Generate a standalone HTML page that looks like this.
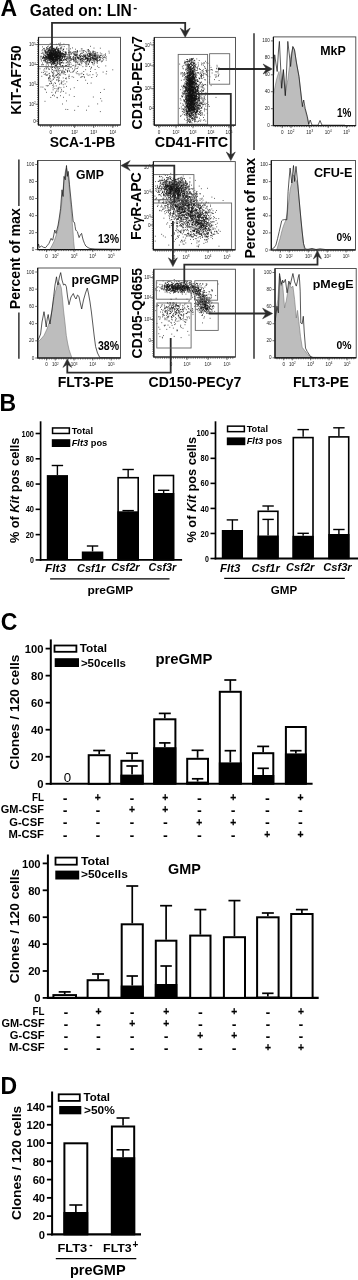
<!DOCTYPE html>
<html><head><meta charset="utf-8"><title>Figure</title>
<style>
html,body{margin:0;padding:0;background:#fff;}
svg{display:block;font-family:"Liberation Sans", sans-serif;}
</style></head><body>
<svg width="358" height="1280" viewBox="0 0 358 1280">
<rect x="0" y="0" width="358" height="1280" fill="#fff"/>
<g style="filter:blur(0.4px)">
<text x="0.5" y="16.1" font-size="23" font-weight="bold" >A</text>
<text x="29.8" y="16.2" font-size="15.6" font-weight="bold" textLength="102" lengthAdjust="spacingAndGlyphs" >Gated on: LIN</text>
<text x="133.2" y="11.3" font-size="11" font-weight="bold" textLength="4" lengthAdjust="spacingAndGlyphs" >-</text>
<path d="M62.3 54.0h0.8M53.4 57.7h0.8M48.9 56.0h0.8M53.2 48.6h0.8M58.7 58.5h0.8M49.8 55.3h0.8M55.9 54.9h0.8M51.9 49.9h0.8M56.2 56.5h0.8M54.7 49.6h0.8M62.1 56.6h0.8M51.1 64.5h0.8M53.0 49.9h0.8M51.0 46.4h0.8M58.9 54.3h0.8M49.2 60.5h0.8M44.3 58.2h0.8M42.1 53.2h0.8M46.7 62.1h0.8M62.7 54.6h0.8M57.7 55.2h0.8M56.3 52.8h0.8M44.0 48.4h0.8M55.3 65.4h0.8M54.7 53.8h0.8M63.5 57.0h0.8M53.7 57.1h0.8M52.5 54.7h0.8M45.5 58.1h0.8M52.7 61.0h0.8M51.2 48.0h0.8M52.7 63.1h0.8M51.1 52.3h0.8M46.8 51.6h0.8M51.6 51.0h0.8M61.3 54.8h0.8M53.8 62.0h0.8M61.3 55.1h0.8M55.0 59.1h0.8M52.2 48.5h0.8M56.7 59.8h0.8M55.4 52.1h0.8M52.1 53.5h0.8M51.6 61.4h0.8M61.5 58.8h0.8M56.2 58.8h0.8M53.1 55.7h0.8M49.6 55.8h0.8M65.4 59.6h0.8M51.4 54.0h0.8M48.5 57.6h0.8M55.3 49.9h0.8M55.8 53.6h0.8M60.9 56.7h0.8M62.5 54.1h0.8M51.6 57.3h0.8M58.9 58.4h0.8M46.5 56.8h0.8M53.3 54.2h0.8M49.7 63.3h0.8M51.1 52.4h0.8M56.6 56.5h0.8M52.8 59.3h0.8M55.8 57.5h0.8M58.4 57.2h0.8M49.9 54.5h0.8M50.4 56.9h0.8M47.4 48.3h0.8M53.7 50.4h0.8M42.7 57.6h0.8M49.4 58.1h0.8M50.3 51.3h0.8M46.5 53.8h0.8M51.7 52.5h0.8M51.7 49.5h0.8M53.3 48.5h0.8M52.2 58.9h0.8M59.1 63.2h0.8M44.8 59.2h0.8M59.7 60.1h0.8M48.2 57.7h0.8M63.2 49.7h0.8M55.8 60.7h0.8M49.4 58.4h0.8M47.4 52.6h0.8M48.8 56.8h0.8M52.7 60.0h0.8M48.1 55.4h0.8M58.4 58.4h0.8M46.0 58.8h0.8M50.6 57.6h0.8M54.8 61.1h0.8M53.8 48.2h0.8M45.8 59.1h0.8M51.8 60.8h0.8M54.7 52.9h0.8M59.0 52.6h0.8M42.1 64.7h0.8M42.9 58.7h0.8M58.3 56.6h0.8M44.1 60.3h0.8M45.4 50.4h0.8M51.2 59.3h0.8M54.8 59.4h0.8M50.8 55.3h0.8M47.1 54.7h0.8M56.4 54.7h0.8M55.8 53.6h0.8M50.0 56.2h0.8M52.1 58.5h0.8M54.2 63.3h0.8M52.0 55.0h0.8M47.6 56.1h0.8M56.9 52.9h0.8M52.9 59.0h0.8M52.5 53.8h0.8M58.5 56.4h0.8M55.3 60.9h0.8M59.4 54.5h0.8M50.4 57.2h0.8M52.5 48.0h0.8M60.1 56.1h0.8M57.2 51.1h0.8M60.2 53.5h0.8M52.6 50.1h0.8M52.3 55.0h0.8M52.2 57.8h0.8M53.5 60.1h0.8M50.7 51.8h0.8M53.1 58.6h0.8M59.9 59.4h0.8M43.7 57.6h0.8M61.1 56.3h0.8M50.4 57.3h0.8M50.5 58.7h0.8M53.1 61.9h0.8M55.9 53.0h0.8M56.5 59.9h0.8M50.1 54.2h0.8M40.8 59.8h0.8M50.0 47.1h0.8M43.6 55.1h0.8M57.3 55.6h0.8M55.7 51.4h0.8M46.0 59.7h0.8M55.9 55.9h0.8M60.1 52.0h0.8M50.9 60.3h0.8M63.1 56.0h0.8M62.3 53.5h0.8M55.0 55.3h0.8M44.6 57.1h0.8M58.2 55.4h0.8M52.8 61.9h0.8M46.5 49.7h0.8M49.7 51.0h0.8M60.5 57.3h0.8M48.5 53.4h0.8M68.6 53.4h0.8M49.1 57.3h0.8M56.6 56.9h0.8M48.3 51.1h0.8M56.4 55.8h0.8M44.3 60.9h0.8M57.4 55.0h0.8M51.8 57.0h0.8M49.5 50.3h0.8M54.9 50.0h0.8M55.3 49.9h0.8M52.7 55.4h0.8M62.8 51.5h0.8M45.6 53.3h0.8M47.1 53.5h0.8M55.5 59.2h0.8M62.2 52.9h0.8M67.4 64.3h0.8M52.1 46.4h0.8M52.8 56.3h0.8M40.8 56.3h0.8M52.1 52.7h0.8M56.6 60.2h0.8M50.6 57.0h0.8M49.7 52.7h0.8M53.6 58.2h0.8M50.2 46.7h0.8M56.4 49.3h0.8M53.9 63.5h0.8M53.1 51.0h0.8M45.3 60.9h0.8M53.1 58.3h0.8M58.2 55.8h0.8M51.5 52.0h0.8M52.8 55.3h0.8M55.4 55.5h0.8M54.1 59.3h0.8M48.4 54.8h0.8M44.5 60.1h0.8M53.4 58.1h0.8M61.5 60.5h0.8M52.9 59.3h0.8M45.5 57.8h0.8M54.0 49.2h0.8M60.4 53.0h0.8M56.9 54.2h0.8M58.6 61.5h0.8M48.7 49.6h0.8M52.5 59.6h0.8M51.2 53.4h0.8M55.8 44.4h0.8M49.6 50.2h0.8M54.8 52.9h0.8M47.2 54.5h0.8M45.3 55.9h0.8M49.5 54.4h0.8M49.3 59.8h0.8M52.6 58.2h0.8M55.8 52.6h0.8M56.3 57.5h0.8M54.9 54.3h0.8M50.9 59.3h0.8M65.0 52.5h0.8M56.1 54.5h0.8M57.4 57.8h0.8M58.9 44.3h0.8M50.0 51.8h0.8M52.6 53.0h0.8M49.7 58.9h0.8M63.5 44.1h0.8M51.5 57.3h0.8M53.2 54.6h0.8M45.9 52.0h0.8M57.1 60.5h0.8M53.7 52.5h0.8M53.7 55.0h0.8M56.1 56.5h0.8M49.8 56.8h0.8M46.8 59.4h0.8M59.6 51.1h0.8M55.5 51.8h0.8M59.0 59.8h0.8M52.0 60.2h0.8M50.9 53.3h0.8M50.1 55.4h0.8M51.5 56.6h0.8M49.9 59.2h0.8M58.7 53.9h0.8M45.5 59.0h0.8M59.3 55.3h0.8M46.3 57.1h0.8M61.4 48.1h0.8M55.8 54.7h0.8M48.6 58.1h0.8M46.2 57.2h0.8M60.3 56.7h0.8M48.5 48.5h0.8M46.3 48.3h0.8M61.8 55.0h0.8M47.6 50.5h0.8M47.4 54.6h0.8M46.3 63.0h0.8M49.2 52.7h0.8M54.9 62.1h0.8M60.3 54.0h0.8M54.6 56.6h0.8M56.1 57.1h0.8M48.1 50.7h0.8M54.1 51.0h0.8M60.6 56.2h0.8M47.7 54.6h0.8M50.5 55.4h0.8M58.3 49.9h0.8M43.1 57.4h0.8M52.2 56.7h0.8M55.6 55.2h0.8M57.5 52.2h0.8M53.5 52.5h0.8M47.1 58.6h0.8M56.3 47.8h0.8M47.1 57.2h0.8M59.0 53.2h0.8M52.2 50.1h0.8M66.8 58.0h0.8M58.0 58.8h0.8M58.2 58.6h0.8M51.4 59.1h0.8M53.6 61.4h0.8M49.2 53.7h0.8M56.8 61.4h0.8M54.0 53.0h0.8M52.6 53.9h0.8M63.4 59.8h0.8M60.0 57.3h0.8M50.2 60.9h0.8M62.1 58.4h0.8M53.1 60.5h0.8M51.2 59.2h0.8M49.4 51.9h0.8M56.3 57.4h0.8M63.5 54.8h0.8M53.3 51.2h0.8M43.1 48.5h0.8M55.7 51.1h0.8M59.3 62.0h0.8M51.7 63.0h0.8M54.4 60.7h0.8M52.0 60.0h0.8M48.1 58.6h0.8M50.7 55.5h0.8M56.6 56.7h0.8M52.8 59.1h0.8M57.5 50.2h0.8M56.2 58.8h0.8M49.1 57.6h0.8M46.0 62.0h0.8M51.9 55.7h0.8M59.7 55.4h0.8M56.4 51.6h0.8M50.1 50.2h0.8M52.1 60.3h0.8M54.4 59.7h0.8M47.7 52.3h0.8M50.7 58.4h0.8M55.1 55.9h0.8M56.6 55.4h0.8M53.1 61.5h0.8M50.0 56.8h0.8M61.9 56.4h0.8M57.0 53.5h0.8M63.8 46.6h0.8M47.1 51.6h0.8M61.9 57.5h0.8M51.8 50.6h0.8M55.2 56.5h0.8M49.5 49.7h0.8M47.2 56.9h0.8M54.9 56.3h0.8M52.4 48.6h0.8M53.5 51.7h0.8M53.4 58.0h0.8M49.6 51.7h0.8M58.6 57.5h0.8M49.8 43.4h0.8M52.9 58.6h0.8M59.3 53.2h0.8M49.7 54.1h0.8M57.7 51.1h0.8M52.6 52.1h0.8M54.7 49.5h0.8M55.2 53.9h0.8M52.0 58.2h0.8M59.4 48.9h0.8M58.6 58.3h0.8M51.6 61.9h0.8M54.2 61.4h0.8M50.0 52.4h0.8M59.8 65.1h0.8M56.6 59.7h0.8M50.6 50.4h0.8M52.0 62.3h0.8M43.2 53.9h0.8M42.9 56.5h0.8M57.9 50.8h0.8M51.0 61.6h0.8M52.7 50.8h0.8M46.1 47.5h0.8M57.4 52.9h0.8M58.9 59.6h0.8M49.6 53.8h0.8M57.4 56.6h0.8M54.6 49.1h0.8M58.0 52.3h0.8M40.9 53.4h0.8M55.5 64.8h0.8M51.2 50.4h0.8M64.7 56.7h0.8M51.8 51.5h0.8M47.8 62.2h0.8M51.7 53.7h0.8M50.4 62.6h0.8M50.0 58.6h0.8M54.6 57.0h0.8M48.5 58.8h0.8M61.9 55.8h0.8M48.2 50.6h0.8M54.2 54.9h0.8M52.6 56.0h0.8M45.2 59.3h0.8M54.5 55.7h0.8M54.5 59.9h0.8M53.5 52.4h0.8M59.5 54.2h0.8M49.3 49.4h0.8M53.2 51.6h0.8M50.4 57.9h0.8M53.4 60.3h0.8M54.8 54.3h0.8M51.4 53.9h0.8M56.7 56.1h0.8M51.0 59.5h0.8M53.7 54.0h0.8M45.0 57.8h0.8M54.5 56.2h0.8M50.9 52.5h0.8M52.0 57.0h0.8M52.5 55.4h0.8M50.7 57.4h0.8M54.5 52.8h0.8M57.3 59.3h0.8M57.6 55.5h0.8M52.2 51.1h0.8M57.3 47.0h0.8M51.1 54.6h0.8M57.8 56.0h0.8M48.0 50.0h0.8M49.3 56.4h0.8M53.5 55.2h0.8M49.5 55.1h0.8M58.6 51.4h0.8M53.4 62.8h0.8M56.2 54.1h0.8M56.8 52.8h0.8M53.2 62.5h0.8M63.4 48.8h0.8M57.0 64.2h0.8M50.3 57.1h0.8M61.3 53.9h0.8M55.6 55.8h0.8M42.8 57.5h0.8M52.2 59.9h0.8M64.5 58.9h0.8M51.2 57.9h0.8M54.3 60.3h0.8M45.4 51.1h0.8M42.2 58.5h0.8M53.1 53.3h0.8M49.3 53.6h0.8M48.2 54.7h0.8M50.5 61.8h0.8M54.9 52.6h0.8M50.0 61.0h0.8M55.6 57.2h0.8M57.1 62.7h0.8M46.6 52.9h0.8M43.8 58.1h0.8M51.2 53.2h0.8M49.1 58.9h0.8M52.4 53.8h0.8M60.0 51.6h0.8M46.4 66.9h0.8M51.2 53.7h0.8M49.3 55.4h0.8M57.4 59.2h0.8M56.1 54.8h0.8M45.2 57.2h0.8M61.4 60.5h0.8M52.3 59.4h0.8M51.1 55.8h0.8M46.5 54.7h0.8M54.0 55.3h0.8M57.4 63.9h0.8M60.3 54.7h0.8M49.3 53.3h0.8M47.9 56.1h0.8M55.5 56.8h0.8M54.2 56.7h0.8M52.5 52.9h0.8M62.5 60.4h0.8M48.3 52.2h0.8M50.0 56.1h0.8M60.0 60.3h0.8M59.0 60.6h0.8M59.2 59.1h0.8M55.7 55.5h0.8M43.8 55.5h0.8M62.9 53.7h0.8M49.8 60.3h0.8M53.6 54.0h0.8M61.6 58.6h0.8M57.3 53.6h0.8M55.9 57.6h0.8M57.4 60.8h0.8M59.3 56.7h0.8M56.9 51.2h0.8M56.7 58.9h0.8M51.1 52.8h0.8M52.9 50.9h0.8M55.0 57.2h0.8M48.1 56.2h0.8M59.0 60.5h0.8M58.7 55.4h0.8M51.4 54.4h0.8M56.4 65.9h0.8M60.8 62.7h0.8M60.5 49.2h0.8M52.1 54.2h0.8M59.9 63.1h0.8M49.6 56.2h0.8M56.2 53.9h0.8M49.8 53.2h0.8M58.0 52.2h0.8M59.3 56.4h0.8M57.3 62.5h0.8M49.6 52.6h0.8M55.5 51.7h0.8M49.3 55.5h0.8M54.0 50.8h0.8M51.1 58.4h0.8M60.5 47.8h0.8M60.2 59.7h0.8M47.4 49.8h0.8M55.4 54.2h0.8M53.9 59.6h0.8M51.2 56.7h0.8M55.8 59.7h0.8M62.7 63.1h0.8M54.5 55.0h0.8M66.0 58.7h0.8M55.5 51.4h0.8M57.4 52.8h0.8M50.7 50.4h0.8M50.4 56.3h0.8M45.1 52.3h0.8M52.8 50.7h0.8M46.5 52.5h0.8M45.6 58.6h0.8M47.9 59.2h0.8M58.2 51.0h0.8M53.4 54.0h0.8M47.1 54.6h0.8M51.9 59.0h0.8M58.7 51.4h0.8M51.0 58.2h0.8M59.5 45.8h0.8M60.1 55.3h0.8M61.5 54.2h0.8M48.7 56.2h0.8M59.5 56.1h0.8M40.5 58.9h0.8M44.5 51.9h0.8M46.9 48.3h0.8M46.4 51.9h0.8M49.9 55.8h0.8M51.4 49.8h0.8M52.2 60.1h0.8M58.3 56.6h0.8M56.5 59.7h0.8M60.6 63.1h0.8M51.5 54.9h0.8M61.2 62.6h0.8M61.5 46.2h0.8M52.0 42.3h0.8M57.1 56.2h0.8M53.5 55.4h0.8M60.2 54.8h0.8M58.8 58.3h0.8M55.1 57.9h0.8M53.8 51.4h0.8M57.1 59.0h0.8M52.4 59.1h0.8M58.1 50.6h0.8M52.4 54.1h0.8M48.3 57.4h0.8M48.6 54.2h0.8M54.5 57.5h0.8M54.9 65.4h0.8M50.5 57.1h0.8M46.7 58.0h0.8M59.4 61.1h0.8M49.8 54.8h0.8M60.0 55.6h0.8M58.4 51.9h0.8M60.7 60.3h0.8M55.7 52.6h0.8M52.3 56.6h0.8M54.6 55.6h0.8M52.0 56.8h0.8M60.7 47.6h0.8M45.8 49.5h0.8M49.5 48.7h0.8M56.2 56.4h0.8M51.8 53.1h0.8M54.0 56.7h0.8M55.0 52.9h0.8M56.7 49.8h0.8M59.9 43.1h0.8M50.0 51.0h0.8M57.5 49.8h0.8M63.0 49.5h0.8M64.2 57.9h0.8M53.4 57.8h0.8M65.0 59.8h0.8M41.1 61.0h0.8M54.5 49.2h0.8M57.3 50.9h0.8M54.2 57.0h0.8M49.7 58.7h0.8M47.7 56.8h0.8M50.2 55.2h0.8M63.6 56.5h0.8M47.3 55.5h0.8M49.0 56.1h0.8M54.1 56.4h0.8M53.7 53.7h0.8M55.6 60.4h0.8M49.8 55.8h0.8M53.5 61.3h0.8M59.0 52.9h0.8M53.6 49.7h0.8M48.0 56.1h0.8M56.6 60.0h0.8M51.5 50.3h0.8M55.3 55.3h0.8M55.5 56.7h0.8M57.1 58.7h0.8M57.8 54.1h0.8M58.6 53.9h0.8M53.7 63.8h0.8M55.1 51.1h0.8M61.2 60.2h0.8M59.4 56.8h0.8M55.1 55.0h0.8M49.4 62.4h0.8M51.2 54.0h0.8M50.8 63.8h0.8M57.9 54.5h0.8M53.0 58.1h0.8M57.9 49.2h0.8M58.1 55.1h0.8M49.5 54.4h0.8M57.5 63.4h0.8M54.0 58.3h0.8M48.8 58.1h0.8M57.6 49.8h0.8M50.4 59.3h0.8M43.7 54.4h0.8M56.4 48.9h0.8M51.1 56.2h0.8M58.0 50.6h0.8M59.2 57.3h0.8M59.7 60.9h0.8M55.0 58.0h0.8M43.8 50.3h0.8M47.8 54.5h0.8M58.2 48.5h0.8M51.5 50.5h0.8M44.8 62.2h0.8M53.7 62.9h0.8M59.6 52.1h0.8M43.2 64.7h0.8M51.0 51.2h0.8M56.9 56.6h0.8M49.6 54.5h0.8M54.1 56.3h0.8M57.3 54.5h0.8M51.3 58.5h0.8M54.9 60.6h0.8M51.9 55.6h0.8M47.0 62.3h0.8M45.7 56.8h0.8M48.4 57.4h0.8M57.2 49.1h0.8M52.1 48.6h0.8M60.8 54.1h0.8M44.7 53.1h0.8M60.3 62.2h0.8M60.1 52.7h0.8M52.4 62.9h0.8M49.2 54.6h0.8M48.0 51.1h0.8M59.7 58.6h0.8M55.6 58.4h0.8M58.7 62.3h0.8M53.2 54.6h0.8M47.7 60.5h0.8M50.4 49.7h0.8M51.7 56.1h0.8M57.7 60.2h0.8M49.3 52.6h0.8M51.4 50.9h0.8M52.6 57.9h0.8M53.4 49.2h0.8M46.8 61.4h0.8M47.7 59.1h0.8M56.6 54.6h0.8M47.8 56.9h0.8M48.4 55.3h0.8M53.8 53.0h0.8M52.0 54.7h0.8M46.5 55.2h0.8M49.8 48.3h0.8M51.4 54.8h0.8M49.9 47.3h0.8M57.4 58.9h0.8M56.7 57.4h0.8M46.4 56.5h0.8M48.2 65.2h0.8M50.4 58.8h0.8M44.8 51.0h0.8M50.3 59.0h0.8M56.2 57.2h0.8M43.2 60.8h0.8M48.2 62.8h0.8M63.3 59.5h0.8M58.5 50.7h0.8M67.1 56.9h0.8M58.6 52.4h0.8M52.8 51.0h0.8M51.9 56.1h0.8M54.6 61.9h0.8M55.8 57.0h0.8M53.4 64.4h0.8M50.1 61.0h0.8M42.6 52.3h0.8M55.4 55.3h0.8M69.4 66.8h0.8M45.0 51.5h0.8M52.4 63.3h0.8M59.3 57.4h0.8M45.6 52.5h0.8M55.5 59.3h0.8M46.2 56.5h0.8M62.0 56.7h0.8M51.6 58.6h0.8M56.1 56.4h0.8M50.3 54.2h0.8M53.7 53.7h0.8M60.4 59.8h0.8M59.1 64.5h0.8M61.8 62.0h0.8M55.2 55.2h0.8M65.7 53.2h0.8M49.9 52.4h0.8M54.4 57.8h0.8M58.8 55.1h0.8M43.9 57.4h0.8M58.5 56.2h0.8M52.5 58.4h0.8M61.0 55.7h0.8M45.6 53.6h0.8M52.3 48.5h0.8M57.4 52.8h0.8M56.0 56.8h0.8M51.5 62.8h0.8M50.2 53.2h0.8M54.8 59.5h0.8M53.2 51.9h0.8M56.9 58.5h0.8M64.4 55.1h0.8M54.4 53.6h0.8M45.2 56.3h0.8M57.8 51.7h0.8M49.6 51.1h0.8M60.4 53.3h0.8M56.3 52.4h0.8M53.6 53.4h0.8M40.5 56.3h0.8M56.1 47.2h0.8M52.3 54.2h0.8M47.4 54.9h0.8M42.7 57.1h0.8M59.6 50.7h0.8M52.8 62.0h0.8M53.9 53.8h0.8M48.3 56.7h0.8M52.5 58.7h0.8M45.0 60.5h0.8M51.0 58.7h0.8M49.3 50.5h0.8M50.1 52.0h0.8M51.2 58.7h0.8M59.0 56.9h0.8M50.3 54.1h0.8M56.4 60.8h0.8M51.5 55.5h0.8M49.1 56.9h0.8M58.4 43.8h0.8M54.6 53.7h0.8M40.6 57.3h0.8M52.7 57.6h0.8M45.8 65.0h0.8M53.8 54.6h0.8M61.4 58.7h0.8M57.7 60.9h0.8M42.0 63.0h0.8M51.3 57.2h0.8M58.2 53.0h0.8M54.9 59.2h0.8M53.0 58.1h0.8M44.5 51.0h0.8M47.0 57.6h0.8M73.4 57.1h0.8M52.4 55.7h0.8M58.5 59.0h0.8M47.0 60.3h0.8M53.1 59.4h0.8M42.4 49.5h0.8M56.4 48.4h0.8M55.3 57.4h0.8M54.0 57.5h0.8M54.6 57.9h0.8M51.0 55.9h0.8M69.0 60.8h0.8M56.5 57.6h0.8M49.3 57.0h0.8M51.9 60.0h0.8M48.3 46.1h0.8M50.2 58.9h0.8M66.5 60.3h0.8M47.9 55.1h0.8M48.1 55.2h0.8M48.4 49.1h0.8M55.6 56.8h0.8M52.3 57.5h0.8M64.2 56.5h0.8M51.2 59.6h0.8M44.3 59.2h0.8M49.0 52.6h0.8M53.8 63.0h0.8M49.2 60.0h0.8M55.2 50.2h0.8M58.1 52.5h0.8M45.3 52.7h0.8M49.3 58.5h0.8M49.2 62.3h0.8M54.4 53.0h0.8M48.7 57.0h0.8M42.2 46.9h0.8M48.4 58.6h0.8M54.2 56.1h0.8M52.0 46.9h0.8M51.4 48.5h0.8M57.7 56.0h0.8M52.7 57.7h0.8M54.9 57.0h0.8M55.1 53.5h0.8M46.0 57.4h0.8M61.0 60.2h0.8M52.0 58.6h0.8M50.8 57.6h0.8M49.9 56.6h0.8M64.0 59.2h0.8M61.3 52.8h0.8M49.5 55.8h0.8M56.2 55.1h0.8M58.7 53.7h0.8M60.5 60.1h0.8M47.2 58.4h0.8M52.0 60.3h0.8M50.3 57.3h0.8M56.1 44.4h0.8M43.0 56.5h0.8M52.5 60.3h0.8M54.4 50.7h0.8M55.0 52.8h0.8M52.0 53.9h0.8M55.1 50.0h0.8M47.2 46.7h0.8M64.8 51.8h0.8M48.5 51.1h0.8M49.7 54.2h0.8M56.5 56.7h0.8M55.0 53.5h0.8M52.8 61.1h0.8M53.1 57.3h0.8M42.2 58.2h0.8M54.6 61.4h0.8M52.5 56.3h0.8M49.7 56.8h0.8M56.9 56.1h0.8M51.5 55.0h0.8M51.0 56.1h0.8M49.2 47.6h0.8M60.4 48.5h0.8M52.4 50.4h0.8M51.5 51.8h0.8M52.8 52.4h0.8M46.0 57.2h0.8M60.2 57.3h0.8M53.6 51.4h0.8M52.6 57.7h0.8M49.5 59.6h0.8M52.8 57.3h0.8M50.3 53.8h0.8M54.2 57.4h0.8M54.8 51.5h0.8M49.0 55.7h0.8M42.9 60.2h0.8M54.7 56.0h0.8M49.1 59.2h0.8M51.5 63.8h0.8M55.1 49.5h0.8M56.9 53.6h0.8M50.1 54.8h0.8M52.2 56.8h0.8M57.0 57.7h0.8M49.0 50.1h0.8M48.5 57.3h0.8M57.6 63.3h0.8M45.6 56.1h0.8M51.7 54.1h0.8M53.6 54.7h0.8M51.4 53.0h0.8M55.0 60.2h0.8M61.7 53.5h0.8M47.2 54.6h0.8M48.4 60.1h0.8M48.5 56.1h0.8M45.6 54.3h0.8M53.9 62.2h0.8M49.1 57.3h0.8M41.7 50.7h0.8M48.5 53.7h0.8M55.2 58.4h0.8M44.2 58.0h0.8M46.8 63.4h0.8M54.6 56.4h0.8M51.9 55.6h0.8M52.9 52.8h0.8M56.9 56.9h0.8M56.9 55.5h0.8M56.5 52.6h0.8M72.1 52.7h0.8M50.4 59.8h0.8M59.5 52.4h0.8M43.9 49.9h0.8M47.5 52.4h0.8M52.0 60.1h0.8M58.7 53.2h0.8M55.8 59.4h0.8M60.4 55.1h0.8M48.8 58.9h0.8M61.0 53.5h0.8M63.4 62.9h0.8M51.4 49.1h0.8M49.6 54.2h0.8M55.7 48.7h0.8M66.0 65.5h0.8M48.9 47.9h0.8M51.9 57.5h0.8M60.1 58.7h0.8M51.7 47.4h0.8M55.6 59.2h0.8M51.1 56.9h0.8M53.9 54.7h0.8M46.6 57.1h0.8M45.2 61.6h0.8M48.0 57.8h0.8M69.2 57.6h0.8M74.9 58.2h0.8M68.5 50.4h0.8M74.1 55.0h0.8M60.6 53.7h0.8M58.8 56.6h0.8M73.1 56.3h0.8M105.8 56.8h0.8M81.3 58.5h0.8M75.6 54.1h0.8M86.8 59.9h0.8M45.1 55.6h0.8M73.4 54.2h0.8M90.8 54.3h0.8M86.7 54.3h0.8M72.7 58.8h0.8M69.0 55.6h0.8M65.0 53.0h0.8M85.1 58.3h0.8M64.6 52.0h0.8M105.1 53.9h0.8M67.6 58.1h0.8M68.6 54.9h0.8M86.9 59.8h0.8M75.0 61.0h0.8M75.5 55.3h0.8M77.1 55.1h0.8M82.9 57.2h0.8M68.6 56.9h0.8M71.2 54.1h0.8M75.6 59.9h0.8M80.2 60.8h0.8M94.3 56.1h0.8M70.5 53.4h0.8M80.2 59.3h0.8M94.5 51.5h0.8M87.3 60.1h0.8M103.9 56.9h0.8M76.8 50.8h0.8M68.6 52.3h0.8M66.1 53.0h0.8M60.3 55.9h0.8M81.4 59.0h0.8M76.2 60.0h0.8M89.0 50.8h0.8M74.2 51.8h0.8M66.5 56.9h0.8M75.9 61.5h0.8M99.8 57.8h0.8M75.2 55.7h0.8M77.2 58.3h0.8M69.2 58.4h0.8M74.6 60.1h0.8M92.3 62.5h0.8M75.6 51.4h0.8M58.8 55.2h0.8M61.8 50.4h0.8M73.5 52.8h0.8M85.0 63.3h0.8M74.9 57.4h0.8M60.1 57.0h0.8M69.7 52.4h0.8M57.0 62.1h0.8M59.7 52.0h0.8M77.6 57.4h0.8M80.7 56.7h0.8M67.7 59.1h0.8M79.6 51.1h0.8M95.2 55.1h0.8M88.0 51.1h0.8M64.5 54.3h0.8M70.0 60.0h0.8M59.7 57.0h0.8M66.4 58.2h0.8M79.9 54.4h0.8M102.1 56.2h0.8M89.7 51.6h0.8M76.3 56.7h0.8M79.2 55.1h0.8M68.5 45.2h0.8M71.4 53.1h0.8M74.8 59.5h0.8M102.1 58.3h0.8M88.9 58.7h0.8M85.7 58.5h0.8M74.8 55.2h0.8M81.4 62.9h0.8M86.4 62.2h0.8M63.6 57.4h0.8M82.2 58.3h0.8M62.7 49.8h0.8M54.5 55.0h0.8M103.7 57.2h0.8M64.6 57.7h0.8M74.6 57.1h0.8M72.9 51.8h0.8M72.1 59.1h0.8M81.3 60.9h0.8M66.2 60.3h0.8M78.7 57.2h0.8M91.8 56.1h0.8M80.9 58.8h0.8M85.3 59.5h0.8M92.4 58.5h0.8M73.4 65.4h0.8M77.9 58.0h0.8M70.1 48.8h0.8M69.8 56.9h0.8M84.2 56.7h0.8M87.1 60.2h0.8M89.3 56.6h0.8M79.3 55.9h0.8M68.8 61.8h0.8M64.8 56.4h0.8M80.9 48.9h0.8M86.6 55.4h0.8M80.9 55.5h0.8M61.6 57.4h0.8M79.6 60.2h0.8M83.7 50.6h0.8M90.6 59.5h0.8M86.9 58.4h0.8M70.7 58.6h0.8M74.5 67.0h0.8M75.9 52.7h0.8M74.7 61.8h0.8M72.2 47.9h0.8M94.6 57.8h0.8M73.0 59.2h0.8M68.3 52.4h0.8M89.0 54.8h0.8M84.3 56.7h0.8M87.6 57.0h0.8M55.9 59.1h0.8M73.3 59.8h0.8M79.7 61.8h0.8M75.0 49.2h0.8M74.9 58.5h0.8M74.7 55.0h0.8M94.7 56.1h0.8M90.0 57.2h0.8M62.5 53.3h0.8M75.0 57.8h0.8M69.5 51.6h0.8M67.3 54.8h0.8M68.7 54.5h0.8M98.9 57.6h0.8M69.4 56.6h0.8M95.8 59.0h0.8M77.3 51.8h0.8M59.7 55.4h0.8M77.2 50.8h0.8M63.7 56.5h0.8M54.0 50.4h0.8M77.8 58.6h0.8M81.9 60.2h0.8M95.7 59.9h0.8M75.5 64.3h0.8M96.9 60.0h0.8M69.5 58.1h0.8M55.4 55.5h0.8M51.1 55.1h0.8M89.8 56.7h0.8M96.3 56.7h0.8M79.6 55.6h0.8M84.4 56.6h0.8M91.8 62.5h0.8M82.7 52.6h0.8M84.7 61.6h0.8M85.8 57.8h0.8M89.0 61.5h0.8M49.9 62.2h0.8M87.2 58.4h0.8M72.5 57.5h0.8M85.3 51.4h0.8M86.9 57.0h0.8M94.8 59.2h0.8M76.7 56.9h0.8M85.7 57.2h0.8M84.7 54.1h0.8M64.9 54.7h0.8M62.9 53.9h0.8M82.6 50.8h0.8M65.1 59.4h0.8M72.8 56.7h0.8M65.1 53.0h0.8M75.3 62.6h0.8M83.5 50.7h0.8M83.6 60.0h0.8M86.3 52.3h0.8M77.9 64.4h0.8M68.4 57.9h0.8M70.4 52.1h0.8M73.9 60.4h0.8M91.4 53.5h0.8M73.5 53.5h0.8M55.8 58.9h0.8M95.8 62.1h0.8M73.6 61.5h0.8M90.7 55.5h0.8M78.7 55.4h0.8M81.4 63.3h0.8M68.6 52.4h0.8M88.4 57.0h0.8M58.0 53.1h0.8M69.7 54.6h0.8M82.3 60.3h0.8M77.0 57.3h0.8M70.6 60.4h0.8M93.6 55.8h0.8M70.7 64.2h0.8M89.0 53.6h0.8M60.2 55.7h0.8M92.0 54.8h0.8M76.2 55.0h0.8M86.0 61.8h0.8M65.0 55.8h0.8M76.7 54.6h0.8M65.7 59.8h0.8M80.6 59.4h0.8M95.6 55.5h0.8M84.9 55.4h0.8M78.0 58.0h0.8M77.1 51.4h0.8M95.5 57.4h0.8M66.4 48.9h0.8M78.7 59.2h0.8M90.1 60.8h0.8M74.8 59.1h0.8M62.0 57.4h0.8M89.1 54.6h0.8M77.2 57.2h0.8M80.5 62.2h0.8M67.1 61.6h0.8M65.2 54.4h0.8M70.4 56.5h0.8M73.5 58.6h0.8M79.1 64.8h0.8M83.2 55.9h0.8M83.1 59.0h0.8M76.9 52.8h0.8M70.1 57.5h0.8M88.2 58.6h0.8M78.0 58.9h0.8M73.6 57.8h0.8M94.6 60.8h0.8M93.9 55.5h0.8M81.2 53.2h0.8M89.1 55.3h0.8M64.4 55.0h0.8M81.7 48.9h0.8M63.4 60.4h0.8M80.0 56.6h0.8M61.2 62.5h0.8M90.2 59.3h0.8M66.7 58.9h0.8M91.5 55.6h0.8M76.2 55.1h0.8M85.5 56.0h0.8M75.4 51.6h0.8M60.6 60.2h0.8M96.2 59.9h0.8M94.5 54.9h0.8M78.4 58.1h0.8M77.1 62.8h0.8M64.3 54.7h0.8M75.0 54.2h0.8M88.2 49.6h0.8M91.4 60.0h0.8M82.4 61.8h0.8M104.7 57.5h0.8M86.9 58.2h0.8M84.7 55.0h0.8M71.0 59.0h0.8M73.2 60.2h0.8M87.8 55.2h0.8M83.0 57.1h0.8M77.5 60.9h0.8M79.5 57.7h0.8M57.8 59.0h0.8M63.3 55.5h0.8M96.8 63.3h0.8M74.8 52.3h0.8M83.5 55.4h0.8M82.9 52.0h0.8M91.4 62.4h0.8M63.2 54.1h0.8M71.5 59.5h0.8M57.5 57.6h0.8M76.6 54.0h0.8M86.9 49.9h0.8M64.1 54.1h0.8M87.0 55.6h0.8M70.1 58.6h0.8M73.9 54.6h0.8M75.9 58.1h0.8M108.8 53.0h0.8M82.3 56.4h0.8M76.4 62.4h0.8M87.8 59.3h0.8M74.3 53.9h0.8M82.6 55.9h0.8M73.1 59.4h0.8M66.1 54.3h0.8M88.1 56.7h0.8M86.8 53.9h0.8M87.2 54.4h0.8M94.4 59.8h0.8M84.6 62.5h0.8M83.4 54.7h0.8M96.6 58.3h0.8M92.9 57.6h0.8M92.4 53.9h0.8M65.7 52.0h0.8M88.0 50.0h0.8M60.1 51.9h0.8M82.2 58.6h0.8M70.7 59.9h0.8M83.2 61.4h0.8M90.1 54.6h0.8M81.9 56.5h0.8M84.8 57.8h0.8M80.0 59.6h0.8M80.4 59.7h0.8M80.2 56.5h0.8M89.9 60.5h0.8M93.4 59.4h0.8M77.5 57.8h0.8M81.5 50.8h0.8M67.5 62.6h0.8M93.6 48.1h0.8M93.3 58.6h0.8M86.6 66.0h0.8M100.7 60.9h0.8M92.8 59.7h0.8M99.0 59.7h0.8M90.0 58.7h0.8M94.8 59.1h0.8M87.7 59.0h0.8M93.9 58.9h0.8M95.1 53.0h0.8M99.0 60.6h0.8M85.9 57.7h0.8M88.8 56.4h0.8M99.9 59.8h0.8M105.7 58.3h0.8M87.1 58.4h0.8M79.2 64.2h0.8M95.3 59.5h0.8M94.6 54.9h0.8M93.0 55.1h0.8M90.6 59.0h0.8M86.4 63.6h0.8M87.2 60.7h0.8M89.7 53.4h0.8M95.8 58.3h0.8M92.1 57.5h0.8M89.6 59.2h0.8M90.4 57.7h0.8M99.9 53.0h0.8M89.8 55.3h0.8M88.4 52.9h0.8M91.5 58.1h0.8M92.5 52.0h0.8M97.2 60.0h0.8M93.5 54.1h0.8M88.0 64.3h0.8M103.3 59.2h0.8M87.6 61.9h0.8M94.1 63.3h0.8M89.6 59.1h0.8M91.8 60.1h0.8M89.2 60.7h0.8M90.7 54.4h0.8M96.4 58.3h0.8M80.4 57.4h0.8M93.6 58.2h0.8M105.2 55.3h0.8M92.9 51.6h0.8M84.3 55.5h0.8M92.2 56.8h0.8M96.8 60.0h0.8M99.0 56.9h0.8M95.9 55.0h0.8M95.2 59.2h0.8M90.0 46.3h0.8M89.1 66.5h0.8M92.4 55.3h0.8M93.6 61.4h0.8M95.0 56.8h0.8M85.3 56.5h0.8M85.8 58.7h0.8M102.0 61.2h0.8M89.4 54.1h0.8M84.6 59.0h0.8M96.4 60.2h0.8M95.0 53.3h0.8M81.5 61.4h0.8M87.9 64.1h0.8M80.3 53.6h0.8M87.3 58.4h0.8M96.9 55.5h0.8M96.5 52.9h0.8M89.9 53.2h0.8M89.6 55.2h0.8M94.7 69.5h0.8M84.7 56.7h0.8M97.0 57.7h0.8M101.4 53.8h0.8M97.5 54.7h0.8M97.8 58.0h0.8M94.4 55.4h0.8M81.8 53.6h0.8M97.1 56.5h0.8M97.3 52.8h0.8M96.7 60.9h0.8M79.6 58.5h0.8M104.5 54.8h0.8M98.9 57.6h0.8M98.0 56.1h0.8M88.3 55.9h0.8M90.7 55.4h0.8M87.6 61.3h0.8M89.4 53.2h0.8M87.3 59.2h0.8M79.6 59.2h0.8M97.2 61.9h0.8M90.3 54.6h0.8M94.0 58.0h0.8M100.8 57.7h0.8M90.4 52.8h0.8M91.7 57.7h0.8M100.0 57.8h0.8M101.0 61.8h0.8M88.4 53.5h0.8M89.2 56.7h0.8M88.1 59.9h0.8M97.0 61.7h0.8M94.7 56.0h0.8M95.4 54.3h0.8M93.9 54.8h0.8M99.9 48.2h0.8M98.1 60.6h0.8M92.7 58.7h0.8M94.2 62.0h0.8M102.9 57.5h0.8M102.8 55.2h0.8M95.5 59.0h0.8M85.4 58.6h0.8M89.0 60.3h0.8M87.7 51.3h0.8M85.2 57.6h0.8M94.9 58.7h0.8M88.4 60.3h0.8M89.7 56.7h0.8M98.9 56.9h0.8M81.7 60.0h0.8M93.0 56.1h0.8M100.7 55.3h0.8M96.9 58.0h0.8M108.6 51.2h0.8M94.2 58.7h0.8M99.6 56.0h0.8M89.2 62.4h0.8M90.4 58.5h0.8M92.7 58.8h0.8M84.9 55.6h0.8M92.7 57.9h0.8M99.6 59.3h0.8M96.4 57.3h0.8M100.5 55.4h0.8M92.4 52.3h0.8M86.7 60.5h0.8M92.7 51.0h0.8M92.7 56.7h0.8M86.2 58.6h0.8M91.3 57.5h0.8M98.6 55.3h0.8M99.4 56.5h0.8M91.4 62.0h0.8M95.2 56.1h0.8M92.2 58.2h0.8M84.2 59.8h0.8M92.9 52.9h0.8M87.3 60.5h0.8M85.4 65.0h0.8M86.5 58.2h0.8M77.6 57.2h0.8M89.8 59.1h0.8M94.1 56.3h0.8M105.8 60.1h0.8M88.5 58.6h0.8M75.6 55.4h0.8M100.3 55.4h0.8M93.7 53.3h0.8M97.5 57.8h0.8M92.8 60.6h0.8M102.6 60.2h0.8M82.4 58.7h0.8M94.3 53.3h0.8M43.5 70.0h0.8M53.4 73.7h0.8M50.1 76.1h0.8M57.8 71.2h0.8M58.5 67.9h0.8M43.8 74.3h0.8M62.2 104.0h0.8M39.6 68.8h0.8M49.0 77.3h0.8M49.0 75.7h0.8M63.0 66.1h0.8M55.0 92.1h0.8M62.2 56.6h0.8M71.1 66.9h0.8M57.9 69.9h0.8M52.2 66.8h0.8M60.3 65.9h0.8M46.2 68.2h0.8M55.6 52.4h0.8M61.6 66.6h0.8M61.1 89.7h0.8M58.0 80.4h0.8M52.3 67.1h0.8M41.4 72.4h0.8M51.6 48.5h0.8M57.7 91.2h0.8M58.7 87.3h0.8M53.6 63.3h0.8M56.2 70.7h0.8M47.2 85.9h0.8M56.9 67.3h0.8M57.1 72.9h0.8M60.3 92.1h0.8M51.1 61.4h0.8M66.0 100.9h0.8M51.1 64.6h0.8M46.7 74.5h0.8M56.5 71.7h0.8M62.0 65.6h0.8M51.3 60.8h0.8M66.1 86.4h0.8M65.5 65.4h0.8M65.8 77.9h0.8M61.2 81.1h0.8M53.4 72.8h0.8M44.3 68.7h0.8M54.1 62.0h0.8M56.6 88.8h0.8M52.1 64.1h0.8M49.4 76.8h0.8M68.9 76.6h0.8M56.3 61.1h0.8M58.3 81.6h0.8M52.8 74.5h0.8M50.9 82.8h0.8M65.8 78.9h0.8M59.6 75.4h0.8M51.0 66.3h0.8M52.8 76.1h0.8M55.8 85.9h0.8M61.4 91.1h0.8M61.7 72.1h0.8M56.6 57.0h0.8M68.3 68.4h0.8M52.8 94.8h0.8M47.9 68.1h0.8M55.4 68.5h0.8M56.6 77.5h0.8M60.6 73.7h0.8M61.1 71.2h0.8M60.5 87.8h0.8M43.0 72.4h0.8M57.3 54.2h0.8M51.1 83.5h0.8M55.8 74.7h0.8M53.3 76.0h0.8M49.2 69.3h0.8M61.8 72.1h0.8M59.7 74.8h0.8M53.4 64.3h0.8M62.2 65.8h0.8M58.7 57.9h0.8M57.9 79.1h0.8M51.2 57.2h0.8M54.7 76.0h0.8M52.0 67.5h0.8M62.7 73.7h0.8M52.8 84.1h0.8M55.8 67.2h0.8M62.4 70.9h0.8M62.8 67.5h0.8M58.3 88.4h0.8M59.3 80.4h0.8M59.3 84.2h0.8M56.5 79.8h0.8M54.2 95.9h0.8M49.4 83.9h0.8M48.6 80.8h0.8M65.7 63.0h0.8M69.0 64.4h0.8M49.8 78.4h0.8M47.8 85.6h0.8M59.6 45.3h0.8M45.4 67.0h0.8M59.0 63.2h0.8M50.6 81.6h0.8M48.5 78.1h0.8M45.8 85.7h0.8M66.4 62.4h0.8M63.0 68.6h0.8M63.6 60.2h0.8M48.9 73.4h0.8M63.7 72.4h0.8M48.2 78.0h0.8M56.4 80.1h0.8M54.5 67.9h0.8M55.9 47.8h0.8M57.8 88.0h0.8M59.9 64.4h0.8M44.4 89.0h0.8M52.0 72.4h0.8M57.4 68.3h0.8M56.1 91.0h0.8M52.1 95.5h0.8M58.6 78.2h0.8M62.8 84.7h0.8M63.6 80.8h0.8M51.5 92.4h0.8M54.7 65.7h0.8M62.5 81.8h0.8M55.6 75.5h0.8M60.1 95.7h0.8M55.3 61.1h0.8M51.6 80.3h0.8M54.3 67.5h0.8M61.2 82.7h0.8M54.3 77.8h0.8M51.1 68.1h0.8M53.3 59.9h0.8M58.3 73.8h0.8M52.0 75.8h0.8M56.7 66.5h0.8M51.3 65.9h0.8M65.7 56.3h0.8M55.0 83.5h0.8M47.6 64.0h0.8M48.3 54.7h0.8M64.2 71.4h0.8M47.1 66.9h0.8M56.4 70.0h0.8M48.4 79.0h0.8M48.4 69.2h0.8M56.2 65.5h0.8M55.5 66.4h0.8M74.6 68.9h0.8M59.9 64.0h0.8M46.5 71.9h0.8M52.2 69.5h0.8M54.5 82.7h0.8M68.9 95.0h0.8M55.1 93.0h0.8M67.3 66.2h0.8M51.0 71.8h0.8M69.1 71.3h0.8M52.7 87.8h0.8M53.1 71.0h0.8M58.9 74.6h0.8M59.6 57.0h0.8M63.4 71.8h0.8M56.2 75.6h0.8M41.0 64.8h0.8M46.5 75.1h0.8M65.6 70.1h0.8M54.8 51.3h0.8M51.5 69.9h0.8M52.9 79.1h0.8M64.7 72.4h0.8M57.3 55.6h0.8M58.8 72.9h0.8M41.4 76.3h0.8M49.5 83.6h0.8M57.8 73.5h0.8M67.1 70.9h0.8M52.1 73.0h0.8M55.3 63.4h0.8M58.7 77.3h0.8M50.6 55.8h0.8M63.5 87.2h0.8M61.3 83.8h0.8M68.1 76.9h0.8M67.0 71.9h0.8M48.6 73.9h0.8M52.8 79.2h0.8M68.7 78.5h0.8M63.1 97.3h0.8M68.7 75.1h0.8M50.4 97.4h0.8M47.4 54.3h0.8M40.6 87.0h0.8M44.5 71.4h0.8M54.5 88.5h0.8M45.2 74.8h0.8M57.7 89.7h0.8M53.7 77.3h0.8M53.4 86.3h0.8M62.6 70.1h0.8M59.6 58.1h0.8M56.1 64.7h0.8M52.5 85.5h0.8M71.7 76.7h0.8M54.6 70.8h0.8M61.3 72.5h0.8M63.0 91.4h0.8M60.4 70.3h0.8M61.4 67.0h0.8M42.5 87.1h0.8M70.1 89.1h0.8M50.2 81.4h0.8M52.7 89.8h0.8M49.6 79.9h0.8M57.3 77.3h0.8M45.1 73.3h0.8M57.6 70.0h0.8M45.8 69.0h0.8M48.4 78.2h0.8M62.8 77.9h0.8M54.7 70.2h0.8M97.3 103.9h0.8M62.2 62.1h0.8M74.2 70.0h0.8M100.1 92.5h0.8M73.8 96.5h0.8M92.5 74.6h0.8M55.5 63.7h0.8M45.0 89.7h0.8M101.4 101.0h0.8M99.9 111.6h0.8M91.4 77.5h0.8M73.3 77.3h0.8M56.6 97.4h0.8M44.6 101.3h0.8M96.0 76.4h0.8M98.5 67.5h0.8M57.2 74.5h0.8M83.3 74.5h0.8M73.8 87.7h0.8M73.0 71.7h0.8M72.4 65.7h0.8M74.3 110.3h0.8M46.1 92.3h0.8M56.2 62.9h0.8M56.9 97.8h0.8M67.3 71.1h0.8M66.4 81.8h0.8M103.8 89.4h0.8M100.3 98.6h0.8M86.0 110.2h0.8M65.3 74.6h0.8M77.5 64.0h0.8M72.2 72.0h0.8M65.3 78.5h0.8M95.8 72.9h0.8M90.7 83.1h0.8M87.0 83.4h0.8M65.4 109.4h0.8M67.4 109.5h0.8M64.7 83.9h0.8M85.3 80.2h0.8M88.4 106.2h0.8M92.9 97.0h0.8M77.7 106.4h0.8M60.7 83.2h0.8M92.5 63.1h0.8M81.2 76.9h0.8M102.7 72.1h0.8M65.5 93.1h0.8M65.1 69.3h0.8M86.6 74.1h0.8M57.6 55.8h0.8M105.4 65.9h0.8M91.1 67.8h0.8M57.7 76.1h0.8M83.7 76.6h0.8M85.7 61.7h0.8M76.7 73.7h0.8M67.6 68.8h0.8M93.7 60.3h0.8M72.1 68.8h0.8M90.9 67.2h0.8M67.3 71.1h0.8M68.8 70.3h0.8M82.5 66.6h0.8M89.5 74.9h0.8M59.1 70.9h0.8M75.2 66.0h0.8M78.7 74.9h0.8M75.5 65.9h0.8M60.0 66.8h0.8M77.6 62.1h0.8M73.4 70.8h0.8M97.2 66.2h0.8M105.8 73.9h0.8M90.1 71.5h0.8M79.4 64.2h0.8M77.1 68.4h0.8M80.4 77.3h0.8M106.3 71.4h0.8M92.4 64.0h0.8M50.6 67.6h0.8M81.9 76.6h0.8M112.4 69.8h0.8M96.8 74.9h0.8M81.6 73.2h0.8M84.0 77.6h0.8M63.9 54.4h0.8M80.6 73.9h0.8M93.5 64.9h0.8M86.4 64.4h0.8M88.4 63.9h0.8M63.8 74.0h0.8M61.3 59.5h0.8M90.0 69.0h0.8M46.5 75.5h0.8M61.7 65.7h0.8M77.3 80.5h0.8M78.5 73.8h0.8M76.9 71.5h0.8M59.2 68.4h0.8M70.3 62.3h0.8M83.1 74.6h0.8M85.6 66.5h0.8M89.2 61.7h0.8M83.4 71.5h0.8M77.7 66.9h0.8M80.6 65.0h0.8M75.8 72.8h0.8M52.0 75.9h0.8M85.3 69.7h0.8M64.8 65.9h0.8M70.5 72.4h0.8M87.7 75.3h0.8M79.6 56.2h0.8M65.3 66.1h0.8M83.3 59.3h0.8M75.8 68.6h0.8M70.2 67.1h0.8" stroke="#111" stroke-width="0.8" fill="none" opacity="1"/>
<rect x="38.50" y="44.60" width="30.50" height="22.00" fill="none" stroke="#666" stroke-width="0.9" />
<rect x="38.50" y="37.30" width="82.00" height="87.70" fill="none" stroke="#444" stroke-width="0.9" />
<path d="M38.5 37.3V125H120.5" fill="none" stroke="#111" stroke-width="1.2" />
<path d="M37.0 40.3h1.5M37.0 42.5h1.5M37.0 44.7h1.5M37.0 46.9h1.5M37.0 49.1h1.5M37.0 51.3h1.5M37.0 53.5h1.5M37.0 55.7h1.5M37.0 57.9h1.5M37.0 60.1h1.5M37.0 62.3h1.5M37.0 64.5h1.5M37.0 66.7h1.5M37.0 68.9h1.5M37.0 71.1h1.5M37.0 73.3h1.5M37.0 75.5h1.5M37.0 77.7h1.5M37.0 79.9h1.5M37.0 82.1h1.5M37.0 84.3h1.5M37.0 86.5h1.5M37.0 88.7h1.5M37.0 90.9h1.5M37.0 93.1h1.5M37.0 95.3h1.5M37.0 97.5h1.5M37.0 99.7h1.5M37.0 101.9h1.5M37.0 104.1h1.5M37.0 106.3h1.5M37.0 108.5h1.5M37.0 110.7h1.5M37.0 112.9h1.5M37.0 115.1h1.5M37.0 117.3h1.5M37.0 119.5h1.5M37.0 121.7h1.5M37.0 123.9h1.5M40.5 125.0v1.8M42.7 125.0v1.8M44.9 125.0v1.8M47.1 125.0v1.8M49.3 125.0v1.8M51.5 125.0v1.8M53.7 125.0v1.8M55.9 125.0v1.8M58.1 125.0v1.8M60.3 125.0v1.8M62.5 125.0v1.8M64.7 125.0v1.8M66.9 125.0v1.8M69.1 125.0v1.8M71.3 125.0v1.8M73.5 125.0v1.8M75.7 125.0v1.8M77.9 125.0v1.8M80.1 125.0v1.8M82.3 125.0v1.8M84.5 125.0v1.8M86.7 125.0v1.8M88.9 125.0v1.8M91.1 125.0v1.8M93.3 125.0v1.8M95.5 125.0v1.8M97.7 125.0v1.8M99.9 125.0v1.8M102.1 125.0v1.8M104.3 125.0v1.8M106.5 125.0v1.8M108.7 125.0v1.8M110.9 125.0v1.8M113.1 125.0v1.8M115.3 125.0v1.8M117.5 125.0v1.8M35.5 44.6h3M35.5 64.5h3M35.5 84.4h3M35.5 104.3h3M35.5 121.0h3M50.7 125.0v3M74.6 125.0v3M93.7 125.0v3M112.8 125.0v3" fill="none" stroke="#333" stroke-width="0.7" />
<text x="35.7" y="46.1" font-size="4.6" text-anchor="end" fill="#222" >10<tspan font-size="3" dy="-1.5">5</tspan></text>
<text x="35.7" y="66.0" font-size="4.6" text-anchor="end" fill="#222" >10<tspan font-size="3" dy="-1.5">4</tspan></text>
<text x="35.7" y="85.9" font-size="4.6" text-anchor="end" fill="#222" >10<tspan font-size="3" dy="-1.5">3</tspan></text>
<text x="35.7" y="105.8" font-size="4.6" text-anchor="end" fill="#222" >10<tspan font-size="3" dy="-1.5">2</tspan></text>
<text x="35.7" y="122.5" font-size="4.6" text-anchor="end" fill="#222" >0</text>
<text x="50.7" y="134" font-size="4.6" text-anchor="middle" fill="#222" >0</text>
<text x="74.6" y="134" font-size="4.6" text-anchor="middle" fill="#222" >10<tspan font-size="3" dy="-1.5">2</tspan></text>
<text x="93.7" y="134" font-size="4.6" text-anchor="middle" fill="#222" >10<tspan font-size="3" dy="-1.5">3</tspan></text>
<text x="112.8" y="134" font-size="4.6" text-anchor="middle" fill="#222" >10<tspan font-size="3" dy="-1.5">4</tspan></text>
<text x="20.7" y="114.8" font-size="14.4" font-weight="bold" textLength="69.5" lengthAdjust="spacingAndGlyphs" transform="rotate(-90 20.7 114.8)" >KIT-AF750</text>
<text x="49.8" y="146.8" font-size="14" font-weight="bold" textLength="65.6" lengthAdjust="spacingAndGlyphs" >SCA-1-PB</text>
<path d="M52 50.5V22.8H185.2V35" fill="none" stroke="#2b2b2b" stroke-width="1.8" />
<path d="M185.2 37.3L180.2 28.1L185.2 31.4L190.2 28.1Z" fill="#2b2b2b" stroke="#2b2b2b" stroke-width="0.5" stroke-linejoin="miter"/>
<path d="M197.4 86.3h0.8M196.5 90.1h0.8M188.2 94.7h0.8M189.1 85.4h0.8M183.5 91.6h0.8M188.6 103.2h0.8M190.7 80.6h0.8M187.1 86.6h0.8M189.2 74.6h0.8M196.1 84.0h0.8M193.1 108.0h0.8M191.6 95.5h0.8M191.9 100.4h0.8M192.1 93.5h0.8M190.7 78.9h0.8M189.0 76.6h0.8M190.9 105.5h0.8M187.4 77.0h0.8M187.3 85.2h0.8M193.4 81.1h0.8M189.8 93.2h0.8M188.4 61.8h0.8M191.7 84.4h0.8M195.9 77.4h0.8M189.8 80.3h0.8M190.6 59.0h0.8M194.5 95.4h0.8M189.6 80.6h0.8M191.9 91.3h0.8M189.0 83.5h0.8M191.4 79.7h0.8M189.3 79.7h0.8M189.2 66.8h0.8M187.4 91.5h0.8M192.7 85.2h0.8M179.3 64.1h0.8M191.6 111.0h0.8M194.0 83.0h0.8M189.2 79.7h0.8M195.6 89.5h0.8M187.5 100.1h0.8M188.4 101.0h0.8M193.1 67.7h0.8M190.3 99.1h0.8M191.4 70.6h0.8M189.8 96.0h0.8M191.8 72.0h0.8M197.5 89.5h0.8M185.8 81.4h0.8M182.0 76.1h0.8M190.2 121.9h0.8M191.0 91.8h0.8M192.7 89.5h0.8M188.6 106.5h0.8M192.0 109.2h0.8M193.5 72.6h0.8M189.0 80.5h0.8M189.2 93.1h0.8M189.9 74.8h0.8M194.9 106.6h0.8M190.5 71.0h0.8M188.5 75.5h0.8M187.7 72.3h0.8M191.2 91.0h0.8M191.7 72.9h0.8M191.3 115.9h0.8M191.2 80.9h0.8M198.7 91.3h0.8M188.5 99.7h0.8M188.3 81.4h0.8M193.5 77.8h0.8M185.9 97.1h0.8M193.0 66.5h0.8M189.4 102.7h0.8M191.2 99.1h0.8M190.1 77.6h0.8M188.8 82.3h0.8M184.7 87.1h0.8M192.5 77.3h0.8M190.5 71.2h0.8M186.3 89.4h0.8M190.3 79.6h0.8M186.6 88.1h0.8M190.3 83.3h0.8M190.1 81.6h0.8M192.1 92.8h0.8M195.9 107.5h0.8M190.3 68.9h0.8M192.4 78.0h0.8M195.1 65.0h0.8M189.1 109.1h0.8M190.5 97.2h0.8M192.4 79.5h0.8M193.0 73.9h0.8M189.4 117.5h0.8M189.9 91.9h0.8M187.2 106.1h0.8M187.6 75.7h0.8M188.6 72.7h0.8M186.1 82.2h0.8M188.9 84.9h0.8M187.4 73.2h0.8M189.4 86.3h0.8M187.6 85.8h0.8M189.6 101.6h0.8M192.3 93.5h0.8M193.4 77.0h0.8M194.4 88.9h0.8M188.9 92.1h0.8M187.1 112.1h0.8M191.1 64.5h0.8M187.0 78.8h0.8M188.7 92.8h0.8M193.0 101.0h0.8M192.0 72.6h0.8M193.7 104.0h0.8M184.5 77.9h0.8M189.3 74.8h0.8M193.5 92.8h0.8M190.5 68.4h0.8M184.1 72.5h0.8M187.8 72.9h0.8M183.9 63.7h0.8M189.0 90.8h0.8M188.7 82.5h0.8M190.1 84.9h0.8M193.9 74.2h0.8M190.9 66.6h0.8M193.8 96.5h0.8M193.3 87.5h0.8M189.9 67.2h0.8M191.2 105.7h0.8M181.9 111.4h0.8M187.8 92.9h0.8M187.8 83.7h0.8M192.7 83.2h0.8M195.7 86.5h0.8M192.2 77.0h0.8M188.8 80.1h0.8M191.8 110.3h0.8M190.4 67.2h0.8M188.4 65.9h0.8M191.8 86.4h0.8M187.1 80.7h0.8M193.1 92.7h0.8M188.6 97.0h0.8M191.5 78.0h0.8M190.9 113.4h0.8M187.0 100.9h0.8M189.9 95.2h0.8M191.5 90.1h0.8M189.8 86.0h0.8M192.3 92.7h0.8M185.9 92.7h0.8M194.3 99.1h0.8M190.9 59.3h0.8M192.1 95.7h0.8M194.7 72.0h0.8M189.6 78.2h0.8M189.5 60.7h0.8M188.9 79.7h0.8M189.2 109.3h0.8M188.4 79.4h0.8M193.7 77.6h0.8M193.9 92.4h0.8M188.4 75.5h0.8M190.7 82.9h0.8M190.6 77.4h0.8M192.0 76.0h0.8M188.8 83.1h0.8M186.4 81.1h0.8M189.6 64.6h0.8M184.8 103.9h0.8M189.4 83.6h0.8M188.3 108.9h0.8M189.6 59.5h0.8M191.7 71.4h0.8M191.6 83.8h0.8M194.1 92.7h0.8M189.1 106.7h0.8M198.5 78.0h0.8M193.6 91.4h0.8M191.6 67.7h0.8M187.3 106.8h0.8M190.7 78.1h0.8M195.8 104.0h0.8M192.5 71.6h0.8M190.3 107.7h0.8M184.1 62.6h0.8M187.9 100.4h0.8M191.0 93.0h0.8M190.9 87.6h0.8M191.8 105.5h0.8M189.0 109.8h0.8M190.6 88.8h0.8M188.9 74.9h0.8M188.7 71.7h0.8M186.4 113.5h0.8M191.7 100.9h0.8M191.9 65.1h0.8M190.4 73.0h0.8M187.9 84.5h0.8M190.9 87.6h0.8M190.7 81.9h0.8M190.4 104.8h0.8M197.1 102.9h0.8M189.7 92.0h0.8M193.3 101.2h0.8M194.1 104.7h0.8M191.6 82.0h0.8M185.6 102.2h0.8M192.2 73.4h0.8M190.4 80.2h0.8M189.0 112.2h0.8M189.2 122.4h0.8M189.9 75.4h0.8M190.7 122.1h0.8M189.8 93.7h0.8M183.3 94.8h0.8M186.1 84.3h0.8M194.5 82.3h0.8M192.5 82.6h0.8M189.3 90.1h0.8M193.7 87.5h0.8M190.2 71.7h0.8M185.1 87.9h0.8M189.7 90.0h0.8M193.5 98.2h0.8M187.6 89.8h0.8M191.2 82.3h0.8M183.3 73.9h0.8M190.0 97.2h0.8M189.3 65.0h0.8M194.5 85.3h0.8M188.8 93.7h0.8M192.4 84.6h0.8M188.4 77.2h0.8M192.7 83.6h0.8M188.7 79.9h0.8M188.8 109.2h0.8M191.2 77.7h0.8M188.0 65.3h0.8M190.9 73.8h0.8M189.0 98.9h0.8M193.1 94.8h0.8M185.1 77.0h0.8M193.8 67.7h0.8M194.1 85.1h0.8M193.1 79.2h0.8M186.6 70.2h0.8M194.7 80.6h0.8M186.4 97.6h0.8M185.4 83.0h0.8M191.2 89.8h0.8M191.5 84.0h0.8M182.5 89.0h0.8M190.0 82.4h0.8M191.7 96.9h0.8M190.8 107.8h0.8M197.0 89.6h0.8M189.1 65.9h0.8M192.0 58.7h0.8M195.4 100.0h0.8M188.5 95.6h0.8M187.5 68.8h0.8M192.5 70.1h0.8M190.9 83.4h0.8M195.0 90.0h0.8M195.1 98.3h0.8M187.8 67.8h0.8M183.6 85.8h0.8M181.5 73.0h0.8M182.7 75.9h0.8M192.3 72.1h0.8M188.4 78.4h0.8M191.0 63.0h0.8M190.5 83.6h0.8M186.9 70.4h0.8M193.9 96.0h0.8M191.4 72.6h0.8M189.0 65.6h0.8M184.6 78.0h0.8M188.2 66.3h0.8M186.3 90.5h0.8M188.7 61.3h0.8M196.4 58.9h0.8M190.7 69.9h0.8M192.2 86.0h0.8M193.2 83.9h0.8M187.7 106.6h0.8M189.9 81.8h0.8M189.6 74.0h0.8M191.2 110.1h0.8M194.7 89.4h0.8M192.1 96.1h0.8M188.1 107.3h0.8M192.0 71.2h0.8M191.0 95.0h0.8M189.1 89.0h0.8M194.3 64.2h0.8M184.2 83.0h0.8M189.3 116.0h0.8M193.1 92.7h0.8M185.9 79.9h0.8M190.6 78.3h0.8M190.4 95.2h0.8M187.8 78.3h0.8M187.0 102.8h0.8M183.7 93.6h0.8M188.5 100.8h0.8M187.2 75.8h0.8M189.9 104.2h0.8M191.9 74.2h0.8M185.7 61.8h0.8M188.2 93.2h0.8M186.2 79.5h0.8M189.6 95.6h0.8M185.8 85.3h0.8M189.8 85.8h0.8M185.1 91.9h0.8M187.3 82.6h0.8M187.3 113.4h0.8M190.1 116.4h0.8M188.0 80.2h0.8M194.5 78.8h0.8M191.3 101.7h0.8M188.8 74.2h0.8M189.2 99.6h0.8M191.3 103.7h0.8M189.2 77.3h0.8M186.5 79.9h0.8M188.1 82.6h0.8M187.1 73.7h0.8M189.0 98.9h0.8M188.9 75.8h0.8M193.2 104.6h0.8M189.0 80.6h0.8M184.4 61.1h0.8M189.8 105.2h0.8M195.7 96.8h0.8M188.5 92.2h0.8M185.4 83.3h0.8M186.3 84.5h0.8M194.4 117.1h0.8M190.7 90.4h0.8M184.9 74.7h0.8M194.7 101.9h0.8M192.6 91.2h0.8M195.1 80.7h0.8M187.3 91.3h0.8M188.8 107.0h0.8M189.2 79.4h0.8M189.0 96.7h0.8M186.9 62.3h0.8M189.6 79.2h0.8M191.7 79.4h0.8M188.1 88.9h0.8M191.3 99.9h0.8M189.9 84.7h0.8M189.7 92.6h0.8M189.1 101.3h0.8M189.1 105.6h0.8M189.2 82.9h0.8M190.9 78.2h0.8M190.8 86.5h0.8M196.4 102.8h0.8M190.9 95.3h0.8M191.9 68.6h0.8M193.5 75.4h0.8M192.5 87.0h0.8M192.9 106.3h0.8M191.9 77.7h0.8M189.1 93.5h0.8M188.8 79.2h0.8M189.7 79.6h0.8M191.7 78.2h0.8M190.4 74.0h0.8M184.7 97.0h0.8M193.1 77.5h0.8M192.6 89.7h0.8M186.5 102.8h0.8M183.9 84.3h0.8M192.3 68.5h0.8M195.1 76.3h0.8M194.0 82.3h0.8M192.3 84.4h0.8M197.5 91.4h0.8M193.3 96.2h0.8M190.8 81.6h0.8M191.5 100.4h0.8M193.0 93.8h0.8M189.8 96.3h0.8M187.2 85.4h0.8M183.9 75.5h0.8M189.8 64.7h0.8M186.7 100.0h0.8M191.9 102.4h0.8M193.9 95.7h0.8M192.8 90.6h0.8M194.3 63.3h0.8M189.8 101.8h0.8M193.0 87.3h0.8M189.3 98.9h0.8M189.8 69.5h0.8M194.0 80.6h0.8M190.9 62.0h0.8M182.4 93.1h0.8M188.8 94.7h0.8M190.9 87.2h0.8M190.3 71.8h0.8M193.8 100.7h0.8M195.6 85.5h0.8M192.0 115.2h0.8M194.4 84.9h0.8M193.7 95.3h0.8M188.6 88.3h0.8M184.9 62.7h0.8M191.0 107.6h0.8M187.3 104.4h0.8M190.8 113.4h0.8M191.8 82.9h0.8M191.2 58.9h0.8M191.5 81.6h0.8M191.9 81.5h0.8M188.3 67.2h0.8M193.1 70.0h0.8M191.7 83.7h0.8M195.2 87.6h0.8M191.0 70.9h0.8M191.5 96.2h0.8M190.0 96.8h0.8M187.1 82.8h0.8M191.6 81.4h0.8M194.1 95.8h0.8M188.4 72.1h0.8M190.3 75.2h0.8M189.1 69.2h0.8M192.7 88.7h0.8M191.3 98.4h0.8M183.2 86.7h0.8M189.6 96.4h0.8M191.9 94.0h0.8M187.0 104.4h0.8M194.8 73.9h0.8M193.8 99.2h0.8M186.1 77.0h0.8M191.4 85.1h0.8M195.9 95.2h0.8M193.1 76.2h0.8M186.5 76.9h0.8M194.7 113.9h0.8M187.8 84.0h0.8M182.6 105.5h0.8M186.4 99.5h0.8M194.3 66.1h0.8M187.6 96.9h0.8M194.6 78.2h0.8M187.1 91.2h0.8M194.2 69.4h0.8M187.9 103.5h0.8M190.9 73.6h0.8M190.3 93.2h0.8M193.5 90.4h0.8M190.3 60.7h0.8M192.0 93.7h0.8M190.9 86.3h0.8M190.7 100.3h0.8M189.1 67.8h0.8M193.1 80.3h0.8M189.4 92.4h0.8M189.5 84.9h0.8M186.8 105.6h0.8M186.1 105.7h0.8M186.4 75.2h0.8M189.0 99.1h0.8M190.9 79.0h0.8M186.4 100.9h0.8M190.4 92.2h0.8M189.7 78.3h0.8M192.3 90.3h0.8M193.8 88.8h0.8M185.9 97.4h0.8M190.4 82.4h0.8M180.6 72.9h0.8M190.8 76.5h0.8M191.1 94.9h0.8M190.2 71.8h0.8M191.6 91.4h0.8M186.4 97.9h0.8M189.5 58.9h0.8M189.7 86.5h0.8M192.2 92.3h0.8M191.4 74.2h0.8M185.0 76.5h0.8M194.5 63.0h0.8M193.0 63.1h0.8M186.2 87.2h0.8M187.7 81.9h0.8M186.6 87.6h0.8M192.9 63.6h0.8M191.9 91.2h0.8M193.0 68.1h0.8M189.4 78.8h0.8M187.0 72.5h0.8M187.9 88.0h0.8M192.4 80.9h0.8M192.6 87.6h0.8M193.7 65.5h0.8M190.6 84.7h0.8M190.6 90.6h0.8M192.7 87.5h0.8M191.8 81.0h0.8M189.7 75.9h0.8M193.5 97.1h0.8M194.1 78.3h0.8M189.6 122.3h0.8M193.5 63.6h0.8M192.4 90.5h0.8M189.1 81.1h0.8M187.5 77.4h0.8M187.8 67.8h0.8M189.0 72.1h0.8M192.4 100.8h0.8M189.7 80.2h0.8M192.1 83.5h0.8M182.9 68.8h0.8M191.6 97.0h0.8M188.7 85.6h0.8M189.3 92.7h0.8M197.1 101.2h0.8M189.2 92.9h0.8M190.1 92.6h0.8M191.7 97.2h0.8M187.1 94.7h0.8M188.2 81.1h0.8M192.7 78.9h0.8M191.1 90.4h0.8M190.5 67.3h0.8M191.7 88.4h0.8M197.1 70.1h0.8M193.5 79.4h0.8M189.3 111.4h0.8M189.8 97.8h0.8M190.7 72.2h0.8M189.6 79.3h0.8M189.6 113.8h0.8M191.7 59.8h0.8M196.1 91.5h0.8M193.1 109.4h0.8M187.7 90.9h0.8M189.8 80.7h0.8M189.3 87.5h0.8M193.9 97.7h0.8M191.2 104.1h0.8M183.1 86.6h0.8M191.4 90.8h0.8M194.7 88.7h0.8M194.6 83.5h0.8M192.5 87.8h0.8M189.6 93.9h0.8M192.1 72.7h0.8M193.3 82.3h0.8M193.0 74.5h0.8M189.0 83.5h0.8M186.2 86.6h0.8M186.5 83.0h0.8M193.0 105.4h0.8M194.8 82.8h0.8M187.4 93.5h0.8M195.2 73.0h0.8M194.5 84.1h0.8M182.1 87.2h0.8M196.2 97.0h0.8M193.6 92.2h0.8M187.0 80.4h0.8M187.2 74.0h0.8M192.7 108.1h0.8M185.1 70.1h0.8M190.0 83.1h0.8M192.5 91.5h0.8M184.3 90.5h0.8M186.7 93.8h0.8M191.2 86.7h0.8M191.7 77.3h0.8M192.6 83.3h0.8M198.2 87.7h0.8M183.0 109.2h0.8M188.0 69.1h0.8M190.2 105.4h0.8M196.4 80.2h0.8M191.0 89.5h0.8M188.3 78.4h0.8M189.9 85.1h0.8M191.8 91.7h0.8M194.6 80.2h0.8M189.1 87.6h0.8M188.5 77.0h0.8M188.2 75.9h0.8M187.1 76.8h0.8M187.8 74.8h0.8M186.1 100.2h0.8M191.2 85.1h0.8M186.9 95.5h0.8M189.5 84.2h0.8M190.5 84.1h0.8M193.3 73.9h0.8M188.2 88.0h0.8M189.6 94.1h0.8M193.1 106.6h0.8M193.2 81.6h0.8M189.8 80.3h0.8M193.9 82.4h0.8M187.6 70.3h0.8M192.6 72.8h0.8M182.1 96.6h0.8M191.3 97.4h0.8M193.4 93.7h0.8M191.5 86.8h0.8M184.2 91.6h0.8M192.8 86.5h0.8M187.9 95.6h0.8M190.2 86.2h0.8M189.2 68.5h0.8M187.2 91.9h0.8M195.4 112.5h0.8M189.8 92.9h0.8M190.1 88.4h0.8M191.6 99.7h0.8M186.8 112.7h0.8M189.9 71.5h0.8M197.5 72.8h0.8M190.2 75.2h0.8M191.4 62.4h0.8M195.2 117.7h0.8M193.0 74.5h0.8M194.0 119.2h0.8M191.1 80.6h0.8M194.9 66.3h0.8M189.4 85.4h0.8M190.7 102.8h0.8M189.9 69.6h0.8M186.0 84.0h0.8M191.8 100.7h0.8M192.3 65.5h0.8M192.1 76.2h0.8M194.4 81.6h0.8M189.5 77.8h0.8M193.4 84.5h0.8M198.9 103.7h0.8M186.7 85.7h0.8M193.6 98.2h0.8M192.3 90.0h0.8M185.6 63.8h0.8M192.9 76.8h0.8M190.4 95.9h0.8M192.0 77.5h0.8M189.3 103.3h0.8M189.5 85.4h0.8M191.2 60.3h0.8M195.7 92.3h0.8M188.6 103.3h0.8M187.5 75.8h0.8M186.5 82.7h0.8M188.0 90.1h0.8M188.2 90.0h0.8M191.7 92.0h0.8M191.5 87.3h0.8M191.4 65.0h0.8M191.4 85.3h0.8M190.2 86.1h0.8M192.1 71.4h0.8M191.3 102.2h0.8M192.7 102.6h0.8M189.4 84.8h0.8M196.1 93.6h0.8M191.1 101.0h0.8M187.6 84.0h0.8M191.7 85.1h0.8M195.0 92.6h0.8M193.0 73.7h0.8M190.3 85.6h0.8M191.9 93.3h0.8M190.3 94.7h0.8M196.8 86.5h0.8M188.3 104.1h0.8M194.9 88.9h0.8M191.8 83.4h0.8M197.1 89.6h0.8M196.0 83.4h0.8M189.5 78.2h0.8M186.7 77.7h0.8M193.8 63.4h0.8M190.6 102.9h0.8M191.1 94.0h0.8M191.4 94.0h0.8M184.4 108.7h0.8M191.5 78.1h0.8M189.5 84.3h0.8M192.5 68.8h0.8M186.5 66.8h0.8M193.2 72.8h0.8M190.8 69.4h0.8M190.2 79.0h0.8M188.1 103.2h0.8M190.7 72.2h0.8M197.8 72.5h0.8M186.8 61.5h0.8M195.4 89.6h0.8M191.4 103.0h0.8M190.8 97.4h0.8M195.6 90.4h0.8M192.9 89.8h0.8M190.9 108.0h0.8M192.3 90.9h0.8M184.6 73.4h0.8M188.3 86.5h0.8M191.6 89.1h0.8M190.0 91.9h0.8M191.6 100.1h0.8M185.0 102.0h0.8M196.5 103.8h0.8M189.1 73.3h0.8M190.3 106.8h0.8M180.3 89.7h0.8M197.8 62.9h0.8M188.5 86.8h0.8M191.3 99.4h0.8M185.5 87.9h0.8M188.3 98.6h0.8M191.5 102.8h0.8M186.5 69.4h0.8M188.1 79.0h0.8M188.1 67.2h0.8M188.5 61.6h0.8M193.3 78.5h0.8M186.3 88.4h0.8M185.3 91.2h0.8M189.2 111.6h0.8M191.9 74.0h0.8M193.0 87.5h0.8M188.8 78.9h0.8M194.2 69.5h0.8M191.3 83.0h0.8M185.9 77.1h0.8M191.9 82.6h0.8M189.7 84.4h0.8M190.5 90.2h0.8M190.0 63.5h0.8M189.5 86.8h0.8M195.3 70.4h0.8M195.0 77.3h0.8M185.7 78.7h0.8M191.6 73.6h0.8M190.9 72.9h0.8M195.1 76.5h0.8M196.2 112.2h0.8M187.3 93.1h0.8M188.7 107.1h0.8M191.1 112.5h0.8M189.6 80.8h0.8M187.7 87.2h0.8M191.4 86.2h0.8M191.1 96.5h0.8M189.9 75.6h0.8M187.0 76.8h0.8M189.1 100.5h0.8M193.0 74.4h0.8M192.0 71.8h0.8M192.7 61.2h0.8M193.2 82.7h0.8M190.9 83.8h0.8M186.9 87.3h0.8M190.2 96.8h0.8M192.1 103.9h0.8M191.9 68.5h0.8M192.6 67.6h0.8M188.0 86.6h0.8M187.6 79.7h0.8M193.3 76.5h0.8M187.4 66.3h0.8M199.0 78.9h0.8M190.3 86.4h0.8M193.7 77.1h0.8M187.5 80.0h0.8M187.8 64.3h0.8M184.4 86.3h0.8M188.9 106.6h0.8M188.6 80.3h0.8M194.0 60.5h0.8M192.7 73.3h0.8M186.7 91.3h0.8M190.6 68.7h0.8M191.0 108.9h0.8M192.8 87.5h0.8M188.5 84.4h0.8M191.7 82.4h0.8M191.7 100.3h0.8M185.7 88.3h0.8M191.8 81.7h0.8M188.3 108.3h0.8M190.0 84.4h0.8M188.6 81.3h0.8M189.3 84.2h0.8M185.6 61.7h0.8M188.3 80.6h0.8M188.5 96.3h0.8M190.1 96.4h0.8M191.7 107.3h0.8M190.7 84.7h0.8M186.7 89.3h0.8M187.0 59.5h0.8M190.9 98.1h0.8M189.3 83.1h0.8M188.2 109.5h0.8M191.4 80.5h0.8M189.3 87.6h0.8M193.6 77.5h0.8M187.5 90.2h0.8M189.8 63.7h0.8M189.8 80.9h0.8M188.9 87.7h0.8M190.9 110.5h0.8M192.1 98.0h0.8M188.8 85.6h0.8M188.1 75.2h0.8M192.8 117.9h0.8M192.3 91.6h0.8M191.8 97.4h0.8M190.0 84.6h0.8M192.1 109.4h0.8M190.4 60.9h0.8M192.6 88.6h0.8M187.8 73.1h0.8M180.5 74.0h0.8M189.5 93.1h0.8M190.0 70.8h0.8M188.9 86.2h0.8M192.0 89.8h0.8M190.8 89.9h0.8M187.3 88.6h0.8M188.6 67.6h0.8M186.2 93.7h0.8M192.0 101.9h0.8M192.5 92.9h0.8M187.0 82.8h0.8M189.4 115.7h0.8M187.6 66.6h0.8M187.2 100.8h0.8M188.3 96.7h0.8M188.7 101.2h0.8M185.5 79.2h0.8M192.1 82.4h0.8M187.5 107.2h0.8M186.0 73.2h0.8M193.8 111.2h0.8M190.3 67.2h0.8M186.3 73.1h0.8M190.0 105.7h0.8M193.1 100.2h0.8M188.8 96.9h0.8M192.7 98.5h0.8M190.2 79.9h0.8M193.7 109.3h0.8M189.6 91.3h0.8M193.7 108.7h0.8M195.7 86.6h0.8M194.2 68.3h0.8M183.6 79.7h0.8M191.4 63.8h0.8M189.9 88.7h0.8M190.2 90.1h0.8M193.7 82.2h0.8M188.9 94.2h0.8M193.6 79.6h0.8M194.5 97.0h0.8M189.1 85.6h0.8M187.9 96.2h0.8M190.6 115.4h0.8M182.4 68.0h0.8M188.7 93.8h0.8M189.2 75.4h0.8M191.6 79.7h0.8M191.0 99.3h0.8M193.3 63.0h0.8M188.0 92.6h0.8M189.8 74.7h0.8M192.2 87.4h0.8M191.7 99.3h0.8M189.2 101.2h0.8M190.9 90.1h0.8M193.5 62.4h0.8M185.3 69.2h0.8M192.9 87.9h0.8M188.6 70.8h0.8M185.2 90.5h0.8M190.3 91.7h0.8M193.1 90.3h0.8M194.4 80.1h0.8M194.9 92.4h0.8M188.7 88.7h0.8M196.9 67.7h0.8M188.5 79.9h0.8M190.8 87.0h0.8M196.0 83.1h0.8M192.3 78.6h0.8M186.9 83.8h0.8M189.6 95.9h0.8M194.3 79.4h0.8M193.6 71.1h0.8M195.6 64.4h0.8M188.7 89.5h0.8M189.1 69.4h0.8M192.4 71.2h0.8M193.2 64.5h0.8M193.4 97.9h0.8M191.8 101.1h0.8M189.6 85.0h0.8M193.7 70.6h0.8M189.4 82.5h0.8M189.5 81.6h0.8M182.9 85.4h0.8M191.0 103.6h0.8M192.6 76.8h0.8M189.4 71.8h0.8M189.1 76.6h0.8M193.5 91.0h0.8M192.0 80.0h0.8M189.7 92.9h0.8M187.8 93.0h0.8M192.8 77.0h0.8M190.2 73.0h0.8M195.2 92.1h0.8M193.5 82.4h0.8M187.6 84.3h0.8M194.4 109.5h0.8M192.6 85.6h0.8M191.5 101.7h0.8M187.2 98.9h0.8M187.8 89.9h0.8M192.5 90.2h0.8M190.6 105.0h0.8M189.1 81.1h0.8M187.5 88.9h0.8M192.6 84.6h0.8M184.6 92.6h0.8M192.2 73.8h0.8M189.6 86.6h0.8M188.0 90.1h0.8M190.6 69.4h0.8M182.1 72.7h0.8M194.6 103.6h0.8M189.4 70.5h0.8M194.7 96.3h0.8M194.1 113.1h0.8M191.6 87.3h0.8M188.0 88.2h0.8M187.3 101.6h0.8M189.7 109.1h0.8M189.3 92.5h0.8M188.0 98.9h0.8M187.8 105.0h0.8M192.0 59.2h0.8M186.1 89.6h0.8M190.1 115.2h0.8M187.6 83.0h0.8M190.3 89.5h0.8M195.5 84.8h0.8M185.5 109.1h0.8M191.6 64.3h0.8M188.3 81.6h0.8M190.7 97.9h0.8M189.6 78.5h0.8M187.4 83.7h0.8M190.5 92.9h0.8M183.8 73.1h0.8M191.8 110.8h0.8M184.5 94.4h0.8M190.4 87.0h0.8M196.3 70.5h0.8M194.0 87.7h0.8M186.8 108.4h0.8M190.6 97.9h0.8M192.1 83.8h0.8M192.9 90.7h0.8M189.8 81.4h0.8M188.1 90.3h0.8M189.7 102.4h0.8M189.4 72.7h0.8M184.7 97.2h0.8M197.9 85.6h0.8M183.6 99.7h0.8M188.3 96.3h0.8M191.4 96.6h0.8M190.7 82.1h0.8M193.6 81.8h0.8M193.9 77.3h0.8M190.8 75.1h0.8M193.1 76.1h0.8M187.8 100.0h0.8M191.3 84.8h0.8M187.3 85.3h0.8M191.5 95.7h0.8M188.1 93.3h0.8M184.5 86.9h0.8M187.5 96.4h0.8M189.0 119.6h0.8M190.8 90.6h0.8M183.4 65.6h0.8M193.3 75.9h0.8M193.6 75.4h0.8M192.1 74.0h0.8M191.6 95.6h0.8M193.0 74.9h0.8M186.3 93.9h0.8M190.9 95.6h0.8M186.6 96.7h0.8M189.7 70.0h0.8M188.9 99.3h0.8M190.8 88.0h0.8M190.5 80.1h0.8M194.0 86.2h0.8M185.9 64.7h0.8M188.6 80.3h0.8M192.6 103.2h0.8M188.8 104.4h0.8M188.2 83.5h0.8M188.8 109.6h0.8M193.8 102.2h0.8M186.8 87.4h0.8M186.8 88.3h0.8M192.0 106.3h0.8M189.9 89.5h0.8M189.9 70.2h0.8M195.4 91.8h0.8M194.7 98.6h0.8M186.4 76.8h0.8M192.4 98.8h0.8M192.4 86.1h0.8M193.0 71.4h0.8M189.6 68.9h0.8M193.4 91.7h0.8M192.5 82.1h0.8M182.5 74.2h0.8M190.8 86.8h0.8M193.1 102.8h0.8M188.6 97.8h0.8M185.0 96.0h0.8M183.8 93.5h0.8M183.3 93.4h0.8M195.2 83.5h0.8M192.5 102.7h0.8M190.4 69.6h0.8M196.1 95.8h0.8M188.2 94.4h0.8M191.4 83.8h0.8M195.3 79.9h0.8M194.5 84.3h0.8M188.6 76.2h0.8M191.2 91.7h0.8M199.9 110.6h0.8M190.3 67.9h0.8M190.7 95.2h0.8M185.1 86.6h0.8M194.5 79.4h0.8M185.4 98.1h0.8M195.5 83.4h0.8M190.9 104.4h0.8M192.1 76.1h0.8M189.4 85.4h0.8M190.4 104.6h0.8M187.2 92.8h0.8M192.8 88.9h0.8M186.4 59.5h0.8M193.4 112.5h0.8M190.7 83.3h0.8M192.7 76.6h0.8M188.8 101.3h0.8M186.8 104.3h0.8M191.4 106.8h0.8M184.6 106.6h0.8M190.1 96.4h0.8M187.9 71.0h0.8M194.1 94.1h0.8M192.2 97.2h0.8M192.4 62.5h0.8M189.5 81.5h0.8M196.9 107.4h0.8M187.7 63.9h0.8M192.7 95.7h0.8M194.9 69.1h0.8M195.8 89.9h0.8M194.6 91.3h0.8M189.2 74.7h0.8M194.0 97.6h0.8M188.3 98.8h0.8M190.1 66.9h0.8M189.6 95.9h0.8M190.6 75.0h0.8M192.6 98.1h0.8M194.3 90.1h0.8M195.2 75.6h0.8M189.0 64.5h0.8M190.2 87.3h0.8M190.3 66.6h0.8M193.6 60.1h0.8M193.7 98.4h0.8M189.7 91.2h0.8M186.4 69.3h0.8M187.2 91.0h0.8M189.1 88.7h0.8M186.9 65.1h0.8M191.7 90.5h0.8M191.7 76.2h0.8M191.2 61.9h0.8M186.8 91.1h0.8M187.3 67.1h0.8M187.3 111.8h0.8M188.9 90.8h0.8M190.0 102.6h0.8M193.4 93.0h0.8M190.4 62.9h0.8M192.2 120.4h0.8M192.2 118.3h0.8M192.8 101.0h0.8M189.0 84.8h0.8M192.0 104.3h0.8M187.2 64.6h0.8M190.1 85.1h0.8M192.0 113.3h0.8M188.7 115.8h0.8M192.3 87.2h0.8M185.1 109.9h0.8M196.1 94.3h0.8M192.1 80.2h0.8M184.3 74.4h0.8M185.8 65.3h0.8M187.7 77.5h0.8M192.0 106.6h0.8M189.7 98.7h0.8M189.3 81.5h0.8M191.4 76.5h0.8M191.1 78.7h0.8M187.6 75.8h0.8M195.2 89.9h0.8M188.9 88.7h0.8M187.9 78.7h0.8M189.1 60.1h0.8M189.7 92.6h0.8M191.1 83.6h0.8M193.6 73.2h0.8M193.8 100.8h0.8M190.9 109.1h0.8M187.8 89.7h0.8M189.8 74.1h0.8M189.3 92.0h0.8M191.5 95.5h0.8M188.2 84.3h0.8M189.9 75.9h0.8M186.6 78.2h0.8M189.1 95.6h0.8M188.5 111.3h0.8M185.7 113.6h0.8M187.3 68.4h0.8M187.9 76.3h0.8M189.3 78.7h0.8M191.7 97.4h0.8M186.9 104.3h0.8M191.0 85.7h0.8M192.9 84.3h0.8M194.7 67.4h0.8M194.0 78.5h0.8M192.5 78.9h0.8M195.4 91.5h0.8M192.6 69.7h0.8M185.6 89.4h0.8M195.0 88.2h0.8M185.7 111.4h0.8M188.7 97.2h0.8M187.7 75.1h0.8M187.1 79.3h0.8M189.0 61.1h0.8M193.6 82.1h0.8M189.9 94.8h0.8M192.8 94.0h0.8M189.9 81.4h0.8M190.6 94.8h0.8M189.4 81.5h0.8M191.2 81.0h0.8M190.8 86.7h0.8M187.2 107.2h0.8M192.1 71.2h0.8M187.1 77.4h0.8M188.2 69.9h0.8M190.7 79.7h0.8M187.1 107.3h0.8M188.9 89.2h0.8M185.9 68.0h0.8M186.9 98.2h0.8M192.2 80.8h0.8M189.0 89.1h0.8M187.3 80.6h0.8M192.8 70.9h0.8M191.9 82.7h0.8M190.5 82.0h0.8M192.5 97.1h0.8M191.6 60.0h0.8M190.3 101.7h0.8M186.8 61.4h0.8M189.2 96.1h0.8M186.0 89.1h0.8M189.0 83.6h0.8M191.2 81.5h0.8M188.2 86.6h0.8M194.6 93.1h0.8M192.1 70.5h0.8M188.4 64.6h0.8M192.8 99.1h0.8M191.3 95.9h0.8M188.7 78.9h0.8M193.7 78.5h0.8M193.1 109.0h0.8M186.5 71.5h0.8M195.2 99.2h0.8M194.8 109.6h0.8M189.1 114.6h0.8M194.3 100.0h0.8M191.1 79.7h0.8M187.7 63.6h0.8M187.5 73.5h0.8M190.7 74.5h0.8M184.7 87.5h0.8M183.8 79.8h0.8M192.2 62.1h0.8M186.3 84.0h0.8M194.2 82.9h0.8M188.7 88.7h0.8M184.7 62.3h0.8M192.2 96.7h0.8M191.9 86.8h0.8M191.4 58.6h0.8M186.7 78.9h0.8M193.0 87.7h0.8M190.2 68.0h0.8M190.5 90.6h0.8M191.9 83.0h0.8M196.4 67.7h0.8M192.9 66.0h0.8M186.2 95.9h0.8M188.9 74.0h0.8M188.3 80.4h0.8M194.0 77.1h0.8M197.6 66.4h0.8M189.5 100.2h0.8M189.5 78.2h0.8M185.9 83.6h0.8M192.9 81.6h0.8M187.1 105.5h0.8M192.8 94.2h0.8M189.5 72.7h0.8M193.7 86.4h0.8M189.0 82.7h0.8M191.4 98.1h0.8M190.1 79.7h0.8M186.7 81.2h0.8M189.5 90.1h0.8M190.1 77.3h0.8M189.8 94.6h0.8M189.9 82.7h0.8M189.4 80.3h0.8M191.2 94.5h0.8M189.3 82.5h0.8M191.4 96.6h0.8M194.4 65.5h0.8M192.8 78.2h0.8M192.1 99.0h0.8M195.8 77.9h0.8M188.0 68.7h0.8M185.7 85.0h0.8M186.8 68.2h0.8M187.7 77.5h0.8M191.7 78.6h0.8M187.3 59.9h0.8M191.9 89.4h0.8M192.0 75.2h0.8M193.8 93.4h0.8M197.1 79.8h0.8M192.7 109.3h0.8M189.4 84.9h0.8M188.6 81.2h0.8M192.6 88.3h0.8M186.9 121.9h0.8M188.0 102.6h0.8M190.3 95.6h0.8M192.0 97.5h0.8M192.7 111.1h0.8M188.1 66.2h0.8M191.7 59.6h0.8M185.3 89.1h0.8M189.3 86.8h0.8M181.9 66.3h0.8M185.4 84.9h0.8M190.0 91.1h0.8M188.5 95.6h0.8M192.9 83.6h0.8M187.1 98.1h0.8M192.9 93.5h0.8M187.0 103.2h0.8M193.8 70.2h0.8M190.9 104.7h0.8M194.3 71.6h0.8M189.6 84.4h0.8M186.8 111.3h0.8M184.7 91.5h0.8M193.3 92.2h0.8M190.4 90.0h0.8M191.1 65.9h0.8M189.5 73.4h0.8M194.5 75.9h0.8M189.8 83.0h0.8M189.6 111.0h0.8M194.7 91.4h0.8M189.2 79.2h0.8M184.5 86.9h0.8M191.2 83.2h0.8M187.4 103.6h0.8M192.6 88.3h0.8M195.1 89.7h0.8M195.9 83.2h0.8M190.8 77.1h0.8M193.1 78.8h0.8M191.6 88.0h0.8M188.0 119.0h0.8M193.7 82.6h0.8M192.9 91.3h0.8M189.0 113.5h0.8M192.9 95.3h0.8M192.0 96.3h0.8M192.7 90.0h0.8M191.0 88.3h0.8M185.7 83.8h0.8M194.2 109.4h0.8M191.0 74.6h0.8M193.5 74.5h0.8M187.2 65.6h0.8M184.1 114.5h0.8M187.8 60.8h0.8M193.0 76.4h0.8M188.0 95.5h0.8M195.3 74.4h0.8M190.1 71.3h0.8M193.1 89.4h0.8M190.6 73.6h0.8M194.8 81.3h0.8M193.9 104.0h0.8M186.7 82.8h0.8M191.0 69.6h0.8M189.9 90.5h0.8M185.2 81.2h0.8M191.2 78.8h0.8M188.4 64.8h0.8M190.3 88.7h0.8M189.9 106.0h0.8M190.3 79.4h0.8M195.6 96.1h0.8M193.6 105.0h0.8M188.7 71.4h0.8M188.6 109.7h0.8M188.2 97.1h0.8M187.8 121.4h0.8M190.1 98.1h0.8M186.2 97.0h0.8M192.4 79.2h0.8M192.4 82.9h0.8M191.5 78.5h0.8M188.9 67.7h0.8M191.7 83.0h0.8M188.2 110.6h0.8M190.4 84.0h0.8M188.1 100.0h0.8M190.8 73.8h0.8M189.6 94.8h0.8M190.7 103.5h0.8M193.5 118.9h0.8M188.3 85.5h0.8M189.6 82.6h0.8M190.6 81.0h0.8M193.1 67.8h0.8M190.5 95.6h0.8M193.4 86.0h0.8M191.3 87.1h0.8M191.9 83.7h0.8M192.6 106.4h0.8M196.8 81.4h0.8M193.0 90.5h0.8M191.7 79.8h0.8M190.8 94.8h0.8M190.5 80.5h0.8M194.2 88.4h0.8M189.7 86.8h0.8M189.7 75.3h0.8M192.0 83.0h0.8M186.6 101.4h0.8M189.3 64.9h0.8M190.1 75.7h0.8M190.9 68.6h0.8M189.0 61.8h0.8M186.1 87.3h0.8M188.5 108.4h0.8M188.0 88.3h0.8M186.4 107.9h0.8M190.4 63.2h0.8M191.0 78.6h0.8M196.9 102.1h0.8M187.9 96.5h0.8M191.8 80.7h0.8M189.3 82.1h0.8M187.3 90.2h0.8M188.8 84.6h0.8M189.2 75.3h0.8M196.2 90.3h0.8M190.2 75.6h0.8M185.1 64.9h0.8M192.2 65.5h0.8M184.0 86.6h0.8M190.1 111.0h0.8M185.9 101.2h0.8M183.2 105.0h0.8M191.2 72.0h0.8M194.1 88.5h0.8M192.1 86.6h0.8M193.8 95.8h0.8M187.4 73.1h0.8M187.7 97.7h0.8M192.2 90.3h0.8M189.6 77.5h0.8M191.4 98.4h0.8M192.7 110.3h0.8M199.4 100.8h0.8M203.1 117.5h0.8M192.9 107.4h0.8M194.1 99.5h0.8M188.5 104.6h0.8M189.9 78.8h0.8M194.4 87.2h0.8M193.1 101.0h0.8M188.7 110.9h0.8M187.8 95.5h0.8M192.9 106.1h0.8M188.4 97.3h0.8M188.2 107.0h0.8M193.5 111.3h0.8M191.0 96.0h0.8M198.9 95.0h0.8M195.0 103.0h0.8M191.1 101.7h0.8M187.8 90.6h0.8M193.6 95.0h0.8M189.1 100.7h0.8M192.0 100.2h0.8M190.9 100.3h0.8M192.7 107.3h0.8M198.2 109.1h0.8M189.0 109.2h0.8M195.8 99.1h0.8M189.1 84.1h0.8M198.4 105.5h0.8M197.7 90.6h0.8M180.9 107.0h0.8M187.8 105.7h0.8M188.1 111.5h0.8M190.1 102.8h0.8M193.8 100.3h0.8M189.9 115.4h0.8M191.2 106.3h0.8M193.9 105.3h0.8M194.0 121.3h0.8M196.6 91.8h0.8M181.6 96.6h0.8M180.9 80.3h0.8M186.9 95.7h0.8M192.4 108.3h0.8M201.5 97.9h0.8M188.9 106.2h0.8M196.6 101.9h0.8M187.5 80.3h0.8M195.4 102.1h0.8M198.7 120.4h0.8M200.3 108.3h0.8M195.6 92.3h0.8M193.5 101.0h0.8M196.3 99.4h0.8M190.5 96.8h0.8M199.9 105.2h0.8M187.0 100.7h0.8M185.7 114.9h0.8M197.2 105.5h0.8M192.9 91.2h0.8M198.7 103.7h0.8M200.9 99.0h0.8M193.7 111.9h0.8M195.2 103.1h0.8M196.5 107.6h0.8M191.7 94.9h0.8M197.4 104.4h0.8M193.7 103.5h0.8M193.1 100.8h0.8M203.3 120.3h0.8M194.6 106.6h0.8M194.6 96.5h0.8M194.3 103.3h0.8M189.6 98.0h0.8M188.5 108.4h0.8M191.6 97.0h0.8M193.4 105.3h0.8M191.1 117.0h0.8M190.4 92.2h0.8M192.2 95.3h0.8M195.3 109.1h0.8M190.1 108.5h0.8M189.7 100.0h0.8M183.5 85.6h0.8M189.7 119.6h0.8M186.1 103.3h0.8M188.5 108.6h0.8M187.8 103.0h0.8M193.3 99.5h0.8M190.8 102.1h0.8M193.8 109.5h0.8M194.9 107.8h0.8M187.0 100.4h0.8M193.8 104.4h0.8M195.4 92.9h0.8M187.5 96.6h0.8M192.8 98.4h0.8M187.5 106.9h0.8M189.6 94.5h0.8M193.3 103.0h0.8M193.6 108.9h0.8M188.8 101.4h0.8M190.9 109.8h0.8M191.3 112.9h0.8M189.0 103.9h0.8M197.2 91.8h0.8M185.8 109.9h0.8M194.8 112.4h0.8M195.2 112.8h0.8M189.2 104.1h0.8M193.9 93.4h0.8M185.8 98.8h0.8M195.8 110.4h0.8M185.7 99.0h0.8M189.0 104.5h0.8M192.3 103.9h0.8M187.4 113.3h0.8M196.0 94.8h0.8M190.7 113.0h0.8M193.0 107.9h0.8M189.5 116.1h0.8M186.7 111.7h0.8M199.2 97.4h0.8M197.3 111.0h0.8M188.6 105.3h0.8M197.7 100.1h0.8M189.5 79.4h0.8M184.2 100.6h0.8M190.9 109.0h0.8M195.3 120.8h0.8M194.8 115.6h0.8M188.0 107.9h0.8M195.8 112.3h0.8M189.6 103.7h0.8M186.0 107.0h0.8M186.9 112.4h0.8M192.7 110.2h0.8M194.2 108.0h0.8M195.1 104.7h0.8M184.4 115.0h0.8M188.3 112.0h0.8M193.9 107.4h0.8M192.3 106.5h0.8M192.4 104.3h0.8M191.0 106.6h0.8M194.2 100.4h0.8M192.6 92.6h0.8M187.9 89.2h0.8M190.4 107.3h0.8M194.6 92.5h0.8M195.1 95.2h0.8M189.7 99.7h0.8M198.4 105.5h0.8M200.7 112.5h0.8M190.4 107.5h0.8M197.5 96.7h0.8M189.4 103.8h0.8M190.1 101.9h0.8M199.0 105.4h0.8M190.2 100.8h0.8M185.7 111.0h0.8M193.6 99.1h0.8M186.2 100.1h0.8M193.3 99.1h0.8M194.3 110.0h0.8M194.0 108.5h0.8M191.6 98.5h0.8M186.1 90.3h0.8M189.6 109.8h0.8M191.5 95.2h0.8M195.5 95.7h0.8M186.4 95.6h0.8M188.6 103.3h0.8M186.1 90.2h0.8M193.4 106.2h0.8M193.5 110.4h0.8M191.7 119.1h0.8M190.6 103.5h0.8M197.1 107.3h0.8M190.8 103.8h0.8M186.4 109.6h0.8M190.5 107.7h0.8M197.2 110.5h0.8M192.6 107.3h0.8M192.1 118.3h0.8M183.2 100.1h0.8M187.9 107.6h0.8M190.7 104.8h0.8M199.9 106.4h0.8M195.2 100.6h0.8M188.6 95.4h0.8M197.7 94.7h0.8M193.2 104.4h0.8M190.6 94.3h0.8M193.2 112.8h0.8M187.7 100.0h0.8M198.7 101.0h0.8M187.8 103.4h0.8M187.6 85.1h0.8M197.2 109.2h0.8M190.3 107.9h0.8M189.0 91.8h0.8M188.8 97.7h0.8M187.2 113.1h0.8M187.8 94.7h0.8M192.3 107.9h0.8M198.7 106.3h0.8M185.5 96.3h0.8M195.6 98.4h0.8M193.6 119.9h0.8M185.1 91.1h0.8M190.6 103.7h0.8M195.3 90.2h0.8M194.1 101.8h0.8M184.1 101.8h0.8M193.6 119.3h0.8M188.7 110.0h0.8M185.6 113.0h0.8M191.9 117.4h0.8M185.6 94.1h0.8M184.0 119.2h0.8M189.4 88.3h0.8M188.2 111.1h0.8M194.3 107.6h0.8M185.6 102.4h0.8M182.7 90.9h0.8M194.1 111.5h0.8M190.4 88.2h0.8M187.2 100.6h0.8M198.4 98.3h0.8M185.0 93.6h0.8M187.6 99.2h0.8M190.3 121.1h0.8M188.8 85.3h0.8M195.9 97.1h0.8M188.0 98.9h0.8M192.8 104.9h0.8M193.5 100.9h0.8M191.7 94.4h0.8M186.7 98.5h0.8M189.4 88.9h0.8M186.0 114.5h0.8M196.5 117.8h0.8M196.5 111.5h0.8M199.0 109.4h0.8M189.9 101.3h0.8M192.8 107.5h0.8M190.8 100.9h0.8M191.2 96.9h0.8M201.4 108.4h0.8M182.6 111.5h0.8M187.8 102.0h0.8M191.5 111.7h0.8M191.3 106.5h0.8M191.3 96.3h0.8M185.7 104.1h0.8M189.5 105.6h0.8M193.5 93.9h0.8M191.8 97.7h0.8M188.4 95.8h0.8M190.4 97.8h0.8M188.4 100.9h0.8M185.7 115.5h0.8M194.3 100.7h0.8M192.8 95.8h0.8M191.9 90.7h0.8M191.2 105.0h0.8M189.9 110.3h0.8M187.9 105.1h0.8M194.0 108.5h0.8M191.4 118.4h0.8M195.0 109.6h0.8M188.3 104.7h0.8M189.1 121.8h0.8M193.2 97.4h0.8M195.3 113.6h0.8M189.0 105.5h0.8M202.6 104.4h0.8M191.5 93.7h0.8M187.3 105.2h0.8M195.0 96.4h0.8M182.4 108.9h0.8M190.5 99.6h0.8M187.5 113.7h0.8M190.7 92.5h0.8M187.0 100.0h0.8M185.0 99.4h0.8M196.6 111.3h0.8M195.9 112.5h0.8M192.2 107.2h0.8M183.7 110.5h0.8M194.3 106.0h0.8M192.5 94.6h0.8M189.4 90.2h0.8M189.3 101.7h0.8M188.6 114.1h0.8M187.8 106.8h0.8M192.4 102.4h0.8M194.0 107.4h0.8M189.8 115.4h0.8M190.9 109.4h0.8M186.9 96.0h0.8M185.9 93.6h0.8M188.1 100.2h0.8M191.8 113.0h0.8M190.8 109.2h0.8M191.6 99.1h0.8M189.4 108.3h0.8M192.3 115.6h0.8M192.4 103.1h0.8M186.5 97.5h0.8M193.2 106.9h0.8M198.9 98.7h0.8M194.5 103.5h0.8M182.4 94.2h0.8M192.7 101.1h0.8M188.6 113.8h0.8M190.6 106.7h0.8M195.0 100.3h0.8M194.5 95.6h0.8M185.9 113.9h0.8M197.4 110.6h0.8M188.3 101.3h0.8M187.5 96.1h0.8M192.2 100.1h0.8M196.7 90.6h0.8M189.3 93.6h0.8M185.8 120.4h0.8M198.5 107.8h0.8M193.9 109.4h0.8M191.7 76.9h0.8M181.5 109.0h0.8M180.1 116.3h0.8M195.1 106.7h0.8M193.1 110.1h0.8M188.8 120.0h0.8M190.3 95.9h0.8M199.7 105.1h0.8M192.9 114.4h0.8M201.3 103.6h0.8M191.9 91.7h0.8M191.6 118.6h0.8M188.0 95.9h0.8M183.8 92.6h0.8M185.5 104.0h0.8M192.7 86.1h0.8M193.4 115.3h0.8M195.3 97.2h0.8M195.2 99.4h0.8M186.4 91.5h0.8M184.7 100.9h0.8M194.1 88.0h0.8M182.4 114.2h0.8M193.2 91.3h0.8M195.6 112.9h0.8M183.7 101.6h0.8M197.6 90.4h0.8M193.4 106.9h0.8M200.2 115.5h0.8M189.6 91.2h0.8M189.9 104.7h0.8M191.3 100.0h0.8M187.1 115.1h0.8M189.7 97.3h0.8M192.4 105.1h0.8M191.4 114.5h0.8M186.8 106.2h0.8M196.0 99.8h0.8M192.1 109.7h0.8M193.8 104.1h0.8M185.9 96.0h0.8M191.6 101.3h0.8M190.1 99.3h0.8M183.6 109.4h0.8M186.7 117.9h0.8M204.1 111.0h0.8M193.6 98.4h0.8M187.1 100.4h0.8M196.1 104.3h0.8M184.2 111.1h0.8M189.2 111.3h0.8M191.5 97.1h0.8M189.4 110.5h0.8M188.9 115.9h0.8M187.9 116.7h0.8M185.5 94.4h0.8M194.2 117.3h0.8M190.2 111.0h0.8M187.3 95.1h0.8M191.6 122.9h0.8M190.3 89.8h0.8M180.3 103.2h0.8M194.2 100.7h0.8M192.2 97.0h0.8M197.1 108.2h0.8M185.1 98.3h0.8M196.9 103.4h0.8M180.6 100.1h0.8M189.0 79.5h0.8M193.4 115.8h0.8M188.8 95.5h0.8M190.2 99.2h0.8M190.8 107.9h0.8M184.0 100.3h0.8M199.7 102.0h0.8M191.6 106.2h0.8M187.4 90.8h0.8M201.4 103.4h0.8M186.5 111.0h0.8M189.2 94.9h0.8M188.7 91.1h0.8M186.4 111.1h0.8M191.6 100.7h0.8M197.0 109.4h0.8M189.2 90.0h0.8M188.6 114.5h0.8M186.8 122.3h0.8M190.1 91.0h0.8M189.0 116.0h0.8M188.2 107.1h0.8M194.4 98.2h0.8M195.9 115.8h0.8M194.7 87.4h0.8M192.5 109.7h0.8M195.2 119.5h0.8M192.5 103.7h0.8M181.8 92.8h0.8M196.3 93.0h0.8M190.0 88.2h0.8M189.8 92.3h0.8M193.2 102.5h0.8M192.7 89.5h0.8M190.2 110.8h0.8M190.6 110.5h0.8M193.8 108.7h0.8M192.6 110.1h0.8M190.3 102.1h0.8M185.7 101.3h0.8M189.9 117.0h0.8M186.0 105.6h0.8M189.8 103.7h0.8M196.1 102.7h0.8M186.9 104.3h0.8M195.6 106.2h0.8M194.4 91.2h0.8M195.5 99.1h0.8M185.7 106.3h0.8M184.7 106.0h0.8M198.5 98.6h0.8M187.2 113.5h0.8M194.2 111.3h0.8M182.5 96.0h0.8M199.8 96.2h0.8M189.2 104.6h0.8M192.3 101.9h0.8M179.3 108.4h0.8M185.9 112.1h0.8M197.0 93.7h0.8M191.9 118.2h0.8M199.1 112.3h0.8M189.0 107.4h0.8M187.0 117.2h0.8M193.0 116.3h0.8M179.8 98.7h0.8M188.9 100.1h0.8M185.6 107.8h0.8M187.3 120.4h0.8M189.6 99.4h0.8M188.1 108.9h0.8M192.9 95.0h0.8M187.5 103.7h0.8M187.3 106.4h0.8M186.0 106.0h0.8M190.2 112.3h0.8M190.7 109.3h0.8M190.0 101.8h0.8M188.2 92.0h0.8M192.2 103.5h0.8M198.6 107.9h0.8M199.9 121.2h0.8M192.6 94.7h0.8M190.4 113.0h0.8M191.2 113.7h0.8M189.8 104.8h0.8M195.7 109.9h0.8M193.0 106.2h0.8M194.1 103.3h0.8M196.1 98.8h0.8M205.4 106.1h0.8M187.7 89.5h0.8M187.4 107.6h0.8M189.3 114.4h0.8M189.9 94.6h0.8M190.0 99.1h0.8M190.6 93.6h0.8M190.8 87.0h0.8M192.1 102.7h0.8M190.7 96.6h0.8M191.2 105.7h0.8M183.5 112.7h0.8M190.8 108.3h0.8M198.5 92.8h0.8M186.9 95.3h0.8M191.7 94.9h0.8M187.5 119.7h0.8M190.3 107.7h0.8M196.1 117.2h0.8M184.9 107.5h0.8M195.1 114.1h0.8M188.5 100.2h0.8M192.4 104.5h0.8M190.1 98.6h0.8M191.0 101.5h0.8M192.7 98.4h0.8M186.8 100.0h0.8M190.6 113.7h0.8M189.7 85.1h0.8M201.7 115.0h0.8M194.3 108.4h0.8M191.8 120.0h0.8M186.0 110.9h0.8M191.2 118.1h0.8M193.6 95.2h0.8M186.5 115.1h0.8M186.1 101.6h0.8M199.4 95.6h0.8M194.3 121.9h0.8M198.8 111.5h0.8M188.3 120.8h0.8M194.0 104.8h0.8M186.6 84.7h0.8M193.5 100.2h0.8M183.7 112.5h0.8M192.8 98.8h0.8M189.8 109.4h0.8M194.1 96.1h0.8M195.9 102.6h0.8M187.0 103.2h0.8M191.8 114.9h0.8M194.8 84.0h0.8M186.0 111.5h0.8M193.0 95.6h0.8M189.3 118.9h0.8M180.7 115.6h0.8M196.6 98.9h0.8M190.4 107.6h0.8M192.0 108.2h0.8M197.2 98.6h0.8M191.7 108.5h0.8M189.7 104.0h0.8M198.4 85.8h0.8M193.0 99.5h0.8M186.4 102.3h0.8M193.4 111.8h0.8M188.2 110.2h0.8M198.4 106.0h0.8M195.0 108.6h0.8M194.7 95.8h0.8M197.3 108.6h0.8M200.2 111.8h0.8M187.7 115.0h0.8M198.1 114.0h0.8M190.4 100.8h0.8M198.0 97.5h0.8M195.8 105.7h0.8M188.7 101.2h0.8M189.3 109.1h0.8M188.7 103.8h0.8M190.7 108.0h0.8M196.4 91.2h0.8M193.7 98.2h0.8M190.8 103.3h0.8M199.0 118.2h0.8M190.7 102.3h0.8M198.4 109.1h0.8M200.4 98.2h0.8M197.0 100.1h0.8M187.4 110.9h0.8M190.4 115.8h0.8M185.5 90.4h0.8M198.6 114.3h0.8M192.2 89.9h0.8M190.1 100.9h0.8M187.8 108.5h0.8M191.3 90.5h0.8M188.3 112.9h0.8M186.4 106.5h0.8M196.3 111.0h0.8M183.4 109.4h0.8M186.5 86.0h0.8M192.9 89.4h0.8M190.4 115.2h0.8M194.1 102.8h0.8M195.8 104.5h0.8M195.2 114.1h0.8M186.9 118.9h0.8M190.8 104.5h0.8M192.3 101.4h0.8M189.4 108.7h0.8M188.6 108.2h0.8M194.8 98.7h0.8M189.9 108.6h0.8M191.3 109.5h0.8M191.2 100.9h0.8M190.4 106.7h0.8M196.8 88.7h0.8M189.2 100.3h0.8M187.8 99.6h0.8M196.8 113.0h0.8M188.7 90.9h0.8M193.3 108.2h0.8M186.0 105.7h0.8M193.4 109.8h0.8M189.1 108.4h0.8M190.7 111.5h0.8M192.6 109.5h0.8M191.5 101.6h0.8M192.5 111.6h0.8M189.7 107.1h0.8M202.6 98.1h0.8M185.4 95.4h0.8M190.1 103.9h0.8M181.3 86.2h0.8M195.0 91.3h0.8M194.6 114.8h0.8M191.6 100.9h0.8M193.2 103.4h0.8M193.9 120.3h0.8M192.8 93.0h0.8M197.8 113.9h0.8M198.1 107.4h0.8M195.5 121.5h0.8M191.2 98.5h0.8M198.1 101.0h0.8M196.7 99.3h0.8M189.4 106.7h0.8M193.0 97.3h0.8M199.0 100.3h0.8M194.8 96.0h0.8M188.8 99.1h0.8M192.3 105.6h0.8M192.6 104.3h0.8M195.8 112.3h0.8M189.6 105.4h0.8M193.7 110.6h0.8M193.9 101.2h0.8M190.1 104.9h0.8M193.8 94.8h0.8M187.1 100.7h0.8M192.0 98.4h0.8M189.6 97.0h0.8M193.9 86.5h0.8M191.5 98.3h0.8M191.7 105.8h0.8M194.8 118.1h0.8M195.1 112.2h0.8M194.1 118.2h0.8M185.5 103.3h0.8M187.4 111.9h0.8M192.8 118.6h0.8M192.2 102.6h0.8M190.8 97.6h0.8M182.4 103.9h0.8M189.6 100.2h0.8M186.4 105.0h0.8M186.9 106.5h0.8M190.5 101.3h0.8M184.4 107.1h0.8M195.5 102.9h0.8M188.9 109.6h0.8M195.1 100.3h0.8M203.9 115.1h0.8M198.4 107.8h0.8M193.4 95.4h0.8M190.4 104.6h0.8M194.7 99.6h0.8M187.7 114.5h0.8M192.1 112.5h0.8M192.0 98.7h0.8M191.5 82.3h0.8M196.0 109.1h0.8M196.9 102.2h0.8M200.5 115.0h0.8M183.6 88.3h0.8M192.7 91.8h0.8M190.9 102.5h0.8M190.1 117.4h0.8M194.1 109.8h0.8M197.6 97.9h0.8M194.1 97.5h0.8M190.7 103.3h0.8M185.2 87.5h0.8M186.0 108.9h0.8M181.8 97.0h0.8M189.1 110.6h0.8M191.5 94.2h0.8M188.8 106.2h0.8M196.4 106.4h0.8M191.0 101.7h0.8M198.7 96.7h0.8M189.4 107.1h0.8M197.3 88.6h0.8M195.9 114.3h0.8M192.7 87.0h0.8M188.2 102.7h0.8M192.8 92.8h0.8M190.4 110.3h0.8M189.0 101.2h0.8M189.3 91.2h0.8M189.8 102.0h0.8M194.9 96.8h0.8M185.5 99.5h0.8M187.4 109.0h0.8M188.9 89.9h0.8M194.2 103.3h0.8M192.3 107.5h0.8M196.3 95.7h0.8M194.3 104.6h0.8M191.7 103.0h0.8M189.3 105.8h0.8M191.6 110.0h0.8M198.3 95.1h0.8M200.4 113.7h0.8M186.2 102.8h0.8M191.5 114.4h0.8M187.0 119.3h0.8M186.5 100.7h0.8M188.7 92.8h0.8M186.3 98.7h0.8M190.3 98.4h0.8M187.2 80.8h0.8M190.2 120.8h0.8M199.1 114.3h0.8M189.7 108.5h0.8M189.0 99.7h0.8M192.2 113.1h0.8M189.2 98.1h0.8M191.3 90.7h0.8M195.4 113.1h0.8M196.9 110.9h0.8M188.8 101.9h0.8M187.2 106.8h0.8M201.5 95.2h0.8M194.5 116.3h0.8M186.7 123.1h0.8M188.5 103.1h0.8M193.4 112.3h0.8M195.2 101.8h0.8M188.5 83.1h0.8M189.2 115.3h0.8M187.9 109.5h0.8M194.8 105.5h0.8M189.0 99.1h0.8M191.3 88.3h0.8M197.9 94.6h0.8M188.6 98.5h0.8M190.2 107.4h0.8M197.1 106.1h0.8M198.7 100.7h0.8M194.7 111.2h0.8M192.2 110.1h0.8M186.9 116.0h0.8M195.3 105.6h0.8M189.9 111.7h0.8M186.6 110.7h0.8M191.2 116.3h0.8M194.4 89.7h0.8M185.7 99.4h0.8M196.9 117.2h0.8M190.4 108.1h0.8M192.6 81.8h0.8M196.6 116.9h0.8M181.3 95.7h0.8M191.2 103.4h0.8M196.4 114.7h0.8M189.0 110.2h0.8M188.6 101.3h0.8M192.7 109.1h0.8M188.7 121.3h0.8M192.5 104.2h0.8M195.1 98.5h0.8M190.5 86.7h0.8M196.7 86.9h0.8M195.8 101.0h0.8M205.1 84.6h0.8M204.3 98.0h0.8M193.1 72.0h0.8M199.3 108.4h0.8M194.5 60.9h0.8M203.9 109.6h0.8M197.9 108.6h0.8M209.2 79.6h0.8M197.2 86.6h0.8M204.5 79.5h0.8M197.5 111.4h0.8M204.2 108.3h0.8M194.5 99.0h0.8M196.2 106.2h0.8M201.7 103.1h0.8M198.3 94.7h0.8M201.1 89.4h0.8M200.8 78.1h0.8M193.3 67.0h0.8M198.5 105.1h0.8M201.3 63.1h0.8M201.2 93.2h0.8M198.4 96.0h0.8M202.1 112.9h0.8M205.4 121.1h0.8M202.1 84.0h0.8M205.8 74.7h0.8M203.4 77.6h0.8M196.4 110.9h0.8M196.2 108.6h0.8M202.4 90.8h0.8M202.9 101.8h0.8M200.0 83.4h0.8M203.4 88.0h0.8M199.0 99.4h0.8M198.8 96.7h0.8M200.8 97.0h0.8M200.0 113.3h0.8M196.9 86.6h0.8M193.1 58.4h0.8M202.6 99.9h0.8M206.3 71.5h0.8M195.5 84.4h0.8M208.9 106.4h0.8M198.4 92.4h0.8M200.8 76.2h0.8M200.9 76.9h0.8M199.7 102.8h0.8M200.6 82.3h0.8M197.8 104.3h0.8M196.7 72.6h0.8M197.8 84.9h0.8M198.1 92.4h0.8M197.4 87.2h0.8M203.6 100.8h0.8M203.8 93.4h0.8M197.2 96.7h0.8M191.9 75.6h0.8M203.2 85.0h0.8M195.8 76.1h0.8M201.2 74.5h0.8M205.0 95.0h0.8M190.4 84.5h0.8M194.0 99.9h0.8M201.5 84.8h0.8M195.8 98.3h0.8M195.9 111.3h0.8M195.7 96.9h0.8M189.3 97.3h0.8M195.9 95.7h0.8M204.3 89.1h0.8M186.6 61.6h0.8M199.3 78.4h0.8M193.2 106.5h0.8M197.7 105.1h0.8M203.3 85.6h0.8M199.4 74.0h0.8M200.7 90.8h0.8M206.5 103.5h0.8M197.9 81.1h0.8M197.6 91.1h0.8M202.4 106.0h0.8M192.8 75.8h0.8M200.3 73.3h0.8M198.2 65.0h0.8M197.0 84.3h0.8M197.1 81.4h0.8M201.0 103.9h0.8M202.2 86.9h0.8M197.1 81.2h0.8M195.1 88.4h0.8M197.8 87.8h0.8M199.8 103.3h0.8M195.5 87.5h0.8M201.3 93.9h0.8M194.8 73.8h0.8M201.8 75.5h0.8M200.7 76.5h0.8M207.2 75.8h0.8M207.5 102.1h0.8M205.5 109.3h0.8M201.4 87.1h0.8M210.7 85.6h0.8M199.8 72.1h0.8M198.8 100.2h0.8M195.5 93.7h0.8M197.5 86.8h0.8M201.9 104.4h0.8M195.3 66.7h0.8M201.2 75.9h0.8M196.7 79.8h0.8M199.7 86.9h0.8M204.3 119.7h0.8M197.8 87.0h0.8M207.9 104.6h0.8M185.3 89.3h0.8M195.0 83.1h0.8M199.5 84.7h0.8M196.9 121.9h0.8M191.0 94.0h0.8M201.8 70.5h0.8M193.3 75.0h0.8M203.0 75.8h0.8M201.3 74.1h0.8M192.7 98.1h0.8M202.9 71.8h0.8M193.9 95.1h0.8M194.1 74.4h0.8M193.5 95.7h0.8M186.0 117.0h0.8M206.6 109.7h0.8M197.7 81.4h0.8M201.3 75.0h0.8M209.3 82.3h0.8M204.6 103.1h0.8M196.6 87.8h0.8M194.7 92.7h0.8M201.7 91.4h0.8M197.1 91.6h0.8M204.8 104.5h0.8M201.2 82.1h0.8M196.4 98.5h0.8M196.8 81.1h0.8M205.5 92.8h0.8M199.9 82.6h0.8M200.1 103.2h0.8M200.1 69.5h0.8M196.3 99.1h0.8M199.9 105.9h0.8M197.2 90.3h0.8M203.1 90.3h0.8M202.9 65.2h0.8M194.0 104.6h0.8M202.6 102.2h0.8M203.1 104.6h0.8M193.2 114.4h0.8M202.9 73.5h0.8M192.2 96.8h0.8M195.3 98.3h0.8M197.2 68.7h0.8M194.4 85.1h0.8M198.5 102.3h0.8M195.3 97.6h0.8M197.5 88.8h0.8M187.2 83.3h0.8M191.5 100.6h0.8M203.9 97.0h0.8M208.7 94.5h0.8M202.7 85.6h0.8M200.3 75.6h0.8M197.1 105.9h0.8M198.5 85.8h0.8M198.0 98.0h0.8M205.3 68.5h0.8M198.5 88.6h0.8M197.4 90.3h0.8M201.1 107.9h0.8M190.1 73.1h0.8M199.1 69.1h0.8M200.8 77.9h0.8M197.8 73.3h0.8M196.8 111.7h0.8M198.2 99.7h0.8M194.5 97.7h0.8M185.4 88.4h0.8M201.7 78.6h0.8M193.1 81.7h0.8M206.5 62.8h0.8M201.6 107.1h0.8M191.6 76.2h0.8M196.4 80.0h0.8M203.1 91.2h0.8M195.7 95.4h0.8M204.4 84.5h0.8M194.3 103.9h0.8M206.9 113.3h0.8M202.4 87.9h0.8M202.6 99.1h0.8M201.7 90.4h0.8M203.8 104.1h0.8M192.5 101.7h0.8M193.8 93.0h0.8M198.1 98.5h0.8M196.3 86.0h0.8M196.3 84.1h0.8M191.8 99.2h0.8M196.0 96.7h0.8M198.8 97.8h0.8M201.7 72.3h0.8M198.3 94.4h0.8M195.4 81.9h0.8M200.7 110.6h0.8M201.6 102.1h0.8M200.5 120.0h0.8M199.1 105.3h0.8M215.6 97.4h0.8M198.9 68.7h0.8M199.2 78.4h0.8M196.5 75.3h0.8M198.9 82.2h0.8M201.8 114.0h0.8M201.4 92.6h0.8M199.1 112.3h0.8M192.4 77.7h0.8M196.2 74.1h0.8M201.5 86.2h0.8M194.2 100.1h0.8M198.5 98.0h0.8M198.9 84.1h0.8M193.7 98.8h0.8M194.4 107.2h0.8M200.2 91.4h0.8M195.0 116.4h0.8M197.7 100.1h0.8M195.8 109.2h0.8M201.1 107.5h0.8M203.1 90.3h0.8M194.7 93.1h0.8M195.9 86.8h0.8M207.5 106.2h0.8M200.8 102.4h0.8M203.7 96.1h0.8M199.0 94.8h0.8M193.7 94.0h0.8M196.8 111.9h0.8M202.5 100.6h0.8M204.7 99.6h0.8M198.0 121.4h0.8M193.8 66.1h0.8M211.7 73.0h0.8M212.1 70.0h0.8M217.6 72.9h0.8M215.8 75.0h0.8M214.6 74.9h0.8M215.1 77.1h0.8M218.2 70.1h0.8M218.5 74.3h0.8M217.5 71.5h0.8M210.6 67.4h0.8M217.8 76.2h0.8M209.3 65.4h0.8M207.6 63.3h0.8M216.7 66.8h0.8M216.3 76.8h0.8M208.6 70.4h0.8M215.7 72.1h0.8M218.2 75.6h0.8M216.6 65.3h0.8M218.7 80.5h0.8M210.9 69.5h0.8M216.0 68.3h0.8M215.6 71.5h0.8M218.6 68.4h0.8M214.2 79.6h0.8M218.5 67.8h0.8M210.6 69.8h0.8M216.6 68.9h0.8M202.5 63.7h0.8M204.5 73.4h0.8M207.3 82.1h0.8M204.3 66.5h0.8M201.2 64.8h0.8M205.6 70.5h0.8M205.7 74.3h0.8M205.1 61.3h0.8M206.8 75.5h0.8M203.9 98.7h0.8M198.8 60.5h0.8M204.5 67.9h0.8M203.4 74.4h0.8M209.5 76.8h0.8M206.8 85.1h0.8M201.7 71.0h0.8M206.4 69.9h0.8M205.8 70.7h0.8M204.2 63.0h0.8M202.9 69.8h0.8M207.4 76.4h0.8M203.4 62.9h0.8M206.0 72.2h0.8M204.8 80.0h0.8" stroke="#111" stroke-width="0.8" fill="none" opacity="1"/>
<rect x="178.20" y="54.40" width="29.40" height="69.90" fill="none" stroke="#666" stroke-width="0.9" />
<rect x="209.60" y="53.70" width="20.10" height="30.50" fill="none" stroke="#666" stroke-width="0.9" />
<rect x="154.30" y="37.40" width="81.20" height="87.80" fill="none" stroke="#444" stroke-width="0.9" />
<path d="M154.3 37.4V125.2H235.5" fill="none" stroke="#111" stroke-width="1.2" />
<path d="M152.8 40.4h1.5M152.8 42.6h1.5M152.8 44.8h1.5M152.8 47.0h1.5M152.8 49.2h1.5M152.8 51.4h1.5M152.8 53.6h1.5M152.8 55.8h1.5M152.8 58.0h1.5M152.8 60.2h1.5M152.8 62.4h1.5M152.8 64.6h1.5M152.8 66.8h1.5M152.8 69.0h1.5M152.8 71.2h1.5M152.8 73.4h1.5M152.8 75.6h1.5M152.8 77.8h1.5M152.8 80.0h1.5M152.8 82.2h1.5M152.8 84.4h1.5M152.8 86.6h1.5M152.8 88.8h1.5M152.8 91.0h1.5M152.8 93.2h1.5M152.8 95.4h1.5M152.8 97.6h1.5M152.8 99.8h1.5M152.8 102.0h1.5M152.8 104.2h1.5M152.8 106.4h1.5M152.8 108.6h1.5M152.8 110.8h1.5M152.8 113.0h1.5M152.8 115.2h1.5M152.8 117.4h1.5M152.8 119.6h1.5M152.8 121.8h1.5M152.8 124.0h1.5M156.3 125.2v1.8M158.5 125.2v1.8M160.7 125.2v1.8M162.9 125.2v1.8M165.1 125.2v1.8M167.3 125.2v1.8M169.5 125.2v1.8M171.7 125.2v1.8M173.9 125.2v1.8M176.1 125.2v1.8M178.3 125.2v1.8M180.5 125.2v1.8M182.7 125.2v1.8M184.9 125.2v1.8M187.1 125.2v1.8M189.3 125.2v1.8M191.5 125.2v1.8M193.7 125.2v1.8M195.9 125.2v1.8M198.1 125.2v1.8M200.3 125.2v1.8M202.5 125.2v1.8M204.7 125.2v1.8M206.9 125.2v1.8M209.1 125.2v1.8M211.3 125.2v1.8M213.5 125.2v1.8M215.7 125.2v1.8M217.9 125.2v1.8M220.1 125.2v1.8M222.3 125.2v1.8M224.5 125.2v1.8M226.7 125.2v1.8M228.9 125.2v1.8M231.1 125.2v1.8M233.3 125.2v1.8M151.3 45.0h3M151.3 65.8h3M151.3 88.7h3M151.3 108.2h3M159.0 125.2v3M176.0 125.2v3M193.0 125.2v3M211.0 125.2v3M229.0 125.2v3" fill="none" stroke="#333" stroke-width="0.7" />
<text x="151.5" y="46.5" font-size="4.6" text-anchor="end" fill="#222" >10<tspan font-size="3" dy="-1.5">5</tspan></text>
<text x="151.5" y="67.3" font-size="4.6" text-anchor="end" fill="#222" >10<tspan font-size="3" dy="-1.5">4</tspan></text>
<text x="151.5" y="90.2" font-size="4.6" text-anchor="end" fill="#222" >10<tspan font-size="3" dy="-1.5">3</tspan></text>
<text x="151.5" y="109.7" font-size="4.6" text-anchor="end" fill="#222" >0</text>
<text x="159" y="134.2" font-size="4.6" text-anchor="middle" fill="#222" >0</text>
<text x="176" y="134.2" font-size="4.6" text-anchor="middle" fill="#222" >10<tspan font-size="3" dy="-1.5">2</tspan></text>
<text x="193" y="134.2" font-size="4.6" text-anchor="middle" fill="#222" >10<tspan font-size="3" dy="-1.5">3</tspan></text>
<text x="211" y="134.2" font-size="4.6" text-anchor="middle" fill="#222" >10<tspan font-size="3" dy="-1.5">4</tspan></text>
<text x="229" y="134.2" font-size="4.6" text-anchor="middle" fill="#222" >10<tspan font-size="3" dy="-1.5">5</tspan></text>
<text x="142.1" y="129.4" font-size="14" font-weight="bold" textLength="93.3" lengthAdjust="spacingAndGlyphs" transform="rotate(-90 142.1 129.4)" >CD150-PECy7</text>
<text x="154.8" y="147" font-size="14.2" font-weight="bold" textLength="73.4" lengthAdjust="spacingAndGlyphs" >CD41-FITC</text>
<path d="M218 69H267" fill="none" stroke="#2b2b2b" stroke-width="1.8" />
<path d="M272.3 69.0L263.1 64.0L266.4 69.0L263.1 74.0Z" fill="#2b2b2b" stroke="#2b2b2b" stroke-width="0.5" stroke-linejoin="miter"/>
<path d="M193.5 93.8H230.8V157" fill="none" stroke="#2b2b2b" stroke-width="1.8" />
<path d="M230.8 160.6L226.3 152.0L230.8 155.1L235.3 152.0Z" fill="#2b2b2b" stroke="#2b2b2b" stroke-width="0.5" stroke-linejoin="miter"/>
<line x1="254" y1="33.3" x2="254" y2="150" stroke="#111" stroke-width="1.3" />
<line x1="254" y1="268.4" x2="254" y2="358.7" stroke="#111" stroke-width="1.3" />
<line x1="18.9" y1="159.5" x2="18.9" y2="205.9" stroke="#111" stroke-width="1.3" />
<line x1="18.9" y1="312.4" x2="18.9" y2="358.8" stroke="#111" stroke-width="1.3" />
<path d="M273.4 95.0 L275.0 87.0 L276.4 80.0 L277.5 76.0 L279.0 71.5 L280.2 80.0 L281.4 88.0 L282.4 78.0 L283.4 69.0 L284.4 82.0 L285.3 95.0 L286.5 86.0 L287.8 80.0 L289.5 66.0 L291.0 55.0 L293.0 47.2 L294.5 50.0 L296.5 63.0 L299.0 76.6 L300.3 88.0 L301.5 100.0 L302.6 104.0 L304.0 106.7 L305.2 110.0 L306.5 115.0 L307.8 120.0 L309.0 124.3 L309.0 125.6 L273.4 125.6 Z" fill="#bdbdbd" stroke="#777" stroke-width="0.6" />
<path d="M273.6 75.0 L274.7 54.8 L276.0 64.0 L277.2 71.5 L278.4 52.0 L279.4 41.4 L280.4 62.0 L281.7 88.3 L282.6 77.0 L283.4 69.9 L284.4 84.0 L285.3 95.8 L286.5 72.0 L287.8 41.4 L289.0 52.0 L290.6 66.5 L291.8 54.0 L292.8 46.4 L294.5 49.8 L296.5 63.0 L299.0 76.6 L300.3 88.0 L301.5 98.0 L302.4 106.7 L303.7 100.0 L305.2 108.4 L307.4 116.8 L308.7 124.3 L310.2 120.0 L312.0 125.2 L318.0 125.2 L320.0 120.5 L322.0 125.2 L345.0 125.2" fill="none" stroke="#111" stroke-width="0.7" stroke-linejoin="round"/>
<rect x="273.40" y="36.90" width="82.40" height="88.70" fill="none" stroke="#444" stroke-width="0.9" />
<path d="M273.4 36.9V125.6H355.8" fill="none" stroke="#111" stroke-width="1.2" />
<text x="269.9" y="127.1" font-size="4.6" text-anchor="end" fill="#222" >0</text>
<text x="269.9" y="110.16" font-size="4.6" text-anchor="end" fill="#222" >20</text>
<text x="269.9" y="93.22" font-size="4.6" text-anchor="end" fill="#222" >40</text>
<text x="269.9" y="76.28" font-size="4.6" text-anchor="end" fill="#222" >60</text>
<text x="269.9" y="59.34" font-size="4.6" text-anchor="end" fill="#222" >80</text>
<text x="269.9" y="42.400000000000006" font-size="4.6" text-anchor="end" fill="#222" >100</text>
<path d="M270.9 125.6h2.5M270.9 108.7h2.5M270.9 91.7h2.5M270.9 74.8h2.5M270.9 57.8h2.5M270.9 40.9h2.5M282.2 125.6v2.5M291.0 125.6v2.5M309.7 125.6v2.5M328.2 125.6v2.5M346.6 125.6v2.5M275.4 125.6v1.5M277.8 125.6v1.5M280.2 125.6v1.5M282.6 125.6v1.5M285.0 125.6v1.5M287.4 125.6v1.5M289.8 125.6v1.5M292.2 125.6v1.5M294.6 125.6v1.5M297.0 125.6v1.5M299.4 125.6v1.5M301.8 125.6v1.5M304.2 125.6v1.5M306.6 125.6v1.5M309.0 125.6v1.5M311.4 125.6v1.5M313.8 125.6v1.5M316.2 125.6v1.5M318.6 125.6v1.5M321.0 125.6v1.5M323.4 125.6v1.5M325.8 125.6v1.5M328.2 125.6v1.5M330.6 125.6v1.5M333.0 125.6v1.5M335.4 125.6v1.5M337.8 125.6v1.5M340.2 125.6v1.5M342.6 125.6v1.5M345.0 125.6v1.5M347.4 125.6v1.5M349.8 125.6v1.5M352.2 125.6v1.5M354.6 125.6v1.5" fill="none" stroke="#333" stroke-width="0.7" />
<text x="282.2168" y="133.6" font-size="4.6" text-anchor="middle" fill="#222" >0</text>
<text x="290.9512" y="133.6" font-size="4.6" text-anchor="middle" fill="#222" >10<tspan font-size="3" dy="-1.5">2</tspan></text>
<text x="309.656" y="133.6" font-size="4.6" text-anchor="middle" fill="#222" >10<tspan font-size="3" dy="-1.5">3</tspan></text>
<text x="328.196" y="133.6" font-size="4.6" text-anchor="middle" fill="#222" >10<tspan font-size="3" dy="-1.5">4</tspan></text>
<text x="346.5712" y="133.6" font-size="4.6" text-anchor="middle" fill="#222" >10<tspan font-size="3" dy="-1.5">5</tspan></text>
<text x="320.3" y="54.8" font-size="12.4" font-weight="bold" textLength="25.5" lengthAdjust="spacingAndGlyphs" >MkP</text>
<text x="336.9" y="117.2" font-size="12" font-weight="bold" textLength="14.4" lengthAdjust="spacingAndGlyphs" >1%</text>
<path d="M49.7 249.6 L51.8 246.0 L53.9 241.8 L55.6 237.0 L57.3 231.7 L58.6 225.0 L59.8 218.3 L60.7 211.5 L61.5 204.9 L62.3 196.5 L63.1 188.2 L64.0 181.0 L64.8 174.8 L65.6 170.5 L66.5 168.0 L67.3 171.0 L68.2 176.4 L69.0 185.0 L69.8 194.9 L70.6 204.0 L71.5 213.3 L72.2 222.0 L72.9 230.0 L73.3 236.0 L73.7 241.8 L74.5 249.6 L74.5 249.6 L49.7 249.6 Z" fill="#bdbdbd" stroke="#777" stroke-width="0.6" />
<path d="M37.7 247.5 L38.5 244.0 L39.5 247.5 L41.4 246.0 L43.5 247.3 L45.5 247.7 L47.3 245.5 L48.9 243.5 L50.0 241.0 L51.1 238.4 L52.0 240.0 L52.7 240.1 L53.8 235.0 L54.8 230.0 L55.5 232.5 L56.1 233.4 L57.1 229.0 L58.1 225.0 L59.4 217.0 L60.6 208.3 L61.3 199.0 L62.0 189.8 L62.6 194.0 L63.1 196.5 L63.6 186.0 L64.0 176.4 L64.7 178.5 L65.3 179.8 L65.9 171.0 L66.5 165.5 L66.9 172.0 L67.3 176.4 L67.8 173.0 L68.2 171.4 L68.9 178.0 L69.5 184.8 L70.5 195.0 L71.5 204.9 L72.4 214.0 L73.2 221.7 L74.5 222.5 L75.1 226.5 L75.7 230.0 L76.6 231.0 L77.4 231.7 L78.3 235.0 L79.1 237.6 L80.3 235.0 L81.6 233.4 L82.4 237.0 L83.2 240.1 L84.5 243.5 L85.8 246.0 L88.0 247.6 L90.0 248.5 L95.0 249.0 L120.0 249.3" fill="none" stroke="#111" stroke-width="0.7" stroke-linejoin="round"/>
<rect x="37.70" y="160.50" width="82.80" height="89.10" fill="none" stroke="#444" stroke-width="0.9" />
<path d="M37.7 160.5V249.6H120.5" fill="none" stroke="#111" stroke-width="1.2" />
<text x="34.2" y="251.1" font-size="4.6" text-anchor="end" fill="#222" >0</text>
<text x="34.2" y="234.07999999999998" font-size="4.6" text-anchor="end" fill="#222" >20</text>
<text x="34.2" y="217.06" font-size="4.6" text-anchor="end" fill="#222" >40</text>
<text x="34.2" y="200.04" font-size="4.6" text-anchor="end" fill="#222" >60</text>
<text x="34.2" y="183.01999999999998" font-size="4.6" text-anchor="end" fill="#222" >80</text>
<text x="34.2" y="166.0" font-size="4.6" text-anchor="end" fill="#222" >100</text>
<path d="M35.2 249.6h2.5M35.2 232.6h2.5M35.2 215.6h2.5M35.2 198.5h2.5M35.2 181.5h2.5M35.2 164.5h2.5M46.6 249.6v2.5M55.3 249.6v2.5M74.1 249.6v2.5M92.8 249.6v2.5M111.2 249.6v2.5M39.7 249.6v1.5M42.1 249.6v1.5M44.5 249.6v1.5M46.9 249.6v1.5M49.3 249.6v1.5M51.7 249.6v1.5M54.1 249.6v1.5M56.5 249.6v1.5M58.9 249.6v1.5M61.3 249.6v1.5M63.7 249.6v1.5M66.1 249.6v1.5M68.5 249.6v1.5M70.9 249.6v1.5M73.3 249.6v1.5M75.7 249.6v1.5M78.1 249.6v1.5M80.5 249.6v1.5M82.9 249.6v1.5M85.3 249.6v1.5M87.7 249.6v1.5M90.1 249.6v1.5M92.5 249.6v1.5M94.9 249.6v1.5M97.3 249.6v1.5M99.7 249.6v1.5M102.1 249.6v1.5M104.5 249.6v1.5M106.9 249.6v1.5M109.3 249.6v1.5M111.7 249.6v1.5M114.1 249.6v1.5M116.5 249.6v1.5M118.9 249.6v1.5" fill="none" stroke="#333" stroke-width="0.7" />
<text x="46.5596" y="257.6" font-size="4.6" text-anchor="middle" fill="#222" >0</text>
<text x="55.3364" y="257.6" font-size="4.6" text-anchor="middle" fill="#222" >10<tspan font-size="3" dy="-1.5">2</tspan></text>
<text x="74.132" y="257.6" font-size="4.6" text-anchor="middle" fill="#222" >10<tspan font-size="3" dy="-1.5">3</tspan></text>
<text x="92.762" y="257.6" font-size="4.6" text-anchor="middle" fill="#222" >10<tspan font-size="3" dy="-1.5">4</tspan></text>
<text x="111.2264" y="257.6" font-size="4.6" text-anchor="middle" fill="#222" >10<tspan font-size="3" dy="-1.5">5</tspan></text>
<text x="76.1" y="179.4" font-size="12.6" font-weight="bold" textLength="27.8" lengthAdjust="spacingAndGlyphs" >GMP</text>
<text x="98" y="242.7" font-size="12.2" font-weight="bold" textLength="21.1" lengthAdjust="spacingAndGlyphs" >13%</text>
<path d="M121.0 165.6L130.2 160.6L126.9 165.6L130.2 170.6Z" fill="#2b2b2b" stroke="#2b2b2b" stroke-width="0.5" stroke-linejoin="miter"/>
<path d="M169.3 188.5h0.8M177.4 190.8h0.8M170.5 195.0h0.8M178.8 193.4h0.8M175.0 189.2h0.8M166.9 177.7h0.8M164.0 179.4h0.8M172.7 180.5h0.8M168.9 182.9h0.8M173.0 187.0h0.8M184.0 193.4h0.8M185.4 189.4h0.8M158.8 192.2h0.8M188.6 187.0h0.8M184.4 187.9h0.8M174.0 187.5h0.8M168.3 185.4h0.8M159.2 188.0h0.8M174.2 191.8h0.8M172.7 190.2h0.8M191.0 194.4h0.8M172.0 189.3h0.8M173.3 194.7h0.8M169.1 193.3h0.8M176.4 174.7h0.8M176.8 185.4h0.8M165.8 187.5h0.8M175.5 200.9h0.8M173.6 183.6h0.8M172.1 190.4h0.8M165.6 186.4h0.8M160.2 180.8h0.8M169.6 191.6h0.8M165.8 183.2h0.8M172.3 182.8h0.8M168.6 183.0h0.8M186.8 186.5h0.8M184.1 189.4h0.8M187.1 183.9h0.8M174.4 175.7h0.8M183.4 191.9h0.8M170.2 198.3h0.8M195.9 197.4h0.8M185.8 189.2h0.8M166.6 179.9h0.8M181.5 178.9h0.8M171.5 196.8h0.8M176.0 181.7h0.8M166.2 194.2h0.8M164.7 185.2h0.8M161.9 187.0h0.8M168.1 193.0h0.8M165.2 185.3h0.8M182.7 187.2h0.8M174.3 190.4h0.8M181.6 180.0h0.8M165.8 199.3h0.8M182.4 191.7h0.8M173.3 192.4h0.8M180.2 193.1h0.8M164.6 187.6h0.8M176.3 189.9h0.8M164.8 186.4h0.8M165.3 185.4h0.8M174.9 191.2h0.8M177.9 193.7h0.8M174.4 181.7h0.8M173.7 185.8h0.8M159.6 184.0h0.8M176.5 193.7h0.8M172.2 180.8h0.8M172.7 184.3h0.8M183.2 182.2h0.8M179.9 187.3h0.8M176.3 184.6h0.8M177.3 188.3h0.8M171.7 182.4h0.8M168.6 178.0h0.8M177.3 186.8h0.8M185.1 181.0h0.8M185.8 191.3h0.8M169.4 190.4h0.8M162.9 180.3h0.8M182.9 178.3h0.8M173.2 195.2h0.8M174.1 195.1h0.8M171.4 184.5h0.8M182.5 193.3h0.8M172.5 195.3h0.8M164.0 192.9h0.8M170.0 189.1h0.8M174.1 189.2h0.8M177.5 195.8h0.8M184.6 189.4h0.8M173.8 183.1h0.8M186.6 193.9h0.8M168.3 188.9h0.8M185.5 185.4h0.8M175.6 188.4h0.8M171.0 188.5h0.8M157.3 192.4h0.8M169.7 188.7h0.8M162.0 199.6h0.8M178.0 178.4h0.8M168.4 186.1h0.8M165.4 180.6h0.8M162.6 183.0h0.8M174.4 189.4h0.8M183.4 187.9h0.8M155.0 186.1h0.8M181.9 182.5h0.8M174.5 189.8h0.8M164.9 186.4h0.8M164.9 195.0h0.8M178.3 188.7h0.8M178.6 191.9h0.8M166.2 180.8h0.8M161.5 180.7h0.8M179.6 194.2h0.8M185.3 181.9h0.8M173.0 194.4h0.8M187.4 187.3h0.8M170.1 185.9h0.8M176.6 192.5h0.8M181.0 186.2h0.8M184.8 183.6h0.8M178.2 195.5h0.8M182.1 191.0h0.8M170.1 187.5h0.8M167.4 184.2h0.8M165.2 193.4h0.8M163.8 183.9h0.8M184.0 190.9h0.8M187.2 197.2h0.8M176.8 194.2h0.8M164.4 188.9h0.8M187.5 191.7h0.8M175.8 202.6h0.8M180.1 181.3h0.8M182.8 176.0h0.8M177.6 190.7h0.8M169.9 184.1h0.8M170.2 202.4h0.8M164.8 183.7h0.8M172.1 186.3h0.8M187.5 191.1h0.8M172.4 192.3h0.8M176.2 187.7h0.8M171.3 187.6h0.8M172.6 186.3h0.8M173.2 195.1h0.8M163.7 189.9h0.8M179.7 188.4h0.8M173.5 194.4h0.8M170.4 191.4h0.8M178.1 189.8h0.8M175.5 192.9h0.8M185.5 183.8h0.8M182.1 185.6h0.8M166.7 189.0h0.8M175.3 179.6h0.8M186.8 187.0h0.8M179.2 190.9h0.8M178.6 189.3h0.8M176.2 189.1h0.8M171.0 194.1h0.8M175.0 190.4h0.8M169.2 185.0h0.8M175.1 181.3h0.8M185.2 187.3h0.8M171.2 185.8h0.8M174.8 191.2h0.8M179.4 185.4h0.8M164.8 187.2h0.8M172.7 184.6h0.8M183.4 183.8h0.8M166.6 192.8h0.8M170.5 187.2h0.8M166.8 181.6h0.8M167.7 179.3h0.8M179.2 190.2h0.8M188.5 188.9h0.8M169.2 193.2h0.8M169.3 193.2h0.8M169.5 178.8h0.8M170.7 186.5h0.8M177.6 186.3h0.8M175.4 189.7h0.8M166.5 182.1h0.8M167.5 179.6h0.8M174.0 191.5h0.8M170.8 184.8h0.8M164.0 190.9h0.8M181.6 177.7h0.8M189.3 197.1h0.8M169.1 187.9h0.8M174.5 190.2h0.8M170.4 190.1h0.8M178.3 200.9h0.8M172.7 184.9h0.8M181.1 188.5h0.8M174.4 188.7h0.8M170.4 185.7h0.8M169.5 184.1h0.8M169.8 197.2h0.8M172.7 184.2h0.8M165.5 193.7h0.8M168.5 188.7h0.8M159.7 176.8h0.8M175.2 179.8h0.8M174.9 192.6h0.8M166.7 185.1h0.8M169.7 184.3h0.8M170.0 185.7h0.8M171.3 188.2h0.8M177.0 190.6h0.8M173.5 184.2h0.8M176.9 192.3h0.8M174.2 186.3h0.8M189.6 178.0h0.8M177.9 189.5h0.8M184.7 198.0h0.8M178.1 186.2h0.8M177.5 182.7h0.8M173.8 184.4h0.8M177.0 179.7h0.8M170.6 188.9h0.8M171.5 186.3h0.8M167.4 186.5h0.8M184.4 186.0h0.8M163.3 182.4h0.8M169.8 191.4h0.8M171.1 191.8h0.8M183.8 184.5h0.8M174.9 186.8h0.8M180.3 192.6h0.8M176.1 182.8h0.8M170.5 187.5h0.8M172.5 185.0h0.8M175.0 190.4h0.8M175.5 184.4h0.8M170.1 182.1h0.8M167.5 190.7h0.8M171.5 187.1h0.8M181.3 185.8h0.8M173.1 180.8h0.8M180.0 187.6h0.8M179.1 192.2h0.8M172.7 190.8h0.8M162.0 184.7h0.8M158.5 191.9h0.8M177.7 195.4h0.8M183.4 196.5h0.8M171.7 180.6h0.8M170.1 198.3h0.8M177.4 194.2h0.8M179.1 191.4h0.8M170.7 182.4h0.8M180.0 184.0h0.8M185.9 191.7h0.8M178.4 188.6h0.8M160.1 182.9h0.8M180.5 182.3h0.8M163.9 195.0h0.8M157.0 186.7h0.8M176.0 198.1h0.8M181.4 190.9h0.8M159.6 185.9h0.8M159.9 188.6h0.8M162.4 192.4h0.8M178.1 185.7h0.8M176.4 189.4h0.8M174.0 188.3h0.8M178.9 188.9h0.8M170.3 189.8h0.8M167.8 193.9h0.8M179.6 178.3h0.8M171.0 187.4h0.8M172.7 190.6h0.8M183.5 196.2h0.8M158.2 191.6h0.8M158.6 192.4h0.8M176.6 184.3h0.8M169.4 185.5h0.8M182.6 185.9h0.8M170.0 190.0h0.8M185.9 186.0h0.8M175.3 184.6h0.8M181.1 182.8h0.8M176.2 190.3h0.8M170.2 193.7h0.8M187.7 189.1h0.8M175.8 189.3h0.8M182.3 192.8h0.8M173.8 187.8h0.8M167.3 186.4h0.8M173.3 196.6h0.8M179.9 177.8h0.8M169.1 194.0h0.8M182.0 179.8h0.8M172.3 196.0h0.8M167.6 185.7h0.8M173.9 183.0h0.8M181.4 189.6h0.8M174.6 184.8h0.8M181.3 186.9h0.8M166.9 186.8h0.8M162.8 184.5h0.8M191.0 185.2h0.8M166.1 187.6h0.8M175.6 190.3h0.8M175.0 179.8h0.8M169.4 176.6h0.8M178.5 190.5h0.8M179.5 180.7h0.8M157.2 187.3h0.8M165.2 181.5h0.8M166.5 179.8h0.8M158.6 188.8h0.8M175.3 191.9h0.8M175.3 188.5h0.8M176.3 186.6h0.8M173.8 187.1h0.8M155.1 188.6h0.8M186.3 196.5h0.8M171.1 189.6h0.8M174.6 196.8h0.8M186.0 184.9h0.8M166.9 185.2h0.8M168.3 195.4h0.8M157.9 181.3h0.8M161.9 183.8h0.8M177.8 182.8h0.8M179.2 196.7h0.8M174.3 194.2h0.8M171.2 189.7h0.8M170.8 193.5h0.8M175.6 191.5h0.8M180.0 193.7h0.8M165.5 188.9h0.8M167.4 185.7h0.8M173.0 191.0h0.8M172.8 186.8h0.8M183.2 191.0h0.8M156.4 189.0h0.8M169.5 191.1h0.8M179.0 196.9h0.8M170.3 192.3h0.8M171.7 184.5h0.8M160.9 188.7h0.8M184.4 187.7h0.8M181.4 189.0h0.8M179.5 187.7h0.8M177.4 183.3h0.8M178.8 197.9h0.8M181.6 185.9h0.8M158.5 188.1h0.8M164.3 186.9h0.8M180.9 177.2h0.8M171.1 187.1h0.8M178.9 190.5h0.8M186.4 191.2h0.8M178.6 178.3h0.8M173.1 186.5h0.8M172.8 193.4h0.8M163.6 174.4h0.8M187.5 188.2h0.8M170.1 195.2h0.8M179.5 189.6h0.8M175.7 192.1h0.8M166.1 188.3h0.8M189.5 192.2h0.8M175.8 198.6h0.8M175.3 196.8h0.8M176.1 187.5h0.8M176.7 190.1h0.8M162.7 198.2h0.8M177.7 199.8h0.8M167.8 186.1h0.8M163.7 186.9h0.8M178.6 199.3h0.8M170.0 186.5h0.8M181.3 191.5h0.8M168.4 185.7h0.8M168.3 194.2h0.8M169.0 186.4h0.8M182.7 186.0h0.8M181.7 181.6h0.8M168.4 195.1h0.8M178.2 184.0h0.8M164.2 179.3h0.8M176.1 187.2h0.8M175.8 188.0h0.8M195.3 196.1h0.8M161.3 188.8h0.8M163.6 188.8h0.8M171.1 189.3h0.8M170.6 177.4h0.8M178.1 179.1h0.8M166.0 183.9h0.8M174.6 182.0h0.8M172.0 188.5h0.8M188.6 185.8h0.8M175.3 191.7h0.8M171.9 189.1h0.8M181.0 185.4h0.8M175.7 191.0h0.8M177.3 194.5h0.8M173.9 185.2h0.8M164.4 180.9h0.8M180.9 185.6h0.8M166.8 195.4h0.8M162.8 191.9h0.8M165.2 184.9h0.8M169.0 189.8h0.8M170.3 192.7h0.8M168.2 197.4h0.8M170.0 178.5h0.8M165.4 182.6h0.8M175.3 181.1h0.8M182.4 183.9h0.8M169.0 193.3h0.8M156.0 197.9h0.8M166.0 177.5h0.8M185.1 187.7h0.8M158.6 190.3h0.8M186.1 197.3h0.8M177.9 183.2h0.8M168.7 192.1h0.8M176.7 186.7h0.8M184.9 182.1h0.8M186.3 183.1h0.8M169.0 187.3h0.8M179.5 194.8h0.8M160.4 182.3h0.8M167.4 186.9h0.8M166.5 181.8h0.8M185.4 192.6h0.8M173.3 193.0h0.8M171.3 179.8h0.8M157.8 190.3h0.8M172.6 187.6h0.8M164.9 188.3h0.8M175.1 195.5h0.8M183.7 185.5h0.8M188.3 194.0h0.8M185.8 188.1h0.8M181.7 180.4h0.8M183.1 184.9h0.8M176.8 184.9h0.8M173.4 188.6h0.8M162.6 188.3h0.8M181.3 189.3h0.8M182.8 201.1h0.8M174.4 195.7h0.8M174.9 182.3h0.8M179.9 182.3h0.8M173.8 200.5h0.8M167.6 181.9h0.8M170.3 190.4h0.8M180.4 185.6h0.8M168.2 191.1h0.8M172.8 193.7h0.8M166.7 195.3h0.8M175.6 188.1h0.8M160.1 185.7h0.8M172.5 194.3h0.8M174.8 183.0h0.8M162.0 192.2h0.8M163.7 196.9h0.8M175.5 185.6h0.8M166.5 195.2h0.8M172.1 189.1h0.8M156.7 187.9h0.8M164.9 175.5h0.8M171.3 187.3h0.8M163.0 202.5h0.8M163.6 182.7h0.8M175.5 190.0h0.8M175.5 186.8h0.8M185.9 184.6h0.8M157.9 181.5h0.8M171.9 188.4h0.8M189.6 188.7h0.8M169.3 184.9h0.8M166.3 191.5h0.8M163.2 194.8h0.8M165.3 184.0h0.8M173.5 179.3h0.8M174.2 188.1h0.8M184.2 192.7h0.8M164.8 182.3h0.8M166.1 198.4h0.8M169.5 187.9h0.8M180.6 198.3h0.8M169.9 188.6h0.8M175.2 188.7h0.8M171.3 181.9h0.8M168.8 183.5h0.8M164.8 184.6h0.8M172.5 184.4h0.8M169.7 192.6h0.8M179.1 183.2h0.8M158.1 200.6h0.8M171.4 197.3h0.8M172.6 197.4h0.8M176.6 187.9h0.8M168.4 186.8h0.8M165.5 189.1h0.8M172.7 190.8h0.8M177.5 182.5h0.8M175.6 188.4h0.8M181.8 197.3h0.8M169.7 176.6h0.8M172.6 187.7h0.8M164.8 189.6h0.8M171.0 191.3h0.8M162.6 188.7h0.8M171.3 186.7h0.8M180.9 185.2h0.8M169.6 191.8h0.8M160.4 190.8h0.8M167.0 175.3h0.8M184.5 197.4h0.8M173.6 182.5h0.8M158.2 188.5h0.8M185.2 180.6h0.8M172.3 196.1h0.8M179.2 187.2h0.8M189.5 182.0h0.8M176.9 193.6h0.8M161.4 184.4h0.8M169.2 202.3h0.8M172.1 187.1h0.8M168.0 201.2h0.8M189.3 184.2h0.8M166.5 190.6h0.8M174.4 189.9h0.8M166.8 177.8h0.8M174.1 182.9h0.8M194.4 190.3h0.8M175.2 190.4h0.8M167.8 188.7h0.8M163.9 187.4h0.8M176.9 188.4h0.8M166.6 192.7h0.8M173.7 188.0h0.8M177.0 184.8h0.8M173.4 186.1h0.8M177.6 193.2h0.8M166.3 185.3h0.8M166.4 197.3h0.8M166.7 187.2h0.8M171.2 183.0h0.8M177.6 186.9h0.8M181.7 183.7h0.8M175.9 200.0h0.8M180.5 188.5h0.8M180.6 182.2h0.8M177.2 190.3h0.8M177.4 191.3h0.8M179.1 185.3h0.8M168.9 182.4h0.8M177.2 178.8h0.8M172.2 183.6h0.8M174.7 200.0h0.8M168.7 193.5h0.8M184.4 182.8h0.8M171.7 189.3h0.8M166.2 185.3h0.8M171.2 188.8h0.8M168.7 193.8h0.8M177.6 187.9h0.8M175.5 179.2h0.8M160.9 180.2h0.8M174.7 195.9h0.8M169.1 181.8h0.8M165.4 188.6h0.8M162.5 182.7h0.8M178.4 194.8h0.8M173.9 187.9h0.8M170.4 190.8h0.8M174.6 186.3h0.8M170.1 189.9h0.8M169.1 191.0h0.8M166.6 189.6h0.8M180.2 183.1h0.8M181.0 190.5h0.8M175.2 194.9h0.8M176.5 183.6h0.8M178.1 194.3h0.8M170.2 186.5h0.8M170.9 185.4h0.8M166.6 191.5h0.8M181.7 181.8h0.8M171.9 186.3h0.8M178.9 193.9h0.8M176.3 194.3h0.8M180.5 192.0h0.8M177.2 193.9h0.8M168.9 182.1h0.8M180.0 193.4h0.8M186.3 188.6h0.8M164.0 189.6h0.8M184.7 185.9h0.8M172.1 185.2h0.8M161.1 193.6h0.8M169.8 196.2h0.8M169.9 178.9h0.8M165.7 182.6h0.8M167.5 186.5h0.8M170.1 196.3h0.8M155.1 181.6h0.8M173.9 191.9h0.8M173.9 187.9h0.8M177.3 187.3h0.8M170.7 189.8h0.8M161.4 187.3h0.8M166.7 188.9h0.8M171.4 194.3h0.8M177.3 189.8h0.8M166.7 190.4h0.8M155.9 191.4h0.8M179.7 189.4h0.8M178.3 181.1h0.8M169.0 183.1h0.8M177.6 191.3h0.8M185.5 183.5h0.8M165.9 189.7h0.8M168.1 184.2h0.8M177.9 188.3h0.8M168.4 193.3h0.8M172.1 180.7h0.8M171.3 187.8h0.8M167.5 192.9h0.8M175.2 191.7h0.8M180.0 187.1h0.8M171.3 188.5h0.8M170.2 195.3h0.8M166.4 180.9h0.8M177.7 187.5h0.8M162.2 191.2h0.8M179.4 184.3h0.8M164.1 191.8h0.8M179.0 192.7h0.8M171.0 192.6h0.8M186.7 193.0h0.8M179.0 194.7h0.8M177.6 188.9h0.8M176.6 193.7h0.8M176.3 192.2h0.8M170.8 187.9h0.8M162.2 192.4h0.8M176.6 183.5h0.8M177.4 184.8h0.8M177.8 198.6h0.8M174.9 184.9h0.8M170.2 189.5h0.8M170.3 191.6h0.8M158.8 194.5h0.8M172.4 188.1h0.8M183.6 193.9h0.8M159.4 180.4h0.8M180.3 186.7h0.8M166.2 191.7h0.8M172.2 190.1h0.8M166.7 185.4h0.8M171.7 189.4h0.8M181.1 180.4h0.8M166.7 183.8h0.8M173.9 184.3h0.8M173.5 193.6h0.8M174.0 194.2h0.8M172.8 178.8h0.8M172.7 189.4h0.8M167.9 186.9h0.8M182.9 191.0h0.8M164.5 181.0h0.8M178.1 191.3h0.8M163.6 186.3h0.8M173.5 193.0h0.8M179.4 200.3h0.8M167.7 178.6h0.8M172.2 193.1h0.8M164.2 182.0h0.8M174.8 188.3h0.8M183.2 186.2h0.8M193.7 193.9h0.8M180.1 181.8h0.8M176.8 197.6h0.8M171.0 197.1h0.8M179.4 194.7h0.8M176.5 193.6h0.8M159.2 186.4h0.8M169.5 188.3h0.8M169.7 181.5h0.8M176.3 189.8h0.8M172.9 192.8h0.8M170.1 192.6h0.8M179.1 183.9h0.8M179.5 187.0h0.8M175.8 186.1h0.8M183.5 191.1h0.8M163.0 185.9h0.8M178.4 188.7h0.8M159.2 176.2h0.8M173.0 186.5h0.8M179.5 191.3h0.8M174.9 195.3h0.8M175.8 191.8h0.8M169.3 189.8h0.8M186.5 183.1h0.8M163.0 184.9h0.8M181.8 188.9h0.8M167.1 190.7h0.8M172.5 187.9h0.8M162.4 177.7h0.8M176.5 185.4h0.8M178.6 198.7h0.8M179.6 182.2h0.8M175.1 185.1h0.8M175.5 192.8h0.8M170.5 190.8h0.8M174.2 190.6h0.8M179.8 188.2h0.8M182.1 195.3h0.8M166.1 186.8h0.8M172.9 178.1h0.8M165.9 194.1h0.8M177.8 188.7h0.8M174.8 193.1h0.8M163.7 195.1h0.8M168.6 185.8h0.8M164.8 189.1h0.8M166.3 187.1h0.8M165.9 193.5h0.8M183.3 184.7h0.8M162.2 180.6h0.8M179.1 181.6h0.8M165.8 187.0h0.8M184.6 189.0h0.8M170.7 191.3h0.8M159.4 181.4h0.8M180.5 194.1h0.8M177.3 190.3h0.8M170.6 186.6h0.8M186.9 183.8h0.8M183.0 188.4h0.8M160.6 190.0h0.8M166.6 189.6h0.8M175.8 200.1h0.8M168.3 177.5h0.8M176.3 191.5h0.8M171.0 184.1h0.8M176.9 191.8h0.8M169.7 192.1h0.8M173.5 187.7h0.8M163.5 184.0h0.8M178.3 194.8h0.8M182.1 188.2h0.8M171.8 183.6h0.8M166.8 185.8h0.8M180.7 194.6h0.8M175.8 191.1h0.8M165.5 186.6h0.8M178.5 188.7h0.8M177.6 181.6h0.8M185.0 187.2h0.8M168.0 188.2h0.8M188.8 186.0h0.8M180.5 179.8h0.8M161.8 179.1h0.8M183.9 179.0h0.8M175.3 183.9h0.8M178.1 182.8h0.8M167.5 189.6h0.8M159.1 176.6h0.8M188.9 189.4h0.8M176.9 188.3h0.8M175.9 188.2h0.8M176.2 181.8h0.8M185.4 185.5h0.8M158.4 194.9h0.8M181.3 185.5h0.8M179.1 191.2h0.8M163.1 193.6h0.8M178.2 190.7h0.8M182.0 178.7h0.8M172.2 196.1h0.8M183.3 181.2h0.8M178.2 185.1h0.8M176.2 184.4h0.8M201.0 235.5h0.8M197.6 224.1h0.8M188.0 207.9h0.8M203.0 224.0h0.8M189.3 203.9h0.8M173.1 213.4h0.8M195.9 212.9h0.8M187.1 195.0h0.8M177.8 196.4h0.8M192.3 209.5h0.8M185.9 201.7h0.8M186.8 192.7h0.8M206.0 216.8h0.8M191.6 215.7h0.8M176.3 219.6h0.8M188.0 208.5h0.8M197.8 204.4h0.8M193.6 230.0h0.8M180.6 211.9h0.8M170.9 206.4h0.8M189.4 194.1h0.8M204.8 237.0h0.8M164.5 205.9h0.8M181.3 205.1h0.8M190.8 211.7h0.8M183.8 211.4h0.8M181.6 209.9h0.8M178.3 215.5h0.8M209.1 217.9h0.8M182.6 221.8h0.8M163.4 199.2h0.8M172.9 198.8h0.8M173.7 201.7h0.8M199.8 205.5h0.8M183.3 219.6h0.8M191.7 218.6h0.8M184.3 203.1h0.8M180.5 203.0h0.8M170.6 179.4h0.8M179.5 208.7h0.8M179.0 217.3h0.8M198.7 214.2h0.8M181.6 211.7h0.8M179.5 204.1h0.8M175.7 198.3h0.8M192.0 206.7h0.8M191.1 210.6h0.8M186.3 212.2h0.8M160.2 195.1h0.8M188.8 224.5h0.8M191.5 236.6h0.8M200.4 215.6h0.8M170.9 200.4h0.8M183.0 208.7h0.8M189.9 196.9h0.8M191.3 207.9h0.8M177.9 192.8h0.8M187.9 204.2h0.8M159.7 199.8h0.8M183.1 190.8h0.8M192.6 208.2h0.8M189.7 197.4h0.8M179.1 209.8h0.8M192.9 204.0h0.8M155.0 199.4h0.8M182.6 221.3h0.8M173.5 208.7h0.8M168.2 205.0h0.8M181.0 208.9h0.8M184.3 206.0h0.8M203.0 226.5h0.8M185.2 198.8h0.8M175.7 215.5h0.8M185.6 200.9h0.8M177.4 219.2h0.8M186.5 199.7h0.8M202.5 218.3h0.8M169.2 189.6h0.8M188.7 201.9h0.8M180.0 224.7h0.8M207.6 234.7h0.8M190.6 213.0h0.8M172.2 191.6h0.8M186.5 210.4h0.8M196.3 220.8h0.8M190.8 216.8h0.8M188.4 222.9h0.8M172.8 224.2h0.8M192.3 197.4h0.8M188.7 227.3h0.8M178.5 211.5h0.8M184.7 223.3h0.8M188.2 203.3h0.8M190.7 215.4h0.8M186.8 203.5h0.8M169.3 202.3h0.8M166.9 193.1h0.8M186.3 219.8h0.8M195.7 194.5h0.8M196.6 191.6h0.8M187.9 210.5h0.8M195.6 214.0h0.8M197.6 206.8h0.8M184.1 217.0h0.8M179.4 200.9h0.8M186.3 193.2h0.8M182.8 197.3h0.8M202.3 227.5h0.8M193.6 233.8h0.8M187.9 205.8h0.8M189.5 213.2h0.8M182.3 211.1h0.8M171.7 193.7h0.8M188.7 197.3h0.8M198.3 217.6h0.8M178.6 217.4h0.8M188.3 226.4h0.8M183.2 202.4h0.8M190.6 200.0h0.8M197.3 216.8h0.8M187.7 196.8h0.8M181.8 203.7h0.8M162.5 202.7h0.8M184.7 201.2h0.8M180.5 207.0h0.8M197.7 217.4h0.8M182.2 203.5h0.8M179.5 215.9h0.8M189.3 204.5h0.8M200.7 222.1h0.8M175.7 210.2h0.8M187.6 213.1h0.8M193.6 208.0h0.8M179.5 195.1h0.8M188.8 208.9h0.8M165.5 201.6h0.8M189.8 211.8h0.8M182.1 214.7h0.8M178.9 191.0h0.8M202.6 200.1h0.8M188.7 227.6h0.8M180.0 218.9h0.8M183.0 205.0h0.8M165.3 208.0h0.8M178.2 213.7h0.8M175.5 206.3h0.8M187.3 222.8h0.8M195.0 200.4h0.8M196.3 211.4h0.8M177.7 201.1h0.8M196.5 196.4h0.8M179.9 195.5h0.8M185.6 205.7h0.8M172.0 201.1h0.8M183.0 203.9h0.8M186.4 220.4h0.8M185.0 208.7h0.8M192.3 208.4h0.8M182.5 201.1h0.8M177.5 197.9h0.8M186.9 184.8h0.8M179.4 207.6h0.8M196.4 226.6h0.8M167.2 194.5h0.8M183.3 189.5h0.8M176.5 205.9h0.8M181.6 187.8h0.8M192.8 201.3h0.8M184.8 190.6h0.8M183.6 215.8h0.8M195.2 220.1h0.8M190.3 200.6h0.8M168.6 215.7h0.8M170.2 193.0h0.8M192.8 211.4h0.8M199.4 208.5h0.8M196.7 240.9h0.8M177.8 204.6h0.8M178.4 203.7h0.8M179.5 213.2h0.8M195.2 214.0h0.8M194.2 201.4h0.8M189.9 203.9h0.8M197.2 216.1h0.8M163.2 199.9h0.8M170.2 199.5h0.8M196.5 232.6h0.8M190.2 214.9h0.8M191.1 208.0h0.8M163.7 208.8h0.8M187.7 209.2h0.8M188.7 214.2h0.8M186.6 218.9h0.8M184.7 219.5h0.8M181.5 203.1h0.8M173.1 195.6h0.8M156.9 185.4h0.8M182.2 216.2h0.8M175.2 201.1h0.8M183.0 206.8h0.8M163.0 194.7h0.8M209.0 226.3h0.8M177.6 207.3h0.8M196.1 210.0h0.8M191.9 212.1h0.8M175.9 205.5h0.8M171.9 202.6h0.8M188.8 204.0h0.8M190.4 212.4h0.8M185.6 203.7h0.8M176.0 206.3h0.8M186.7 218.5h0.8M164.8 203.6h0.8M181.7 202.4h0.8M171.1 225.4h0.8M192.9 211.4h0.8M190.6 194.2h0.8M183.7 209.8h0.8M184.8 194.4h0.8M181.2 223.4h0.8M196.1 216.2h0.8M192.0 236.9h0.8M191.2 204.8h0.8M166.4 202.6h0.8M185.0 189.0h0.8M179.9 205.3h0.8M180.9 184.1h0.8M171.2 190.4h0.8M198.5 210.6h0.8M172.2 209.4h0.8M164.6 195.5h0.8M190.3 199.7h0.8M173.1 186.0h0.8M174.8 211.3h0.8M188.2 218.3h0.8M177.4 229.7h0.8M164.9 189.9h0.8M158.7 202.1h0.8M186.8 229.2h0.8M178.5 200.5h0.8M184.2 199.3h0.8M189.9 198.4h0.8M187.4 209.6h0.8M164.5 205.8h0.8M196.8 212.3h0.8M192.8 216.3h0.8M181.1 212.5h0.8M204.9 203.7h0.8M188.5 204.4h0.8M183.8 203.0h0.8M179.8 206.5h0.8M177.8 207.9h0.8M160.5 206.9h0.8M177.3 197.8h0.8M196.7 219.4h0.8M191.6 216.0h0.8M187.1 198.4h0.8M191.2 213.9h0.8M191.5 208.0h0.8M182.1 199.1h0.8M200.2 205.7h0.8M190.6 204.9h0.8M171.4 200.0h0.8M168.2 198.2h0.8M183.9 198.3h0.8M180.2 206.9h0.8M184.1 195.4h0.8M185.8 200.4h0.8M174.1 200.9h0.8M179.7 213.4h0.8M186.2 203.0h0.8M208.3 228.2h0.8M160.4 183.6h0.8M172.4 214.4h0.8M171.3 201.8h0.8M181.0 217.7h0.8M179.8 210.1h0.8M182.5 220.0h0.8M190.4 217.1h0.8M181.3 205.1h0.8M196.4 231.0h0.8M183.6 212.3h0.8M173.6 219.1h0.8M172.3 207.8h0.8M190.1 202.1h0.8M171.8 201.9h0.8M196.2 198.0h0.8M180.2 179.1h0.8M182.7 195.1h0.8M178.5 205.2h0.8M176.5 212.2h0.8M197.7 224.5h0.8M183.5 202.4h0.8M193.2 221.1h0.8M178.8 205.1h0.8M182.0 214.4h0.8M178.8 182.2h0.8M191.5 219.5h0.8M187.1 217.1h0.8M184.2 194.8h0.8M188.9 204.5h0.8M170.5 213.5h0.8M184.1 178.6h0.8M191.2 210.5h0.8M179.0 201.2h0.8M190.4 216.3h0.8M192.6 222.2h0.8M177.5 221.5h0.8M215.7 220.5h0.8M190.4 215.3h0.8M199.6 200.4h0.8M197.7 207.3h0.8M185.7 212.7h0.8M192.5 209.1h0.8M190.5 221.9h0.8M188.2 222.4h0.8M182.5 187.3h0.8M183.6 207.0h0.8M184.4 191.7h0.8M169.3 197.5h0.8M184.8 205.2h0.8M198.4 217.8h0.8M187.7 206.2h0.8M167.2 204.9h0.8M181.3 210.0h0.8M206.0 215.4h0.8M208.0 210.4h0.8M178.0 195.1h0.8M186.4 187.3h0.8M187.5 213.1h0.8M193.4 214.3h0.8M193.5 217.9h0.8M185.5 211.0h0.8M179.1 203.7h0.8M201.6 202.1h0.8M197.7 220.5h0.8M167.2 185.0h0.8M178.3 209.1h0.8M180.2 213.3h0.8M182.5 193.2h0.8M190.4 217.6h0.8M181.8 204.1h0.8M169.0 210.1h0.8M203.8 215.5h0.8M168.8 188.1h0.8M183.9 194.2h0.8M178.2 193.2h0.8M186.1 196.1h0.8M195.4 227.0h0.8M201.8 198.2h0.8M199.0 217.0h0.8M191.9 215.6h0.8M193.1 215.5h0.8M187.5 208.3h0.8M177.8 216.4h0.8M183.8 204.0h0.8M195.0 216.5h0.8M183.6 207.3h0.8M163.3 188.5h0.8M180.5 209.0h0.8M189.2 196.9h0.8M179.1 207.7h0.8M194.5 203.6h0.8M174.8 190.9h0.8M183.8 210.2h0.8M195.9 209.2h0.8M195.3 212.2h0.8M187.3 196.1h0.8M204.3 212.8h0.8M198.5 219.4h0.8M181.2 200.3h0.8M193.2 204.8h0.8M175.6 196.2h0.8M175.4 197.3h0.8M201.2 214.3h0.8M197.4 216.5h0.8M183.1 203.4h0.8M172.6 206.2h0.8M185.0 207.9h0.8M183.3 212.4h0.8M178.4 192.5h0.8M177.5 187.1h0.8M187.1 224.2h0.8M179.3 215.2h0.8M207.2 213.3h0.8M190.6 216.9h0.8M202.9 218.2h0.8M176.8 199.1h0.8M173.9 201.8h0.8M192.2 216.4h0.8M178.9 211.2h0.8M165.4 199.9h0.8M199.6 212.0h0.8M180.0 218.5h0.8M200.1 214.0h0.8M161.5 206.6h0.8M206.1 206.9h0.8M211.4 208.9h0.8M197.5 222.5h0.8M194.4 203.9h0.8M194.5 197.4h0.8M185.2 207.9h0.8M186.0 197.1h0.8M176.7 187.2h0.8M205.6 218.1h0.8M177.6 208.3h0.8M185.1 224.3h0.8M178.7 217.6h0.8M168.8 201.1h0.8M190.8 208.0h0.8M196.5 214.1h0.8M178.6 200.9h0.8M200.4 213.7h0.8M181.5 190.9h0.8M168.8 192.7h0.8M192.2 222.4h0.8M177.5 226.2h0.8M187.5 210.6h0.8M187.9 201.0h0.8M196.7 214.1h0.8M192.9 194.8h0.8M169.8 210.8h0.8M201.8 212.1h0.8M182.4 206.7h0.8M179.8 195.0h0.8M172.8 217.2h0.8M178.9 213.8h0.8M167.9 207.9h0.8M199.7 210.6h0.8M197.3 216.0h0.8M213.3 216.6h0.8M183.0 197.2h0.8M184.3 215.7h0.8M177.0 219.2h0.8M179.3 208.8h0.8M201.1 208.6h0.8M187.5 206.9h0.8M176.9 211.3h0.8M161.0 189.3h0.8M184.2 211.1h0.8M175.8 191.8h0.8M203.8 221.3h0.8M192.3 212.5h0.8M198.6 216.7h0.8M170.6 203.3h0.8M197.0 196.3h0.8M178.7 206.8h0.8M185.6 202.4h0.8M187.8 213.1h0.8M206.6 208.1h0.8M185.0 197.5h0.8M198.1 217.0h0.8M192.1 215.7h0.8M205.9 212.6h0.8M188.4 215.1h0.8M173.0 188.1h0.8M194.8 213.1h0.8M194.5 211.5h0.8M182.9 205.3h0.8M187.8 205.8h0.8M180.8 219.6h0.8M197.4 212.7h0.8M203.9 210.3h0.8M196.0 223.4h0.8M182.7 224.5h0.8M172.9 203.7h0.8M179.4 221.0h0.8M189.6 202.7h0.8M184.0 200.9h0.8M197.9 205.4h0.8M176.8 209.4h0.8M180.1 209.1h0.8M187.0 204.1h0.8M168.6 181.1h0.8M186.7 205.7h0.8M191.3 212.3h0.8M184.4 204.5h0.8M194.9 180.4h0.8M165.9 205.6h0.8M183.5 199.4h0.8M179.2 213.9h0.8M189.8 211.1h0.8M165.4 210.6h0.8M177.1 210.9h0.8M190.6 193.2h0.8M169.5 187.0h0.8M173.6 210.2h0.8M198.0 215.1h0.8M182.7 199.8h0.8M201.9 213.9h0.8M175.4 204.6h0.8M191.3 205.9h0.8M179.7 190.7h0.8M190.7 202.6h0.8M191.9 211.6h0.8M187.1 202.1h0.8M189.9 198.1h0.8M186.6 223.7h0.8M210.1 206.3h0.8M190.5 210.4h0.8M181.0 214.4h0.8M170.2 208.4h0.8M174.9 217.8h0.8M188.4 234.0h0.8M199.0 215.2h0.8M170.2 178.3h0.8M187.4 205.8h0.8M196.1 203.4h0.8M186.0 201.5h0.8M189.4 213.2h0.8M168.6 202.1h0.8M197.3 216.4h0.8M199.3 205.1h0.8M165.5 193.0h0.8M171.6 219.7h0.8M186.5 217.5h0.8M202.5 216.8h0.8M161.3 176.5h0.8M193.1 219.3h0.8M172.5 208.1h0.8M191.4 211.5h0.8M170.2 214.4h0.8M173.5 208.8h0.8M168.5 193.0h0.8M194.3 201.0h0.8M167.0 200.1h0.8M182.7 195.5h0.8M188.8 215.0h0.8M187.3 225.5h0.8M178.2 218.4h0.8M183.3 193.3h0.8M169.7 186.2h0.8M162.1 202.6h0.8M165.1 196.7h0.8M185.4 205.1h0.8M194.2 198.7h0.8M173.7 213.9h0.8M195.9 210.4h0.8M172.5 195.1h0.8M192.4 227.7h0.8M176.6 202.3h0.8M173.1 213.5h0.8M184.9 211.5h0.8M176.5 216.3h0.8M190.0 218.9h0.8M180.9 199.4h0.8M188.3 211.3h0.8M198.0 224.0h0.8M169.8 183.0h0.8M198.0 207.9h0.8M179.2 212.2h0.8M185.8 208.1h0.8M189.4 205.8h0.8M182.9 202.2h0.8M187.8 202.9h0.8M201.1 217.8h0.8M183.6 216.9h0.8M188.3 217.2h0.8M191.2 196.9h0.8M198.0 222.4h0.8M180.6 231.5h0.8M170.3 213.0h0.8M181.6 206.0h0.8M195.0 222.0h0.8M194.3 197.6h0.8M197.3 205.9h0.8M183.2 209.2h0.8M169.4 213.7h0.8M182.8 196.1h0.8M177.8 192.6h0.8M171.7 206.9h0.8M190.7 223.1h0.8M211.3 226.2h0.8M157.6 205.3h0.8M188.4 216.1h0.8M195.4 213.9h0.8M196.1 219.6h0.8M209.8 210.8h0.8M174.1 202.3h0.8M214.1 198.4h0.8M182.8 196.0h0.8M184.1 211.9h0.8M174.4 216.8h0.8M208.4 212.1h0.8M195.3 202.7h0.8M173.1 211.6h0.8M193.9 200.3h0.8M192.4 225.3h0.8M178.7 190.1h0.8M188.7 220.2h0.8M185.1 214.3h0.8M179.1 208.7h0.8M182.2 209.1h0.8M193.4 210.7h0.8M183.7 192.1h0.8M163.5 194.5h0.8M184.7 203.9h0.8M185.2 204.8h0.8M179.8 199.8h0.8M183.7 214.6h0.8M181.6 190.1h0.8M175.0 195.3h0.8M186.1 218.2h0.8M176.8 227.1h0.8M176.6 210.1h0.8M202.2 209.2h0.8M182.9 206.5h0.8M187.2 200.4h0.8M186.2 202.8h0.8M176.5 219.7h0.8M167.7 211.2h0.8M182.5 206.2h0.8M177.3 206.4h0.8M191.6 199.4h0.8M191.2 188.7h0.8M174.9 190.5h0.8M181.3 212.6h0.8M176.0 207.1h0.8M182.5 219.6h0.8M163.5 182.0h0.8M181.1 186.1h0.8M185.7 209.4h0.8M173.6 194.9h0.8M187.0 212.1h0.8M181.4 211.9h0.8M176.5 206.6h0.8M196.8 221.8h0.8M173.0 194.7h0.8M174.9 205.7h0.8M189.3 196.5h0.8M170.4 203.8h0.8M157.2 206.5h0.8M183.6 198.2h0.8M195.3 210.7h0.8M176.5 226.6h0.8M184.0 207.8h0.8M188.1 207.4h0.8M190.6 204.6h0.8M194.3 212.7h0.8M185.9 218.0h0.8M171.2 202.5h0.8M192.0 219.9h0.8M181.9 200.2h0.8M194.5 193.0h0.8M196.9 194.0h0.8M172.8 212.6h0.8M183.9 198.1h0.8M198.5 215.7h0.8M178.0 211.0h0.8M188.8 206.8h0.8M193.2 215.6h0.8M168.8 204.1h0.8M188.1 213.7h0.8M174.5 213.8h0.8M167.6 196.5h0.8M181.1 206.9h0.8M182.5 208.8h0.8M190.6 229.6h0.8M180.4 212.8h0.8M182.1 206.3h0.8M175.9 199.8h0.8M199.8 212.5h0.8M188.2 196.8h0.8M190.9 215.1h0.8M189.2 220.4h0.8M185.3 202.1h0.8M190.4 214.3h0.8M204.9 211.3h0.8M186.6 222.3h0.8M184.0 230.7h0.8M210.3 218.5h0.8M193.4 221.0h0.8M178.4 197.6h0.8M199.2 223.2h0.8M181.0 200.6h0.8M171.8 188.9h0.8M195.3 215.8h0.8M183.7 193.5h0.8M175.5 206.3h0.8M170.9 203.6h0.8M178.4 180.2h0.8M190.8 202.5h0.8M160.8 196.2h0.8M167.8 210.0h0.8M179.8 204.3h0.8M196.3 194.1h0.8M186.0 217.6h0.8M190.6 199.5h0.8M189.0 226.4h0.8M174.2 198.1h0.8M192.0 210.2h0.8M182.4 224.2h0.8M177.0 213.9h0.8M170.4 173.4h0.8M184.1 215.0h0.8M179.6 222.7h0.8M185.3 214.1h0.8M188.2 198.5h0.8M199.0 227.4h0.8M200.6 226.0h0.8M200.0 222.6h0.8M199.6 216.6h0.8M176.9 210.2h0.8M196.1 204.6h0.8M184.7 219.5h0.8M180.9 232.9h0.8M192.3 224.1h0.8M195.6 223.7h0.8M187.8 202.2h0.8M170.3 187.6h0.8M175.8 185.7h0.8M181.6 196.8h0.8M177.5 197.0h0.8M193.8 204.6h0.8M175.9 221.1h0.8M181.3 221.2h0.8M180.2 204.4h0.8M187.8 194.9h0.8M202.5 231.9h0.8M180.0 217.5h0.8M188.0 204.4h0.8M203.8 204.5h0.8M184.5 217.8h0.8M182.4 211.8h0.8M170.2 200.6h0.8M186.3 195.6h0.8M175.4 198.0h0.8M181.9 208.9h0.8M181.2 189.9h0.8M185.5 221.4h0.8M185.1 204.1h0.8M184.8 214.1h0.8M169.2 218.4h0.8M181.6 226.1h0.8M177.2 195.1h0.8M187.3 218.9h0.8M190.7 212.2h0.8M188.6 211.6h0.8M197.7 212.2h0.8M193.0 205.4h0.8M183.3 199.9h0.8M182.0 201.9h0.8M168.0 212.0h0.8M189.6 215.5h0.8M211.5 197.1h0.8M190.0 211.4h0.8M198.0 207.0h0.8M179.7 195.3h0.8M193.2 230.3h0.8M176.6 206.7h0.8M188.2 202.8h0.8M162.8 209.2h0.8M166.0 212.3h0.8M170.1 212.5h0.8M200.0 208.5h0.8M171.8 201.7h0.8M184.8 196.0h0.8M181.6 215.8h0.8M191.9 222.4h0.8M167.9 192.9h0.8M183.6 205.9h0.8M194.7 198.6h0.8M202.8 225.5h0.8M193.3 207.7h0.8M167.0 187.1h0.8M195.4 209.9h0.8M205.5 218.3h0.8M169.2 214.0h0.8M182.1 207.7h0.8M192.6 196.1h0.8M171.4 217.3h0.8M168.5 189.8h0.8M169.7 189.3h0.8M179.5 200.3h0.8M172.1 196.9h0.8M188.2 186.9h0.8M179.4 203.3h0.8M164.0 211.7h0.8M186.2 206.1h0.8M190.5 212.6h0.8M181.1 203.1h0.8M170.5 206.1h0.8M186.3 197.2h0.8M191.3 224.8h0.8M169.7 220.1h0.8M198.3 222.8h0.8M182.8 224.3h0.8M181.5 212.7h0.8M178.4 192.3h0.8M191.9 224.2h0.8M169.7 201.7h0.8M177.0 195.0h0.8M180.2 216.2h0.8M201.3 218.5h0.8M186.0 215.4h0.8M174.4 206.0h0.8M178.9 208.2h0.8M165.3 205.6h0.8M181.8 208.8h0.8M187.6 222.9h0.8M181.4 190.7h0.8M196.9 220.9h0.8M178.7 216.4h0.8M197.1 200.3h0.8M174.4 191.5h0.8M203.2 196.1h0.8M173.4 207.4h0.8M198.0 224.0h0.8M189.3 216.1h0.8M197.5 217.1h0.8M182.4 209.5h0.8M191.7 216.9h0.8M187.4 200.3h0.8M186.0 214.9h0.8M172.5 196.0h0.8M190.0 216.5h0.8M182.4 204.7h0.8M185.9 203.9h0.8M179.5 187.8h0.8M182.3 223.7h0.8M177.1 199.2h0.8M190.4 217.6h0.8M210.7 212.7h0.8M190.7 199.5h0.8M175.4 197.5h0.8M184.1 212.6h0.8M188.0 200.6h0.8M185.1 196.4h0.8M178.2 193.7h0.8M182.0 210.3h0.8M209.4 209.6h0.8M191.3 212.9h0.8M181.5 200.1h0.8M172.1 204.7h0.8M177.3 204.6h0.8M195.2 195.8h0.8M201.4 206.8h0.8M191.8 214.3h0.8M183.0 211.9h0.8M200.0 213.9h0.8M197.2 231.9h0.8M186.3 200.1h0.8M180.5 210.1h0.8M196.0 192.9h0.8M183.0 201.2h0.8M204.4 205.5h0.8M191.7 211.2h0.8M195.1 229.1h0.8M181.9 193.7h0.8M200.5 206.6h0.8M186.7 215.6h0.8M167.8 195.8h0.8M187.6 202.6h0.8M205.7 202.2h0.8M194.4 205.4h0.8M185.8 200.9h0.8M190.5 221.2h0.8M191.0 209.1h0.8M159.1 200.8h0.8M162.1 209.6h0.8M172.5 184.6h0.8M166.6 201.2h0.8M175.1 204.9h0.8M170.2 209.8h0.8M201.9 214.6h0.8M173.0 189.9h0.8M175.3 214.9h0.8M177.1 188.8h0.8M214.4 234.4h0.8M201.5 206.8h0.8M193.5 201.4h0.8M178.9 211.6h0.8M171.4 202.4h0.8M169.4 210.8h0.8M179.8 207.1h0.8M186.9 199.5h0.8M177.3 196.4h0.8M155.7 198.5h0.8M194.5 222.0h0.8M183.6 215.3h0.8M173.8 200.8h0.8M161.9 192.6h0.8M189.6 193.5h0.8M183.3 230.9h0.8M194.5 212.1h0.8M199.4 220.6h0.8M178.8 235.4h0.8M196.2 221.9h0.8M197.4 203.8h0.8M183.2 215.3h0.8M181.2 207.0h0.8M179.3 200.7h0.8M198.7 208.6h0.8M201.2 220.4h0.8M167.6 193.3h0.8M176.9 219.0h0.8M182.0 215.6h0.8M199.5 216.3h0.8M176.2 206.2h0.8M194.6 210.7h0.8M193.8 204.3h0.8M169.4 197.3h0.8M187.8 193.4h0.8M187.6 202.8h0.8M167.5 204.4h0.8M201.2 199.1h0.8M212.9 218.9h0.8M175.0 207.2h0.8M163.4 201.6h0.8M185.3 182.7h0.8M160.7 186.4h0.8M178.8 207.6h0.8M180.0 195.3h0.8M190.2 213.0h0.8M183.3 201.1h0.8M169.9 199.2h0.8M201.0 217.9h0.8M196.3 196.0h0.8M186.5 194.7h0.8M189.8 212.3h0.8M188.1 220.9h0.8M179.5 217.3h0.8M185.5 200.8h0.8M180.7 213.3h0.8M177.5 211.7h0.8M186.9 201.4h0.8M154.6 196.1h0.8M194.6 205.4h0.8M193.2 201.0h0.8M197.7 228.9h0.8M187.4 213.5h0.8M169.1 216.9h0.8M176.6 211.1h0.8M208.6 220.4h0.8M188.3 214.0h0.8M177.9 199.2h0.8M198.8 205.4h0.8M181.0 192.5h0.8M187.1 198.2h0.8M182.6 204.2h0.8M184.1 200.3h0.8M181.5 218.1h0.8M195.7 217.9h0.8M191.0 193.4h0.8M182.4 209.9h0.8M188.0 214.8h0.8M170.1 206.8h0.8M178.6 208.5h0.8M204.1 220.5h0.8M184.4 198.9h0.8M195.9 191.9h0.8M175.8 179.6h0.8M182.6 198.7h0.8M178.5 194.9h0.8M207.3 224.0h0.8M193.1 203.7h0.8M193.6 210.6h0.8M180.7 190.5h0.8M185.6 181.5h0.8M175.7 181.0h0.8M188.9 214.6h0.8M194.4 196.8h0.8M196.5 231.8h0.8M178.3 195.8h0.8M177.3 198.6h0.8M194.4 204.8h0.8M188.9 208.6h0.8M173.4 203.5h0.8M184.6 208.7h0.8M187.7 205.2h0.8M189.1 191.2h0.8M178.3 217.9h0.8M187.9 205.4h0.8M175.3 197.5h0.8M182.5 187.7h0.8M179.9 203.2h0.8M159.5 180.1h0.8M182.6 202.9h0.8M205.1 235.1h0.8M197.7 215.3h0.8M200.6 225.6h0.8M182.8 218.0h0.8M183.5 194.1h0.8M185.9 220.9h0.8M194.0 206.8h0.8M201.0 227.0h0.8M200.1 193.8h0.8M174.9 197.6h0.8M176.4 183.0h0.8M177.8 216.4h0.8M172.7 225.0h0.8M172.9 207.0h0.8M182.0 194.0h0.8M187.2 209.9h0.8M183.4 219.1h0.8M193.4 194.8h0.8M199.6 203.6h0.8M162.7 207.8h0.8M197.6 203.0h0.8M185.0 200.4h0.8M191.7 205.0h0.8M187.4 195.7h0.8M190.9 210.2h0.8M214.0 231.7h0.8M178.1 192.2h0.8M192.8 201.6h0.8M193.2 221.3h0.8M201.8 229.1h0.8M198.5 212.4h0.8M184.1 209.3h0.8M203.2 210.5h0.8M184.7 216.2h0.8M170.7 198.6h0.8M185.0 203.5h0.8M178.4 209.3h0.8M173.7 209.1h0.8M180.9 189.9h0.8M189.5 207.1h0.8M177.6 204.0h0.8M188.6 206.0h0.8M172.7 216.4h0.8M183.7 211.5h0.8M177.1 206.1h0.8M196.1 202.2h0.8M181.9 202.7h0.8M171.1 219.6h0.8M170.7 207.2h0.8M175.9 202.3h0.8M178.6 198.2h0.8M183.3 183.0h0.8M173.6 204.8h0.8M202.5 213.5h0.8M173.5 211.8h0.8M188.9 196.8h0.8M175.3 190.9h0.8M196.2 199.3h0.8M169.8 202.8h0.8M194.3 203.7h0.8M191.6 195.3h0.8M191.8 210.6h0.8M183.6 184.0h0.8M194.3 210.0h0.8M185.3 195.5h0.8M199.2 207.2h0.8M187.8 205.9h0.8M179.9 211.3h0.8M189.0 221.0h0.8M177.4 212.0h0.8M172.5 203.1h0.8M164.4 199.3h0.8M181.5 198.5h0.8M175.7 201.5h0.8M196.6 210.0h0.8M184.4 210.9h0.8M199.5 223.4h0.8M190.0 191.8h0.8M191.2 203.2h0.8M189.4 201.1h0.8M190.6 205.3h0.8M179.1 207.4h0.8M167.9 212.7h0.8M183.9 205.5h0.8M173.7 210.0h0.8M172.0 213.5h0.8M174.5 204.1h0.8M175.7 204.3h0.8M193.2 204.0h0.8M170.7 199.7h0.8M174.9 205.7h0.8M170.1 196.2h0.8M192.5 211.4h0.8M172.2 199.3h0.8M186.2 215.1h0.8M173.1 204.2h0.8M173.4 186.9h0.8M195.6 217.2h0.8M191.7 218.7h0.8M181.2 219.1h0.8M194.0 203.3h0.8M179.3 188.9h0.8M161.3 205.3h0.8M190.7 201.0h0.8M191.2 209.2h0.8M167.5 206.7h0.8M189.9 214.7h0.8M175.7 189.5h0.8M188.6 220.0h0.8M222.7 200.5h0.8M179.3 215.1h0.8M191.1 220.5h0.8M169.6 189.4h0.8M192.3 189.2h0.8M178.5 188.8h0.8M185.9 205.2h0.8M201.7 210.8h0.8M200.0 216.2h0.8M180.5 191.0h0.8M191.1 203.6h0.8M205.0 213.9h0.8M190.7 216.6h0.8M155.5 190.3h0.8M186.6 213.1h0.8M183.8 222.4h0.8M196.0 221.1h0.8M199.7 198.8h0.8M195.9 210.1h0.8M168.5 209.7h0.8M201.3 224.0h0.8M192.1 206.7h0.8M207.6 222.6h0.8M180.8 195.8h0.8M184.5 190.9h0.8M196.0 222.4h0.8M181.6 191.5h0.8M177.2 223.0h0.8M203.6 221.5h0.8M203.7 225.0h0.8M179.9 199.2h0.8M193.2 223.0h0.8M160.7 199.5h0.8M173.6 185.2h0.8M177.6 206.0h0.8M188.4 211.0h0.8M192.4 206.9h0.8M172.4 224.6h0.8M210.0 205.1h0.8M173.6 191.1h0.8M186.0 208.2h0.8M175.6 206.2h0.8M188.0 214.1h0.8M184.6 203.3h0.8M185.8 187.9h0.8M181.8 188.4h0.8M187.8 213.6h0.8M184.6 205.2h0.8M207.2 230.5h0.8M199.0 214.3h0.8M195.9 210.5h0.8M195.1 193.5h0.8M191.8 194.1h0.8M185.3 210.9h0.8M201.5 212.8h0.8M178.0 211.6h0.8M194.2 215.2h0.8M181.3 212.6h0.8M172.7 204.2h0.8M178.1 214.1h0.8M175.5 218.4h0.8M204.0 215.6h0.8M170.6 207.7h0.8M180.9 207.8h0.8M191.3 215.8h0.8M188.9 192.2h0.8M185.6 200.2h0.8M189.4 182.0h0.8M173.9 197.5h0.8M165.8 203.5h0.8M192.5 218.1h0.8M182.1 200.7h0.8M198.3 205.9h0.8M204.2 223.0h0.8M180.6 220.9h0.8M199.4 193.7h0.8M186.4 205.6h0.8M182.8 225.7h0.8M199.9 236.5h0.8M197.4 213.1h0.8M176.9 211.0h0.8M193.6 209.9h0.8M180.9 215.5h0.8M187.2 229.7h0.8M180.0 213.5h0.8M189.8 235.0h0.8M183.6 202.6h0.8M189.0 207.8h0.8M202.2 224.5h0.8M191.2 211.1h0.8M158.9 187.1h0.8M180.1 196.3h0.8M194.5 229.7h0.8M178.9 195.6h0.8M187.2 227.0h0.8M183.3 199.5h0.8M190.6 196.9h0.8M172.9 207.0h0.8M171.9 202.6h0.8M182.8 195.6h0.8M191.8 231.7h0.8M192.0 203.5h0.8M180.3 212.9h0.8M181.8 201.8h0.8M176.9 206.1h0.8M187.6 206.8h0.8M192.2 219.2h0.8M202.0 217.8h0.8M190.1 215.2h0.8M181.4 215.8h0.8M164.6 207.1h0.8M179.3 208.7h0.8M201.2 226.6h0.8M207.2 188.3h0.8M195.9 210.3h0.8M200.3 207.5h0.8M191.6 204.0h0.8M181.0 192.7h0.8M186.6 203.4h0.8M179.9 224.8h0.8M175.8 216.6h0.8M182.5 205.0h0.8M187.8 205.2h0.8M216.0 210.5h0.8M181.7 208.2h0.8M198.4 220.5h0.8M192.0 207.8h0.8M187.4 222.1h0.8M202.1 205.5h0.8M159.5 210.3h0.8M188.0 213.8h0.8M174.1 208.8h0.8M191.6 226.1h0.8M213.4 221.8h0.8M188.8 210.8h0.8M188.6 186.7h0.8M181.1 203.1h0.8M205.9 225.1h0.8M178.2 200.8h0.8M177.5 192.6h0.8M192.3 220.6h0.8M181.3 186.8h0.8M185.5 217.5h0.8M182.2 194.9h0.8M182.8 230.8h0.8M189.0 216.6h0.8M176.7 207.5h0.8M173.8 209.4h0.8M165.6 184.9h0.8M208.0 212.7h0.8M195.7 206.7h0.8M196.0 201.2h0.8M172.1 215.8h0.8M192.5 188.6h0.8M175.2 205.3h0.8M204.2 217.1h0.8M186.0 195.3h0.8M200.7 223.6h0.8M163.3 203.6h0.8M175.1 206.9h0.8M167.4 206.5h0.8M170.2 199.2h0.8M174.9 193.8h0.8M198.4 213.4h0.8M199.7 211.9h0.8M189.0 223.7h0.8M183.0 202.4h0.8M174.1 198.2h0.8M195.0 215.3h0.8M183.9 210.6h0.8M194.1 219.2h0.8M173.8 194.5h0.8M204.8 215.1h0.8M193.1 205.3h0.8M170.5 194.3h0.8M196.7 207.4h0.8M196.9 217.3h0.8M170.2 193.8h0.8M187.2 224.5h0.8M193.5 188.2h0.8M191.0 207.4h0.8M187.2 217.4h0.8M173.0 214.2h0.8M182.5 196.6h0.8M191.2 200.5h0.8M174.3 196.2h0.8M190.9 220.5h0.8M179.1 225.7h0.8M183.1 212.6h0.8M188.4 208.8h0.8M171.3 204.0h0.8M177.7 196.9h0.8M172.3 205.7h0.8M179.3 206.3h0.8M177.7 191.5h0.8M172.3 215.8h0.8M191.4 213.0h0.8M191.6 198.1h0.8M194.4 194.6h0.8M177.6 198.2h0.8M178.0 186.5h0.8M196.3 193.8h0.8M193.9 214.4h0.8M187.0 205.5h0.8M178.2 196.6h0.8M200.1 208.2h0.8M174.8 212.7h0.8M207.8 202.8h0.8M182.8 204.9h0.8M171.7 190.1h0.8M189.8 207.5h0.8M192.1 194.8h0.8M169.9 192.8h0.8M181.9 208.3h0.8M179.1 184.3h0.8M174.2 219.1h0.8M175.0 206.6h0.8M177.9 207.8h0.8M192.9 191.4h0.8M180.6 219.3h0.8M174.1 195.2h0.8M185.1 212.0h0.8M166.7 210.4h0.8M183.5 207.3h0.8M187.0 206.1h0.8M195.8 209.9h0.8M188.5 207.7h0.8M187.7 209.7h0.8M170.4 210.0h0.8M171.3 208.8h0.8M187.8 197.9h0.8M184.8 203.9h0.8M186.7 199.4h0.8M196.2 213.2h0.8M196.4 206.0h0.8M176.7 208.3h0.8M168.9 195.4h0.8M200.8 207.4h0.8M185.6 193.6h0.8M195.5 199.6h0.8M170.8 204.6h0.8M172.7 183.4h0.8M172.1 205.3h0.8M179.2 209.8h0.8M192.7 215.7h0.8M200.4 214.2h0.8M199.0 209.5h0.8M199.5 221.8h0.8M196.5 242.9h0.8M188.5 215.5h0.8M195.6 221.7h0.8M192.6 217.9h0.8M184.8 202.0h0.8M169.9 203.4h0.8M177.7 190.7h0.8M202.4 225.3h0.8M187.3 196.6h0.8M184.4 208.6h0.8M179.6 220.7h0.8M196.2 200.7h0.8M189.6 192.9h0.8M190.4 217.1h0.8M200.9 188.7h0.8M202.8 205.2h0.8M193.4 201.2h0.8M185.9 213.7h0.8M182.4 212.7h0.8M179.8 199.2h0.8M176.0 189.5h0.8M184.9 202.1h0.8M202.6 209.5h0.8M198.8 186.1h0.8M190.2 213.0h0.8M197.9 230.9h0.8M190.1 226.7h0.8M181.2 201.5h0.8M197.3 215.6h0.8M198.0 204.1h0.8M181.6 209.7h0.8M184.9 217.4h0.8M218.4 218.6h0.8M201.7 211.9h0.8M168.4 187.0h0.8M174.2 183.1h0.8M183.0 214.1h0.8M159.3 194.6h0.8M170.5 215.6h0.8M199.8 216.8h0.8M185.8 203.9h0.8M183.7 223.8h0.8M192.4 213.4h0.8M206.2 217.9h0.8M188.9 204.9h0.8M166.5 202.2h0.8M180.3 215.1h0.8M168.9 188.5h0.8M184.9 199.9h0.8M178.3 205.3h0.8M173.0 201.7h0.8M206.0 216.0h0.8M180.5 207.9h0.8M176.0 208.7h0.8M195.1 205.6h0.8M178.8 210.2h0.8M164.7 213.7h0.8M175.7 184.8h0.8M185.2 196.4h0.8M168.3 191.0h0.8M184.1 211.5h0.8M162.7 198.8h0.8M173.1 200.1h0.8M190.8 212.3h0.8M197.4 201.9h0.8M184.6 211.5h0.8M177.0 195.9h0.8M166.6 185.9h0.8M205.4 208.3h0.8M185.2 209.1h0.8M179.5 207.0h0.8M189.9 201.5h0.8M198.3 213.9h0.8M179.6 202.9h0.8M198.2 228.4h0.8M177.9 209.4h0.8M177.8 194.7h0.8M184.0 211.5h0.8M206.9 206.3h0.8M171.6 181.7h0.8M168.7 207.7h0.8M190.5 227.9h0.8M195.2 209.7h0.8M192.0 224.5h0.8M166.2 180.9h0.8M188.4 214.0h0.8M163.0 195.3h0.8M170.5 205.7h0.8M200.6 222.5h0.8M199.1 208.5h0.8M176.9 215.3h0.8M177.7 206.1h0.8M191.9 199.0h0.8M159.4 210.7h0.8M183.2 215.6h0.8M190.1 193.0h0.8M187.7 202.8h0.8M181.7 200.8h0.8M184.4 210.8h0.8M175.5 211.1h0.8M207.1 214.3h0.8M202.0 212.7h0.8M180.1 197.1h0.8M199.5 211.7h0.8M175.5 215.1h0.8M181.5 209.4h0.8M164.4 191.9h0.8M180.7 212.3h0.8M190.9 212.1h0.8M178.4 219.0h0.8M182.3 204.4h0.8M168.0 210.2h0.8M195.4 224.0h0.8M176.9 218.3h0.8M189.4 189.3h0.8M186.7 203.3h0.8M191.5 200.2h0.8M169.7 198.8h0.8M212.9 213.5h0.8M177.6 195.7h0.8M166.4 191.8h0.8M192.8 196.3h0.8M177.0 200.1h0.8M190.9 208.8h0.8M180.0 226.0h0.8M202.7 220.3h0.8M174.5 204.1h0.8M161.6 180.5h0.8M174.4 202.4h0.8M189.3 205.2h0.8M167.1 199.2h0.8M182.5 212.3h0.8M194.9 216.9h0.8M199.4 218.1h0.8M185.1 218.0h0.8M189.0 192.9h0.8M193.4 217.0h0.8M173.5 212.6h0.8M170.8 223.5h0.8M158.3 202.0h0.8M176.9 201.2h0.8M192.4 217.8h0.8M195.1 224.2h0.8M172.6 201.4h0.8M181.4 207.2h0.8M161.3 210.9h0.8M190.8 218.4h0.8M190.4 202.5h0.8M174.3 197.1h0.8M166.3 192.2h0.8M180.7 207.3h0.8M177.2 223.4h0.8M177.4 206.9h0.8M187.1 192.9h0.8M188.1 190.1h0.8M177.9 197.9h0.8M178.4 210.0h0.8M199.9 215.3h0.8M192.9 204.8h0.8M174.3 205.1h0.8M173.1 205.2h0.8M196.7 225.3h0.8M201.2 203.0h0.8M192.5 213.1h0.8M182.6 197.2h0.8M187.1 221.9h0.8M186.8 207.8h0.8M203.1 213.6h0.8M186.2 226.0h0.8M207.9 217.9h0.8M184.3 203.5h0.8M177.2 201.2h0.8M195.6 228.6h0.8M176.7 204.1h0.8M189.7 211.6h0.8M177.4 193.4h0.8M165.8 202.6h0.8M188.9 209.9h0.8M193.0 208.2h0.8M182.4 184.7h0.8M203.4 203.7h0.8M194.4 227.1h0.8M187.3 214.9h0.8M186.6 214.7h0.8M183.7 193.3h0.8M183.4 190.1h0.8M190.1 211.6h0.8M196.4 205.1h0.8M170.2 205.1h0.8M180.6 202.4h0.8M173.6 195.7h0.8M192.2 209.0h0.8M186.7 227.2h0.8M197.8 213.3h0.8M197.3 204.8h0.8M174.7 205.7h0.8M189.0 210.8h0.8M205.9 202.3h0.8M194.2 215.9h0.8M193.4 206.0h0.8M175.1 201.7h0.8M183.0 193.5h0.8M191.4 201.3h0.8M167.4 204.7h0.8M184.2 194.1h0.8M178.5 198.3h0.8M174.6 191.4h0.8M183.2 211.4h0.8M177.6 213.2h0.8M203.1 234.2h0.8M203.5 219.6h0.8M203.3 224.8h0.8M194.1 215.9h0.8M205.0 218.2h0.8M206.0 213.3h0.8M202.5 220.3h0.8M195.5 218.2h0.8M197.7 237.7h0.8M206.1 221.4h0.8M211.4 225.3h0.8M200.6 230.2h0.8M203.5 222.7h0.8M197.6 220.6h0.8M198.5 214.9h0.8M198.3 217.8h0.8M194.8 215.8h0.8M206.4 231.7h0.8M202.4 217.5h0.8M198.7 223.5h0.8M207.0 219.2h0.8M194.9 215.4h0.8M200.8 226.3h0.8M209.4 209.9h0.8M197.9 223.8h0.8M194.1 218.0h0.8M191.8 219.2h0.8M206.5 236.9h0.8M197.8 222.1h0.8M208.9 230.7h0.8M205.1 228.4h0.8M200.5 216.1h0.8M199.7 229.2h0.8M201.7 229.3h0.8M205.7 226.3h0.8M204.9 212.9h0.8M198.6 226.8h0.8M199.2 214.7h0.8M201.4 214.8h0.8M207.6 228.3h0.8M200.7 227.4h0.8M199.5 233.3h0.8M197.4 232.9h0.8M201.9 225.0h0.8M197.9 220.9h0.8M205.0 223.7h0.8M200.1 238.2h0.8M196.5 218.9h0.8M195.0 208.6h0.8M203.0 226.2h0.8M197.0 213.8h0.8M204.9 218.1h0.8M212.1 236.0h0.8M204.4 222.4h0.8M205.2 212.1h0.8M206.3 236.2h0.8M192.9 219.9h0.8M206.4 224.5h0.8M199.8 234.4h0.8M203.6 231.3h0.8M199.4 224.1h0.8M194.7 210.4h0.8M196.4 226.1h0.8M207.9 215.6h0.8M208.6 219.5h0.8M194.1 224.8h0.8M204.0 219.7h0.8M202.5 227.1h0.8M204.7 221.2h0.8M198.1 246.1h0.8M205.2 217.1h0.8M204.1 228.8h0.8M206.0 212.6h0.8M200.1 227.4h0.8M207.2 234.5h0.8M203.0 217.4h0.8M214.0 217.6h0.8M202.2 232.8h0.8M201.4 234.9h0.8M205.4 230.5h0.8M209.8 227.4h0.8M194.0 230.8h0.8M206.2 226.7h0.8M204.0 220.6h0.8M197.7 228.9h0.8M197.3 229.9h0.8M200.0 220.3h0.8M196.3 219.7h0.8M203.0 225.1h0.8M203.4 229.5h0.8M200.0 224.4h0.8M198.7 230.8h0.8M208.5 229.7h0.8M212.0 221.7h0.8M198.3 223.5h0.8M216.2 231.2h0.8M205.5 225.5h0.8M208.7 229.6h0.8M210.0 232.1h0.8M211.6 212.9h0.8M200.8 225.1h0.8M194.6 219.7h0.8M208.6 230.3h0.8M209.9 218.9h0.8M210.3 221.9h0.8M207.4 222.5h0.8M209.1 228.2h0.8M200.9 222.9h0.8M204.3 239.6h0.8M198.4 232.7h0.8M205.0 229.1h0.8M207.3 233.3h0.8M202.2 223.1h0.8M199.3 231.4h0.8M210.2 235.4h0.8M205.6 226.6h0.8M199.5 228.8h0.8M201.0 220.3h0.8M198.8 215.3h0.8M204.6 225.4h0.8M210.8 224.7h0.8M218.3 230.0h0.8M200.8 231.3h0.8M201.1 234.3h0.8M198.2 215.3h0.8M216.7 232.0h0.8M205.5 221.6h0.8M199.4 222.5h0.8M204.8 227.8h0.8M193.1 233.5h0.8M206.5 234.0h0.8M195.5 222.1h0.8M199.6 224.3h0.8M192.2 230.3h0.8M199.7 204.2h0.8M205.9 218.1h0.8M208.6 211.6h0.8M199.6 213.3h0.8M205.5 216.0h0.8M195.3 217.8h0.8M197.6 232.2h0.8M199.7 220.8h0.8M202.7 225.4h0.8M203.0 221.0h0.8M200.0 220.7h0.8M202.1 223.6h0.8M209.5 216.2h0.8M195.1 223.3h0.8M203.3 231.8h0.8M205.3 227.8h0.8M213.6 233.8h0.8M197.8 227.0h0.8M197.4 224.8h0.8M199.4 220.3h0.8M197.1 223.9h0.8M204.4 228.4h0.8M203.2 223.7h0.8M204.0 233.4h0.8M197.2 212.2h0.8M201.1 221.6h0.8M208.1 233.7h0.8M210.4 215.1h0.8M207.5 236.8h0.8M206.6 237.0h0.8M208.4 225.4h0.8M210.1 229.4h0.8M194.6 229.3h0.8M196.9 222.5h0.8M191.2 218.6h0.8M206.6 223.1h0.8M192.2 214.8h0.8M210.0 223.6h0.8M206.4 239.7h0.8M204.8 227.6h0.8M212.6 210.7h0.8M205.1 228.1h0.8M206.7 229.7h0.8M200.9 217.4h0.8M211.2 232.5h0.8M193.2 217.2h0.8M207.6 230.2h0.8M200.7 223.0h0.8M201.5 227.9h0.8M200.8 223.4h0.8M196.2 233.0h0.8M197.4 222.1h0.8M202.4 222.1h0.8M195.2 217.8h0.8M200.3 207.5h0.8M203.5 243.4h0.8M198.1 218.2h0.8M203.0 219.7h0.8M195.4 222.6h0.8M198.8 219.4h0.8M206.4 226.4h0.8M204.8 234.3h0.8M205.1 230.8h0.8M202.0 230.2h0.8M210.8 221.8h0.8M203.8 216.4h0.8M200.8 223.5h0.8M205.4 221.7h0.8M210.6 237.2h0.8M207.0 241.8h0.8M197.2 209.7h0.8M199.7 217.5h0.8M196.9 219.9h0.8M205.4 234.2h0.8M200.6 230.9h0.8M202.2 225.6h0.8M210.6 225.8h0.8M204.5 226.3h0.8M197.3 230.7h0.8M216.3 226.8h0.8M208.1 236.2h0.8M204.2 226.8h0.8M201.0 215.1h0.8M200.0 229.4h0.8M207.2 218.6h0.8M212.1 213.4h0.8M196.5 225.4h0.8M196.3 221.3h0.8M205.5 217.4h0.8M195.3 228.8h0.8M211.4 225.6h0.8M209.4 212.7h0.8M198.0 232.8h0.8M206.1 224.6h0.8M196.0 210.4h0.8M207.4 232.3h0.8M203.0 228.9h0.8M202.0 220.7h0.8M198.5 219.3h0.8M197.7 234.1h0.8M204.7 225.2h0.8M210.5 230.4h0.8M203.2 226.6h0.8M205.8 220.0h0.8M203.5 217.2h0.8M199.1 223.3h0.8M198.9 227.2h0.8M204.7 239.9h0.8M203.4 228.9h0.8M199.3 224.2h0.8M203.1 232.9h0.8M203.9 223.8h0.8M198.6 225.2h0.8M207.9 215.6h0.8M209.9 226.4h0.8M195.9 222.2h0.8M208.0 233.1h0.8M197.8 222.3h0.8M211.2 232.0h0.8M213.1 234.5h0.8M201.1 226.8h0.8M199.1 226.8h0.8M208.8 230.8h0.8M200.0 215.0h0.8M203.4 207.2h0.8M201.9 235.8h0.8M202.5 211.1h0.8M201.8 220.1h0.8M207.2 212.2h0.8M203.1 219.6h0.8M208.3 228.6h0.8M197.7 230.2h0.8M200.8 233.2h0.8M205.5 231.6h0.8M201.0 221.9h0.8M199.8 225.5h0.8M190.0 235.0h0.8M202.9 225.3h0.8M193.8 214.1h0.8M195.9 228.8h0.8M197.7 217.5h0.8M206.5 218.8h0.8M191.6 202.1h0.8M201.9 237.4h0.8M206.0 228.9h0.8M196.0 236.1h0.8M198.7 233.0h0.8M216.3 231.5h0.8M193.8 224.7h0.8M198.6 223.4h0.8M207.8 238.7h0.8M208.8 224.6h0.8M205.1 219.6h0.8M204.3 223.1h0.8M208.0 232.5h0.8M204.3 225.3h0.8M200.7 234.6h0.8M207.1 233.3h0.8M200.0 229.1h0.8M203.1 231.3h0.8M216.7 233.0h0.8M205.9 211.4h0.8M199.6 210.9h0.8M199.0 232.0h0.8M212.5 225.2h0.8M190.8 233.0h0.8M208.1 223.1h0.8M190.1 231.6h0.8M201.5 225.7h0.8M190.4 216.4h0.8M210.8 217.8h0.8M205.8 223.6h0.8M202.8 229.4h0.8M197.3 224.6h0.8M202.6 218.1h0.8M203.9 222.1h0.8M194.7 235.6h0.8M207.3 222.9h0.8M205.0 212.6h0.8M201.4 225.7h0.8M204.5 215.3h0.8M201.2 226.4h0.8M195.9 238.7h0.8M199.0 209.2h0.8M199.8 234.1h0.8M192.6 237.2h0.8M207.3 226.0h0.8M204.0 236.0h0.8M195.8 220.7h0.8M199.0 228.5h0.8M198.6 219.7h0.8M200.1 226.1h0.8M206.8 218.5h0.8M201.7 224.0h0.8M205.6 236.5h0.8M198.5 216.9h0.8M200.1 223.6h0.8M207.8 224.3h0.8M206.8 226.4h0.8M211.8 227.9h0.8M211.8 234.1h0.8M194.0 223.2h0.8M198.8 218.7h0.8M203.0 215.1h0.8M206.4 240.0h0.8M213.5 228.1h0.8M206.0 219.1h0.8M204.8 221.2h0.8M201.6 225.1h0.8M205.7 223.7h0.8M211.5 222.6h0.8M208.2 227.9h0.8M200.6 233.6h0.8M204.2 219.6h0.8M207.7 219.1h0.8M203.1 215.3h0.8M204.9 205.1h0.8M195.1 219.9h0.8M205.0 217.5h0.8M209.1 223.2h0.8M200.4 210.0h0.8M208.0 221.0h0.8M200.4 227.0h0.8M208.7 225.0h0.8M208.8 225.3h0.8M200.1 227.0h0.8M214.6 231.3h0.8M198.6 230.2h0.8M207.1 222.8h0.8M205.8 228.8h0.8M194.0 230.9h0.8M193.9 228.7h0.8M197.8 220.4h0.8M202.5 221.4h0.8M205.7 228.7h0.8M213.6 221.8h0.8M201.7 227.2h0.8M199.8 217.5h0.8M200.7 224.8h0.8M215.0 212.3h0.8M201.6 212.8h0.8M215.4 224.5h0.8M207.4 209.7h0.8M205.2 228.0h0.8M206.5 236.4h0.8M206.6 239.8h0.8M192.8 222.4h0.8M198.8 236.7h0.8M182.3 233.9h0.8M193.3 225.3h0.8M178.9 245.1h0.8M194.7 235.5h0.8M206.2 222.6h0.8M185.3 234.7h0.8M204.3 234.6h0.8M190.5 231.7h0.8M190.9 236.8h0.8M168.4 245.1h0.8M178.7 231.7h0.8M197.1 222.4h0.8M178.1 230.5h0.8M187.1 233.4h0.8M188.7 235.6h0.8M195.0 225.1h0.8M187.7 233.5h0.8M178.2 219.3h0.8M185.1 227.3h0.8M174.4 222.8h0.8M211.0 235.5h0.8M191.0 243.6h0.8M209.4 229.7h0.8M216.9 223.2h0.8M166.3 224.1h0.8M199.1 234.5h0.8M218.6 246.2h0.8M192.2 224.8h0.8M176.5 238.3h0.8M180.1 232.4h0.8M187.2 235.9h0.8M217.8 233.5h0.8M213.2 229.2h0.8M175.0 239.4h0.8M154.9 236.2h0.8M182.5 227.4h0.8M176.4 230.9h0.8M178.9 222.9h0.8M190.1 239.4h0.8M194.3 234.5h0.8M174.1 234.1h0.8M187.3 233.7h0.8M188.0 222.2h0.8M191.7 218.5h0.8M198.7 244.8h0.8M201.9 217.2h0.8M180.3 232.7h0.8M184.9 229.6h0.8M193.6 221.4h0.8M193.8 235.2h0.8M198.8 221.4h0.8M193.3 231.5h0.8M199.1 217.0h0.8M177.3 223.4h0.8M197.0 222.7h0.8M167.3 222.8h0.8M196.7 246.2h0.8M205.8 236.2h0.8M172.1 232.9h0.8M189.9 235.9h0.8M187.8 234.1h0.8M176.2 228.9h0.8M182.5 241.2h0.8M163.5 218.2h0.8M192.5 227.1h0.8M211.2 233.5h0.8M189.3 224.8h0.8M193.0 236.4h0.8M186.4 230.6h0.8M192.4 208.4h0.8M162.9 235.9h0.8M197.7 233.0h0.8M191.1 234.7h0.8M181.2 226.1h0.8M195.6 221.9h0.8M190.1 234.5h0.8M180.2 241.9h0.8M196.3 231.8h0.8M181.5 240.2h0.8M182.7 244.0h0.8M211.8 229.3h0.8M198.7 231.9h0.8M202.8 230.8h0.8M196.9 222.9h0.8M186.2 235.0h0.8M193.0 230.9h0.8M181.1 225.4h0.8M196.0 231.4h0.8M197.3 229.3h0.8M185.7 225.3h0.8M201.2 228.3h0.8M181.2 240.4h0.8M182.8 237.1h0.8M205.5 242.4h0.8M169.4 227.3h0.8M194.2 230.6h0.8M183.6 244.3h0.8M181.0 218.4h0.8M183.6 222.7h0.8M186.8 226.1h0.8M181.5 217.4h0.8M214.8 228.9h0.8M176.6 225.5h0.8M177.4 236.0h0.8M181.5 221.4h0.8M196.0 229.5h0.8M215.7 218.5h0.8M161.3 234.3h0.8M184.5 240.1h0.8M185.3 238.1h0.8M177.5 236.4h0.8M173.2 211.3h0.8M176.2 223.4h0.8M205.4 228.7h0.8M196.4 235.4h0.8M164.9 237.1h0.8M184.4 234.6h0.8M193.6 227.3h0.8M196.9 221.7h0.8M172.6 238.5h0.8M181.5 229.9h0.8M194.9 238.6h0.8M180.7 225.2h0.8M203.5 227.4h0.8M195.8 233.2h0.8M188.0 233.0h0.8M190.6 228.0h0.8M212.1 238.6h0.8M183.3 227.4h0.8M175.3 230.5h0.8M179.3 231.3h0.8M180.7 221.1h0.8M179.9 231.7h0.8M195.8 233.0h0.8M188.7 236.1h0.8M193.4 230.7h0.8M195.7 231.1h0.8M192.8 228.1h0.8M173.7 241.4h0.8M171.2 223.5h0.8M198.8 240.9h0.8M190.8 226.6h0.8M188.2 230.8h0.8M186.1 223.0h0.8M188.4 225.9h0.8M191.9 230.3h0.8M181.7 242.0h0.8M176.2 222.8h0.8M206.5 233.0h0.8M191.3 224.3h0.8M169.4 225.9h0.8M154.8 241.1h0.8M191.4 219.4h0.8M178.0 237.3h0.8M183.9 241.0h0.8M194.3 231.5h0.8M206.9 237.0h0.8M194.5 224.2h0.8M219.8 231.4h0.8M183.1 232.3h0.8M192.6 234.6h0.8M206.0 233.3h0.8M199.2 233.3h0.8M193.1 239.5h0.8M167.0 208.0h0.8M190.3 220.7h0.8M171.0 235.7h0.8M183.5 229.8h0.8M192.1 224.0h0.8M196.8 228.1h0.8M181.8 226.8h0.8M204.3 229.8h0.8M195.5 225.6h0.8M184.8 221.8h0.8M194.3 230.7h0.8M185.4 242.9h0.8M186.2 236.2h0.8M205.0 227.1h0.8M201.3 234.0h0.8M198.2 246.9h0.8M179.9 221.4h0.8M203.1 218.0h0.8M180.5 230.5h0.8M193.6 231.2h0.8M182.6 228.0h0.8M194.3 218.5h0.8M191.6 206.1h0.8M188.7 234.0h0.8M176.6 225.4h0.8M198.4 241.8h0.8M174.2 232.9h0.8M194.7 221.1h0.8M191.0 236.0h0.8M202.3 237.0h0.8M177.5 232.7h0.8" stroke="#111" stroke-width="0.8" fill="none" opacity="1"/>
<rect x="153.40" y="174.60" width="40.50" height="25.20" fill="none" stroke="#666" stroke-width="0.9" />
<rect x="153.40" y="203.00" width="78.20" height="46.30" fill="none" stroke="#666" stroke-width="0.9" />
<rect x="153.40" y="161.60" width="81.90" height="88.20" fill="none" stroke="#444" stroke-width="0.9" />
<path d="M153.4 161.6V249.8H235.3" fill="none" stroke="#111" stroke-width="1.2" />
<path d="M151.9 164.6h1.5M151.9 166.8h1.5M151.9 169.0h1.5M151.9 171.2h1.5M151.9 173.4h1.5M151.9 175.6h1.5M151.9 177.8h1.5M151.9 180.0h1.5M151.9 182.2h1.5M151.9 184.4h1.5M151.9 186.6h1.5M151.9 188.8h1.5M151.9 191.0h1.5M151.9 193.2h1.5M151.9 195.4h1.5M151.9 197.6h1.5M151.9 199.8h1.5M151.9 202.0h1.5M151.9 204.2h1.5M151.9 206.4h1.5M151.9 208.6h1.5M151.9 210.8h1.5M151.9 213.0h1.5M151.9 215.2h1.5M151.9 217.4h1.5M151.9 219.6h1.5M151.9 221.8h1.5M151.9 224.0h1.5M151.9 226.2h1.5M151.9 228.4h1.5M151.9 230.6h1.5M151.9 232.8h1.5M151.9 235.0h1.5M151.9 237.2h1.5M151.9 239.4h1.5M151.9 241.6h1.5M151.9 243.8h1.5M151.9 246.0h1.5M151.9 248.2h1.5M155.4 249.8v1.8M157.6 249.8v1.8M159.8 249.8v1.8M162.0 249.8v1.8M164.2 249.8v1.8M166.4 249.8v1.8M168.6 249.8v1.8M170.8 249.8v1.8M173.0 249.8v1.8M175.2 249.8v1.8M177.4 249.8v1.8M179.6 249.8v1.8M181.8 249.8v1.8M184.0 249.8v1.8M186.2 249.8v1.8M188.4 249.8v1.8M190.6 249.8v1.8M192.8 249.8v1.8M195.0 249.8v1.8M197.2 249.8v1.8M199.4 249.8v1.8M201.6 249.8v1.8M203.8 249.8v1.8M206.0 249.8v1.8M208.2 249.8v1.8M210.4 249.8v1.8M212.6 249.8v1.8M214.8 249.8v1.8M217.0 249.8v1.8M219.2 249.8v1.8M221.4 249.8v1.8M223.6 249.8v1.8M225.8 249.8v1.8M228.0 249.8v1.8M230.2 249.8v1.8M232.4 249.8v1.8M150.4 167.0h3M150.4 192.0h3M150.4 217.0h3M150.4 225.0h3M174.0 249.8v3M186.0 249.8v3M208.0 249.8v3M227.0 249.8v3" fill="none" stroke="#333" stroke-width="0.7" />
<text x="150.6" y="168.5" font-size="4.6" text-anchor="end" fill="#222" >10<tspan font-size="3" dy="-1.5">5</tspan></text>
<text x="150.6" y="193.5" font-size="4.6" text-anchor="end" fill="#222" >10<tspan font-size="3" dy="-1.5">4</tspan></text>
<text x="150.6" y="218.5" font-size="4.6" text-anchor="end" fill="#222" >10<tspan font-size="3" dy="-1.5">3</tspan></text>
<text x="150.6" y="226.5" font-size="4.6" text-anchor="end" fill="#222" >0</text>
<text x="174" y="258.8" font-size="4.6" text-anchor="middle" fill="#222" >0</text>
<text x="186" y="258.8" font-size="4.6" text-anchor="middle" fill="#222" >10<tspan font-size="3" dy="-1.5">3</tspan></text>
<text x="208" y="258.8" font-size="4.6" text-anchor="middle" fill="#222" >10<tspan font-size="3" dy="-1.5">4</tspan></text>
<text x="227" y="258.8" font-size="4.6" text-anchor="middle" fill="#222" >10<tspan font-size="3" dy="-1.5">5</tspan></text>
<text x="141.2" y="239.9" font-size="14" font-weight="bold" textLength="67.6" lengthAdjust="spacingAndGlyphs" transform="rotate(-90 141.2 239.9)" >Fc<tspan font-size="12">γ</tspan>R-APC</text>
<path d="M174.3 203V165.6H125" fill="none" stroke="#2b2b2b" stroke-width="1.8" />
<path d="M172.9 221V262" fill="none" stroke="#2b2b2b" stroke-width="1.8" />
<path d="M172.9 266.6L168.4 257.8L172.9 261.0L177.4 257.8Z" fill="#2b2b2b" stroke="#2b2b2b" stroke-width="0.5" stroke-linejoin="miter"/>
<path d="M276.7 250.0 L278.4 244.0 L280.1 238.4 L281.4 233.0 L282.6 228.4 L284.2 224.0 L285.9 220.0 L287.2 213.0 L288.4 204.9 L289.3 197.0 L290.1 189.8 L291.0 186.0 L291.8 183.1 L292.7 178.5 L293.5 174.8 L294.3 176.0 L295.1 178.0 L296.4 181.0 L297.7 185.0 L298.8 196.0 L299.9 208.0 L301.0 220.0 L302.2 232.0 L303.5 243.5 L304.6 250.0 L304.6 250 L276.7 250 Z" fill="#bdbdbd" stroke="#777" stroke-width="0.6" />
<path d="M271.5 249.5 L273.8 248.0 L275.9 245.1 L277.6 238.5 L279.2 231.7 L280.5 226.0 L281.7 220.8 L282.6 220.0 L284.6 219.6 L286.8 219.8 L287.5 206.0 L288.1 191.5 L289.1 179.0 L290.1 168.0 L291.0 176.0 L291.8 183.0 L292.6 174.0 L293.5 165.5 L294.1 174.0 L294.6 181.5 L295.3 173.0 L296.0 166.4 L296.9 175.0 L297.7 183.0 L298.8 196.0 L299.9 208.0 L301.0 220.0 L302.2 232.0 L303.5 243.5 L305.2 249.0 L308.0 249.3 L312.0 248.4 L316.0 249.5 L320.0 248.8 L326.0 249.6 L355.0 249.7" fill="none" stroke="#111" stroke-width="0.7" stroke-linejoin="round"/>
<rect x="271.30" y="160.50" width="84.20" height="89.50" fill="none" stroke="#444" stroke-width="0.9" />
<path d="M271.3 160.5V250H355.5" fill="none" stroke="#111" stroke-width="1.2" />
<text x="267.8" y="251.5" font-size="4.6" text-anchor="end" fill="#222" >0</text>
<text x="267.8" y="234.4" font-size="4.6" text-anchor="end" fill="#222" >20</text>
<text x="267.8" y="217.3" font-size="4.6" text-anchor="end" fill="#222" >40</text>
<text x="267.8" y="200.2" font-size="4.6" text-anchor="end" fill="#222" >60</text>
<text x="267.8" y="183.1" font-size="4.6" text-anchor="end" fill="#222" >80</text>
<text x="267.8" y="166.0" font-size="4.6" text-anchor="end" fill="#222" >100</text>
<path d="M268.8 250.0h2.5M268.8 232.9h2.5M268.8 215.8h2.5M268.8 198.7h2.5M268.8 181.6h2.5M268.8 164.5h2.5M280.3 250v2.5M289.2 250v2.5M308.3 250v2.5M327.3 250v2.5M346.1 250v2.5M273.3 250v1.5M275.7 250v1.5M278.1 250v1.5M280.5 250v1.5M282.9 250v1.5M285.3 250v1.5M287.7 250v1.5M290.1 250v1.5M292.5 250v1.5M294.9 250v1.5M297.3 250v1.5M299.7 250v1.5M302.1 250v1.5M304.5 250v1.5M306.9 250v1.5M309.3 250v1.5M311.7 250v1.5M314.1 250v1.5M316.5 250v1.5M318.9 250v1.5M321.3 250v1.5M323.7 250v1.5M326.1 250v1.5M328.5 250v1.5M330.9 250v1.5M333.3 250v1.5M335.7 250v1.5M338.1 250v1.5M340.5 250v1.5M342.9 250v1.5M345.3 250v1.5M347.7 250v1.5M350.1 250v1.5M352.5 250v1.5" fill="none" stroke="#333" stroke-width="0.7" />
<text x="280.3094" y="258" font-size="4.6" text-anchor="middle" fill="#222" >0</text>
<text x="289.2346" y="258" font-size="4.6" text-anchor="middle" fill="#222" >10<tspan font-size="3" dy="-1.5">2</tspan></text>
<text x="308.348" y="258" font-size="4.6" text-anchor="middle" fill="#222" >10<tspan font-size="3" dy="-1.5">3</tspan></text>
<text x="327.293" y="258" font-size="4.6" text-anchor="middle" fill="#222" >10<tspan font-size="3" dy="-1.5">4</tspan></text>
<text x="346.06960000000004" y="258" font-size="4.6" text-anchor="middle" fill="#222" >10<tspan font-size="3" dy="-1.5">5</tspan></text>
<text x="313.9" y="176.8" font-size="12.3" font-weight="bold" textLength="38.6" lengthAdjust="spacingAndGlyphs" >CFU-E</text>
<text x="336.5" y="241.4" font-size="11.6" font-weight="bold" textLength="14.8" lengthAdjust="spacingAndGlyphs" >0%</text>
<text x="255.4" y="258.6" font-size="14.3" font-weight="bold" textLength="100.6" lengthAdjust="spacingAndGlyphs" transform="rotate(-90 255.4 258.6)" >Percent of max</text>
<text x="20.4" y="309.2" font-size="14.3" font-weight="bold" textLength="101" lengthAdjust="spacingAndGlyphs" transform="rotate(-90 20.4 309.2)" >Percent of max</text>
<path d="M37.6 342.4 L41.0 339.0 L44.0 335.4 L47.0 329.0 L49.6 321.5 L52.0 310.0 L53.7 299.0 L55.0 293.0 L56.5 288.0 L57.6 284.0 L58.8 282.3 L60.0 284.0 L61.3 288.0 L62.4 298.0 L63.5 310.0 L65.0 323.0 L66.3 335.4 L67.6 343.0 L69.0 349.4 L70.5 354.0 L72.0 358.0 L72.0 358 L37.6 358 Z" fill="#bdbdbd" stroke="#777" stroke-width="0.6" />
<path d="M37.6 341.0 L39.0 338.0 L40.6 334.0 L42.0 322.0 L44.0 311.7 L45.0 318.0 L46.2 327.0 L47.2 319.0 L48.2 314.5 L49.0 320.0 L50.0 324.0 L52.0 310.0 L53.7 296.3 L55.0 285.0 L56.5 276.8 L57.2 282.0 L58.0 285.0 L59.4 277.0 L60.7 272.6 L62.0 280.0 L63.5 285.0 L65.0 284.0 L66.3 286.5 L67.6 297.0 L69.0 304.7 L71.0 297.0 L73.3 293.5 L74.6 297.0 L76.0 299.0 L77.5 295.0 L78.9 296.3 L80.3 303.0 L81.7 309.0 L83.5 300.0 L85.5 293.0 L87.3 288.0 L88.6 294.0 L90.0 302.0 L91.4 312.0 L92.8 324.0 L94.2 336.0 L95.6 346.6 L97.5 353.0 L99.8 357.6 L121.0 357.8" fill="none" stroke="#111" stroke-width="0.7" stroke-linejoin="round"/>
<rect x="37.70" y="268.00" width="82.80" height="90.00" fill="none" stroke="#444" stroke-width="0.9" />
<path d="M37.7 268V358H120.5" fill="none" stroke="#111" stroke-width="1.2" />
<text x="34.2" y="359.5" font-size="4.6" text-anchor="end" fill="#222" >0</text>
<text x="34.2" y="342.3" font-size="4.6" text-anchor="end" fill="#222" >20</text>
<text x="34.2" y="325.1" font-size="4.6" text-anchor="end" fill="#222" >40</text>
<text x="34.2" y="307.9" font-size="4.6" text-anchor="end" fill="#222" >60</text>
<text x="34.2" y="290.7" font-size="4.6" text-anchor="end" fill="#222" >80</text>
<text x="34.2" y="273.5" font-size="4.6" text-anchor="end" fill="#222" >100</text>
<path d="M35.2 358.0h2.5M35.2 340.8h2.5M35.2 323.6h2.5M35.2 306.4h2.5M35.2 289.2h2.5M35.2 272.0h2.5M46.6 358v2.5M55.3 358v2.5M74.1 358v2.5M92.8 358v2.5M111.2 358v2.5M39.7 358v1.5M42.1 358v1.5M44.5 358v1.5M46.9 358v1.5M49.3 358v1.5M51.7 358v1.5M54.1 358v1.5M56.5 358v1.5M58.9 358v1.5M61.3 358v1.5M63.7 358v1.5M66.1 358v1.5M68.5 358v1.5M70.9 358v1.5M73.3 358v1.5M75.7 358v1.5M78.1 358v1.5M80.5 358v1.5M82.9 358v1.5M85.3 358v1.5M87.7 358v1.5M90.1 358v1.5M92.5 358v1.5M94.9 358v1.5M97.3 358v1.5M99.7 358v1.5M102.1 358v1.5M104.5 358v1.5M106.9 358v1.5M109.3 358v1.5M111.7 358v1.5M114.1 358v1.5M116.5 358v1.5M118.9 358v1.5" fill="none" stroke="#333" stroke-width="0.7" />
<text x="46.5596" y="366" font-size="4.6" text-anchor="middle" fill="#222" >0</text>
<text x="55.3364" y="366" font-size="4.6" text-anchor="middle" fill="#222" >10<tspan font-size="3" dy="-1.5">2</tspan></text>
<text x="74.132" y="366" font-size="4.6" text-anchor="middle" fill="#222" >10<tspan font-size="3" dy="-1.5">3</tspan></text>
<text x="92.762" y="366" font-size="4.6" text-anchor="middle" fill="#222" >10<tspan font-size="3" dy="-1.5">4</tspan></text>
<text x="111.2264" y="366" font-size="4.6" text-anchor="middle" fill="#222" >10<tspan font-size="3" dy="-1.5">5</tspan></text>
<text x="71.6" y="283.9" font-size="12.1" font-weight="bold" textLength="47.5" lengthAdjust="spacingAndGlyphs" >preGMP</text>
<text x="98" y="349.5" font-size="11.9" font-weight="bold" textLength="21.1" lengthAdjust="spacingAndGlyphs" >38%</text>
<text x="57.8" y="386.8" font-size="14" font-weight="bold" textLength="55.9" lengthAdjust="spacingAndGlyphs" >FLT3-PE</text>
<path d="M170.7 338V372.7H67.3V363" fill="none" stroke="#2b2b2b" stroke-width="1.8" />
<path d="M67.3 358.9L62.9 367.4L67.3 364.3L71.7 367.4Z" fill="#2b2b2b" stroke="#2b2b2b" stroke-width="0.5" stroke-linejoin="miter"/>
<path d="M162.0 285.8h0.8M168.7 288.7h0.8M202.4 283.6h0.8M183.1 286.2h0.8M186.9 289.4h0.8M168.7 285.3h0.8M159.5 284.4h0.8M182.6 290.3h0.8M182.1 285.3h0.8M180.7 283.4h0.8M166.9 289.2h0.8M182.9 287.4h0.8M178.3 285.3h0.8M192.1 290.7h0.8M168.1 290.4h0.8M190.5 287.1h0.8M181.0 284.6h0.8M173.3 292.2h0.8M188.8 289.9h0.8M173.8 285.6h0.8M183.3 285.0h0.8M172.3 288.1h0.8M199.3 284.1h0.8M181.1 285.3h0.8M185.6 289.7h0.8M168.8 292.4h0.8M165.9 284.3h0.8M173.1 290.6h0.8M179.1 290.1h0.8M187.2 284.1h0.8M164.6 289.2h0.8M176.5 289.1h0.8M186.9 289.7h0.8M185.3 288.4h0.8M177.7 292.6h0.8M183.3 290.4h0.8M194.8 288.9h0.8M182.4 286.5h0.8M164.1 287.2h0.8M180.1 284.7h0.8M191.2 289.8h0.8M186.6 286.7h0.8M193.0 294.0h0.8M166.7 292.6h0.8M182.5 289.8h0.8M163.3 289.9h0.8M177.3 287.2h0.8M175.1 287.0h0.8M175.2 287.7h0.8M188.3 286.3h0.8M200.8 285.8h0.8M178.5 288.4h0.8M175.3 286.3h0.8M167.4 284.8h0.8M159.6 287.4h0.8M167.6 286.7h0.8M189.8 291.2h0.8M187.0 288.1h0.8M183.5 287.1h0.8M181.4 287.3h0.8M164.7 292.0h0.8M170.8 284.5h0.8M176.5 291.4h0.8M179.0 285.5h0.8M174.9 292.3h0.8M164.4 284.7h0.8M160.6 288.3h0.8M173.6 288.6h0.8M182.7 286.6h0.8M186.0 287.4h0.8M176.9 289.9h0.8M181.5 282.6h0.8M171.8 285.7h0.8M182.4 290.8h0.8M174.9 289.7h0.8M164.8 283.1h0.8M155.2 288.8h0.8M172.6 287.3h0.8M189.5 283.3h0.8M202.4 287.7h0.8M156.6 290.6h0.8M197.9 287.3h0.8M170.7 290.6h0.8M187.1 281.4h0.8M176.5 288.1h0.8M162.4 286.7h0.8M167.8 287.3h0.8M187.6 291.5h0.8M176.0 287.4h0.8M169.3 286.8h0.8M194.1 287.3h0.8M164.3 285.8h0.8M175.8 288.8h0.8M167.5 290.2h0.8M182.3 286.4h0.8M181.6 291.7h0.8M167.8 286.9h0.8M183.6 287.8h0.8M167.1 286.4h0.8M190.2 288.0h0.8M173.1 286.1h0.8M170.4 284.9h0.8M191.7 286.8h0.8M188.0 287.2h0.8M183.4 288.2h0.8M186.6 292.1h0.8M179.2 283.8h0.8M184.0 292.5h0.8M184.2 287.2h0.8M179.7 282.9h0.8M169.5 289.1h0.8M192.9 292.4h0.8M176.4 286.1h0.8M169.0 285.1h0.8M171.6 284.1h0.8M189.7 282.5h0.8M192.6 290.3h0.8M172.3 288.3h0.8M174.2 291.6h0.8M186.6 289.8h0.8M168.2 290.2h0.8M172.4 289.9h0.8M194.3 286.9h0.8M168.1 287.0h0.8M195.0 284.5h0.8M177.8 287.0h0.8M191.9 285.2h0.8M172.8 285.6h0.8M179.9 285.0h0.8M171.6 284.2h0.8M181.9 287.3h0.8M180.8 282.8h0.8M187.7 287.8h0.8M193.3 292.1h0.8M171.3 287.8h0.8M172.1 287.6h0.8M182.2 287.2h0.8M174.5 291.8h0.8M161.6 287.6h0.8M169.4 285.7h0.8M174.9 288.1h0.8M166.1 290.5h0.8M174.3 286.6h0.8M166.9 288.0h0.8M164.0 285.8h0.8M185.4 290.2h0.8M165.5 283.0h0.8M201.0 288.2h0.8M177.0 285.9h0.8M175.1 285.8h0.8M173.3 283.4h0.8M177.7 286.7h0.8M171.6 285.5h0.8M169.0 289.1h0.8M174.8 284.5h0.8M180.1 287.4h0.8M174.2 290.7h0.8M188.4 288.8h0.8M188.7 292.4h0.8M175.2 288.1h0.8M168.4 287.1h0.8M167.5 288.2h0.8M168.6 287.8h0.8M172.1 284.7h0.8M181.7 282.4h0.8M192.8 287.9h0.8M167.3 286.4h0.8M171.3 286.7h0.8M187.5 288.5h0.8M168.0 283.7h0.8M178.2 289.5h0.8M161.3 288.9h0.8M180.0 288.5h0.8M198.1 288.5h0.8M190.8 287.8h0.8M192.9 286.4h0.8M178.2 288.1h0.8M182.4 287.6h0.8M161.6 289.1h0.8M182.9 291.9h0.8M172.5 289.3h0.8M194.2 288.4h0.8M168.3 284.3h0.8M171.7 288.4h0.8M166.2 289.4h0.8M166.3 288.9h0.8M185.7 285.5h0.8M192.7 286.5h0.8M182.1 286.3h0.8M184.1 291.4h0.8M181.0 288.9h0.8M188.4 287.7h0.8M186.2 287.2h0.8M167.0 288.4h0.8M171.4 287.3h0.8M177.5 288.3h0.8M156.7 287.5h0.8M167.1 284.9h0.8M189.4 284.4h0.8M191.1 285.6h0.8M187.0 289.3h0.8M172.9 290.2h0.8M176.2 289.5h0.8M172.9 288.5h0.8M175.2 289.3h0.8M186.1 284.0h0.8M196.5 287.4h0.8M199.5 286.1h0.8M178.5 291.5h0.8M174.9 290.4h0.8M175.5 288.0h0.8M177.0 288.2h0.8M198.0 285.9h0.8M181.0 286.8h0.8M178.7 287.7h0.8M179.3 289.1h0.8M200.2 283.7h0.8M176.2 288.9h0.8M191.2 284.1h0.8M200.0 289.5h0.8M199.2 290.1h0.8M179.1 286.0h0.8M181.3 288.4h0.8M163.8 287.9h0.8M175.1 288.8h0.8M166.6 285.2h0.8M173.3 288.4h0.8M171.0 282.5h0.8M164.6 290.0h0.8M184.8 287.0h0.8M183.6 285.3h0.8M173.5 286.6h0.8M189.7 287.8h0.8M167.6 286.9h0.8M171.9 290.2h0.8M183.5 288.7h0.8M171.6 289.9h0.8M183.9 283.3h0.8M176.8 288.5h0.8M179.6 288.1h0.8M181.4 290.0h0.8M186.6 287.9h0.8M168.2 281.6h0.8M167.4 286.7h0.8M181.7 292.9h0.8M185.3 284.1h0.8M183.5 285.8h0.8M168.5 286.5h0.8M186.9 287.0h0.8M184.8 287.3h0.8M172.8 287.7h0.8M195.2 287.5h0.8M188.9 291.3h0.8M192.6 288.2h0.8M187.2 288.6h0.8M165.2 286.0h0.8M173.8 292.5h0.8M167.5 284.9h0.8M183.9 289.1h0.8M177.8 284.5h0.8M173.8 288.6h0.8M171.8 284.8h0.8M172.4 291.0h0.8M185.5 294.1h0.8M169.4 286.5h0.8M177.6 290.1h0.8M191.2 285.0h0.8M177.3 285.5h0.8M169.0 289.8h0.8M177.5 288.8h0.8M189.1 289.6h0.8M198.0 290.5h0.8M179.5 286.2h0.8M180.1 289.9h0.8M180.7 284.9h0.8M174.7 285.2h0.8M198.0 290.2h0.8M166.2 287.2h0.8M185.5 288.6h0.8M175.5 280.7h0.8M191.5 285.3h0.8M189.3 290.3h0.8M173.9 287.0h0.8M179.5 286.8h0.8M177.0 287.0h0.8M195.6 290.1h0.8M166.7 284.5h0.8M182.0 289.6h0.8M176.4 281.4h0.8M193.4 283.9h0.8M178.4 286.0h0.8M171.3 284.5h0.8M168.5 289.7h0.8M196.8 287.9h0.8M181.6 289.2h0.8M186.3 286.3h0.8M187.1 287.1h0.8M173.8 279.5h0.8M177.3 283.5h0.8M182.0 288.5h0.8M165.5 287.5h0.8M174.5 286.3h0.8M183.5 288.6h0.8M172.1 283.0h0.8M184.2 283.9h0.8M171.7 287.4h0.8M184.4 288.7h0.8M173.8 288.9h0.8M179.9 292.4h0.8M179.8 287.0h0.8M164.2 287.0h0.8M167.0 282.5h0.8M169.4 290.1h0.8M187.7 287.3h0.8M167.4 286.1h0.8M162.6 288.9h0.8M184.6 286.1h0.8M174.7 287.0h0.8M169.3 288.4h0.8M166.0 285.8h0.8M188.0 285.8h0.8M182.1 290.2h0.8M184.2 290.0h0.8M180.4 290.2h0.8M177.5 284.2h0.8M176.4 286.7h0.8M161.8 288.6h0.8M185.6 283.9h0.8M167.5 286.5h0.8M172.0 290.8h0.8M172.5 288.3h0.8M165.9 286.5h0.8M182.6 285.3h0.8M182.1 289.6h0.8M189.0 285.1h0.8M166.9 282.0h0.8M182.2 287.2h0.8M173.9 292.0h0.8M176.6 287.3h0.8M172.7 288.9h0.8M171.8 289.6h0.8M193.0 286.1h0.8M189.3 282.2h0.8M177.2 287.4h0.8M177.2 289.8h0.8M202.2 291.9h0.8M186.3 287.5h0.8M170.9 287.7h0.8M174.1 285.4h0.8M180.5 291.0h0.8M166.3 291.3h0.8M181.9 294.2h0.8M171.8 290.5h0.8M165.6 285.4h0.8M178.7 288.0h0.8M185.1 284.3h0.8M175.0 286.7h0.8M176.9 289.6h0.8M193.6 283.5h0.8M181.2 287.0h0.8M179.6 289.3h0.8M183.0 282.8h0.8M187.8 288.1h0.8M170.2 289.5h0.8M178.1 281.4h0.8M180.8 291.7h0.8M178.0 285.2h0.8M187.3 285.9h0.8M187.1 290.9h0.8M178.6 283.8h0.8M186.8 288.7h0.8M173.2 290.1h0.8M178.9 281.8h0.8M182.9 286.0h0.8M171.0 291.6h0.8M172.9 287.2h0.8M169.1 285.9h0.8M178.9 288.1h0.8M189.8 290.4h0.8M168.0 286.9h0.8M177.2 286.7h0.8M173.9 290.7h0.8M181.5 289.2h0.8M182.2 286.7h0.8M164.3 286.4h0.8M175.7 288.8h0.8M171.2 286.5h0.8M172.6 285.7h0.8M191.9 290.7h0.8M192.3 291.2h0.8M166.6 291.3h0.8M174.7 289.2h0.8M173.4 286.8h0.8M162.7 280.9h0.8M172.4 286.8h0.8M180.0 287.4h0.8M184.1 288.7h0.8M177.7 286.4h0.8M175.5 291.6h0.8M171.3 286.4h0.8M184.0 287.2h0.8M180.2 290.1h0.8M175.3 284.0h0.8M184.9 281.3h0.8M186.5 286.3h0.8M172.0 287.4h0.8M164.9 283.3h0.8M157.6 286.6h0.8M170.5 281.4h0.8M182.7 285.9h0.8M187.0 288.3h0.8M180.9 289.4h0.8M173.2 289.1h0.8M182.2 286.9h0.8M194.9 291.4h0.8M186.1 287.7h0.8M175.6 288.4h0.8M179.7 290.8h0.8M181.4 288.0h0.8M179.2 287.5h0.8M192.1 287.8h0.8M177.1 291.0h0.8M172.6 283.9h0.8M187.3 290.5h0.8M187.0 285.9h0.8M177.2 283.4h0.8M177.3 288.2h0.8M173.8 289.4h0.8M184.6 287.5h0.8M188.6 287.4h0.8M181.3 291.4h0.8M197.3 283.6h0.8M174.7 284.5h0.8M179.2 287.9h0.8M180.5 283.9h0.8M180.3 285.3h0.8M166.6 287.4h0.8M175.0 289.0h0.8M170.9 290.5h0.8M172.0 284.8h0.8M165.5 286.9h0.8M196.2 287.7h0.8M167.6 284.4h0.8M176.7 283.9h0.8M204.5 287.0h0.8M170.2 288.8h0.8M167.5 285.4h0.8M171.5 285.9h0.8M178.3 287.0h0.8M173.8 290.9h0.8M155.4 290.1h0.8M166.7 290.7h0.8M180.2 283.3h0.8M165.7 286.8h0.8M163.7 285.6h0.8M192.8 286.1h0.8M180.3 286.7h0.8M178.4 287.9h0.8M188.3 292.0h0.8M186.0 281.8h0.8M170.1 291.4h0.8M183.6 288.8h0.8M186.4 285.9h0.8M169.0 285.6h0.8M178.4 288.6h0.8M188.7 289.2h0.8M175.3 290.0h0.8M170.6 288.7h0.8M176.6 287.6h0.8M173.7 288.2h0.8M167.4 286.3h0.8M180.8 289.6h0.8M168.4 290.5h0.8M187.7 289.5h0.8M185.3 290.3h0.8M176.3 283.3h0.8M168.9 290.3h0.8M175.0 291.4h0.8M187.7 286.6h0.8M191.0 281.2h0.8M187.7 289.1h0.8M176.2 285.7h0.8M169.7 285.2h0.8M180.2 287.0h0.8M169.9 285.7h0.8M185.6 287.7h0.8M173.3 290.9h0.8M183.4 286.2h0.8M186.6 286.0h0.8M177.2 289.7h0.8M185.5 286.1h0.8M192.6 289.7h0.8M185.2 288.2h0.8M175.5 287.1h0.8M194.4 289.0h0.8M173.3 287.3h0.8M166.7 286.6h0.8M156.5 283.0h0.8M169.8 293.4h0.8M177.0 288.9h0.8M173.2 293.0h0.8M184.9 286.2h0.8M174.2 287.7h0.8M168.1 287.0h0.8M182.7 283.6h0.8M190.3 291.0h0.8M179.7 289.4h0.8M180.8 286.2h0.8M186.8 288.4h0.8M175.1 284.1h0.8M173.1 290.6h0.8M185.0 286.5h0.8M191.7 287.0h0.8M177.7 287.3h0.8M164.0 288.6h0.8M187.2 287.2h0.8M202.4 284.3h0.8M180.5 286.9h0.8M184.2 288.0h0.8M183.0 285.6h0.8M182.2 289.6h0.8M176.8 283.1h0.8M161.7 284.7h0.8M177.8 283.7h0.8M176.6 287.6h0.8M166.8 289.3h0.8M166.5 288.3h0.8M196.0 283.5h0.8M176.3 290.9h0.8M177.9 285.1h0.8M176.0 283.5h0.8M174.0 287.8h0.8M171.5 286.9h0.8M159.2 290.9h0.8M172.3 287.8h0.8M175.7 287.0h0.8M181.0 288.7h0.8M174.7 285.2h0.8M189.5 283.1h0.8M185.2 284.5h0.8M173.4 288.8h0.8M178.5 286.7h0.8M183.9 288.1h0.8M172.0 286.5h0.8M166.0 287.5h0.8M198.1 288.6h0.8M183.8 286.5h0.8M161.4 286.4h0.8M180.7 285.2h0.8M166.3 287.4h0.8M184.1 285.5h0.8M195.4 286.0h0.8M175.9 284.3h0.8M186.3 282.6h0.8M175.7 288.2h0.8M183.7 289.1h0.8M167.3 289.0h0.8M174.0 281.9h0.8M198.0 288.6h0.8M184.1 290.2h0.8M177.1 285.9h0.8M182.7 290.2h0.8M190.9 284.3h0.8M187.7 283.2h0.8M183.7 286.0h0.8M185.0 289.8h0.8M183.2 290.0h0.8M185.9 288.1h0.8M192.2 287.5h0.8M172.3 288.3h0.8M170.8 287.7h0.8M178.2 292.3h0.8M197.0 284.0h0.8M169.6 289.9h0.8M181.6 292.6h0.8M188.1 287.4h0.8M205.8 283.8h0.8M183.6 291.1h0.8M185.9 285.9h0.8M166.4 290.0h0.8M175.9 287.5h0.8M182.2 287.4h0.8M194.1 291.5h0.8M163.5 289.2h0.8M177.5 283.8h0.8M180.5 288.0h0.8M170.4 288.7h0.8M192.4 285.6h0.8M167.0 285.9h0.8M182.4 291.9h0.8M171.3 285.2h0.8M169.8 285.9h0.8M196.1 290.0h0.8M178.4 285.4h0.8M173.3 286.4h0.8M180.8 291.7h0.8M193.8 288.5h0.8M177.1 289.1h0.8M188.4 290.4h0.8M183.6 284.0h0.8M182.6 290.3h0.8M168.9 281.6h0.8M181.8 290.6h0.8M165.1 289.9h0.8M168.5 287.0h0.8M185.7 284.3h0.8M183.1 286.1h0.8M192.3 286.4h0.8M179.5 288.5h0.8M172.5 287.3h0.8M174.5 290.8h0.8M194.5 289.5h0.8M194.3 289.8h0.8M199.2 292.2h0.8M195.7 289.6h0.8M196.0 293.8h0.8M195.5 294.4h0.8M205.9 295.6h0.8M203.1 290.3h0.8M195.6 293.6h0.8M199.0 290.3h0.8M200.0 301.4h0.8M200.0 290.0h0.8M193.8 288.5h0.8M198.0 297.5h0.8M200.7 300.1h0.8M198.2 294.1h0.8M203.7 295.3h0.8M203.4 298.8h0.8M193.4 289.6h0.8M196.4 290.9h0.8M198.1 290.5h0.8M202.8 296.6h0.8M200.5 296.2h0.8M192.6 292.8h0.8M194.4 296.5h0.8M191.2 293.1h0.8M193.6 290.7h0.8M200.2 290.1h0.8M195.2 293.2h0.8M191.6 283.5h0.8M198.5 295.4h0.8M203.1 296.1h0.8M198.3 295.9h0.8M197.5 294.1h0.8M186.5 287.5h0.8M193.6 287.6h0.8M197.4 291.5h0.8M203.9 300.1h0.8M200.6 299.6h0.8M197.5 286.7h0.8M192.1 291.4h0.8M197.5 292.5h0.8M196.7 286.0h0.8M198.7 294.1h0.8M199.7 292.2h0.8M195.2 293.0h0.8M189.0 287.6h0.8M195.7 295.5h0.8M202.8 299.5h0.8M196.7 290.2h0.8M197.9 294.7h0.8M196.1 283.3h0.8M198.5 291.5h0.8M190.3 286.5h0.8M196.1 290.0h0.8M196.0 291.7h0.8M192.9 292.0h0.8M195.4 286.8h0.8M192.8 287.5h0.8M200.3 293.8h0.8M195.4 291.4h0.8M195.0 290.0h0.8M199.2 293.5h0.8M196.9 291.6h0.8M195.4 293.3h0.8M196.4 293.3h0.8M190.1 292.9h0.8M195.3 287.9h0.8M200.1 297.2h0.8M201.4 296.0h0.8M196.9 291.7h0.8M202.8 293.5h0.8M199.6 296.4h0.8M200.6 287.6h0.8M197.1 285.2h0.8M200.7 295.7h0.8M195.4 287.4h0.8M194.4 287.8h0.8M198.6 292.6h0.8M203.8 292.3h0.8M191.3 295.6h0.8M193.9 286.1h0.8M199.3 297.6h0.8M197.3 293.5h0.8M200.0 291.2h0.8M197.3 294.7h0.8M195.4 297.1h0.8M191.5 286.6h0.8M195.2 289.0h0.8M195.5 293.3h0.8M204.2 290.5h0.8M193.9 286.4h0.8M197.3 290.2h0.8M193.7 289.2h0.8M198.3 290.0h0.8M197.0 288.1h0.8M203.5 294.7h0.8M202.6 300.2h0.8M197.6 287.7h0.8M198.7 289.6h0.8M200.0 291.1h0.8M199.3 294.1h0.8M191.2 294.0h0.8M208.5 294.2h0.8M196.8 289.1h0.8M197.3 292.3h0.8M198.7 295.3h0.8M199.6 290.4h0.8M189.0 288.2h0.8M196.5 294.0h0.8M203.1 295.7h0.8M195.3 291.6h0.8M195.4 291.8h0.8M194.5 292.3h0.8M193.9 286.9h0.8M197.8 293.7h0.8M198.9 289.2h0.8M190.2 284.6h0.8M202.1 296.8h0.8M199.1 297.1h0.8M201.2 297.7h0.8M197.2 297.7h0.8M203.1 292.0h0.8M200.4 298.3h0.8M206.7 295.0h0.8M198.8 294.1h0.8M193.7 290.2h0.8M197.8 288.3h0.8M198.3 291.0h0.8M193.7 288.1h0.8M200.3 296.6h0.8M195.7 290.8h0.8M188.3 288.1h0.8M203.6 296.5h0.8M201.4 294.4h0.8M194.3 290.8h0.8M202.0 296.7h0.8M193.6 288.2h0.8M199.8 294.5h0.8M203.6 292.3h0.8M189.5 288.9h0.8M191.2 288.2h0.8M195.7 291.7h0.8M206.0 298.3h0.8M195.9 289.5h0.8M202.1 294.1h0.8M192.2 291.3h0.8M193.2 292.2h0.8M204.3 292.1h0.8M198.4 291.6h0.8M202.3 310.0h0.8M194.7 298.5h0.8M209.3 304.4h0.8M198.8 301.6h0.8M204.4 307.4h0.8M207.3 313.3h0.8M206.9 309.0h0.8M206.2 301.2h0.8M206.4 312.8h0.8M201.7 307.5h0.8M207.6 307.2h0.8M204.5 300.8h0.8M201.2 306.9h0.8M210.9 303.2h0.8M209.6 306.6h0.8M200.1 293.6h0.8M202.4 307.0h0.8M198.2 302.9h0.8M203.9 307.9h0.8M205.1 306.1h0.8M207.2 308.8h0.8M202.8 303.3h0.8M202.8 294.3h0.8M203.9 301.3h0.8M207.0 307.0h0.8M205.2 302.3h0.8M205.4 305.7h0.8M196.5 294.1h0.8M196.5 303.9h0.8M205.1 305.8h0.8M206.9 309.9h0.8M197.9 299.1h0.8M202.5 307.3h0.8M206.1 302.5h0.8M209.6 309.5h0.8M204.7 305.5h0.8M205.1 296.8h0.8M200.2 300.5h0.8M206.1 308.7h0.8M202.2 322.9h0.8M192.2 297.3h0.8M211.7 311.7h0.8M196.6 306.5h0.8M205.5 311.8h0.8M208.8 307.0h0.8M200.9 302.2h0.8M202.2 298.8h0.8M203.8 304.5h0.8M200.6 291.4h0.8M205.5 301.4h0.8M200.2 308.4h0.8M199.7 308.4h0.8M202.8 295.6h0.8M202.4 301.4h0.8M204.0 303.7h0.8M204.8 308.7h0.8M204.0 310.7h0.8M199.2 303.1h0.8M204.8 306.9h0.8M210.6 306.1h0.8M206.6 305.5h0.8M203.7 299.0h0.8M203.5 302.1h0.8M213.0 305.6h0.8M206.2 313.2h0.8M207.1 302.6h0.8M201.2 311.1h0.8M198.4 303.4h0.8M208.6 298.8h0.8M200.0 299.1h0.8M201.1 306.9h0.8M199.2 300.2h0.8M208.0 311.3h0.8M201.8 299.7h0.8M198.1 304.4h0.8M203.5 308.1h0.8M204.3 306.8h0.8M197.0 305.8h0.8M195.6 309.3h0.8M197.5 300.9h0.8M198.7 309.2h0.8M202.9 307.8h0.8M205.9 300.7h0.8M200.0 297.8h0.8M199.8 306.8h0.8M205.2 308.5h0.8M199.6 298.7h0.8M208.0 308.0h0.8M204.3 304.4h0.8M205.6 311.1h0.8M202.0 301.6h0.8M197.3 301.2h0.8M198.9 295.6h0.8M204.2 306.1h0.8M203.6 297.3h0.8M199.7 301.0h0.8M211.6 310.1h0.8M207.3 305.9h0.8M198.9 312.6h0.8M204.6 306.8h0.8M207.0 305.3h0.8M204.7 299.1h0.8M204.2 298.9h0.8M197.0 304.4h0.8M199.0 300.7h0.8M203.1 303.9h0.8M208.8 306.2h0.8M205.7 309.3h0.8M196.6 295.2h0.8M204.8 302.6h0.8M198.7 306.7h0.8M204.9 303.2h0.8M205.8 292.5h0.8M202.9 309.2h0.8M206.0 305.8h0.8M208.3 309.3h0.8M201.8 305.1h0.8M206.4 308.1h0.8M201.0 289.3h0.8M212.0 306.2h0.8M194.1 296.4h0.8M204.3 295.9h0.8M205.1 304.5h0.8M209.0 302.7h0.8M203.5 311.7h0.8M206.4 303.6h0.8M202.5 305.0h0.8M195.7 304.2h0.8M205.2 302.0h0.8M200.4 304.3h0.8M208.3 303.3h0.8M201.8 301.7h0.8M203.1 307.4h0.8M199.0 292.9h0.8M202.2 310.9h0.8M199.6 306.7h0.8M203.9 299.7h0.8M204.3 301.7h0.8M201.4 302.5h0.8M198.4 302.1h0.8M209.6 308.7h0.8M209.0 301.8h0.8M214.3 311.4h0.8M204.6 302.2h0.8M199.1 303.5h0.8M209.2 308.2h0.8M213.6 306.8h0.8M197.0 300.2h0.8M208.8 312.5h0.8M198.6 299.2h0.8M208.3 297.9h0.8M205.9 301.1h0.8M201.9 301.7h0.8M206.7 312.2h0.8M200.9 309.4h0.8M205.7 300.9h0.8M200.0 305.0h0.8M201.8 302.2h0.8M207.0 307.8h0.8M198.0 308.4h0.8M206.1 308.0h0.8M205.8 298.9h0.8M203.8 301.0h0.8M201.6 312.3h0.8M201.3 311.2h0.8M202.2 304.2h0.8M206.8 308.6h0.8M196.8 304.4h0.8M200.4 302.2h0.8M204.6 302.6h0.8M195.0 301.6h0.8M202.6 301.3h0.8M198.5 302.3h0.8M203.4 302.9h0.8M207.6 305.4h0.8M203.8 298.1h0.8M202.1 315.1h0.8M195.3 305.8h0.8M204.3 304.5h0.8M202.8 305.0h0.8M196.9 309.7h0.8M204.9 311.6h0.8M205.4 308.9h0.8M206.4 307.0h0.8M210.1 308.8h0.8M204.6 302.2h0.8M202.5 310.3h0.8M201.4 308.1h0.8M203.6 297.8h0.8M206.6 306.1h0.8M203.1 309.8h0.8M204.8 300.3h0.8M204.6 302.2h0.8M199.9 311.4h0.8M194.2 299.4h0.8M201.2 307.9h0.8M208.3 303.1h0.8M192.4 309.8h0.8M200.0 302.4h0.8M202.0 302.7h0.8M204.1 300.6h0.8M205.8 309.5h0.8M200.3 299.8h0.8M208.1 313.3h0.8M206.0 309.8h0.8M195.0 303.1h0.8M204.2 304.9h0.8M207.3 311.3h0.8M203.5 304.0h0.8M209.8 305.1h0.8M201.1 308.6h0.8M203.0 313.1h0.8M210.5 312.3h0.8M204.5 306.1h0.8M202.0 314.9h0.8M204.8 307.8h0.8M204.8 305.7h0.8M198.3 305.6h0.8M207.9 301.5h0.8M195.3 299.7h0.8M203.0 307.6h0.8M200.7 306.0h0.8M199.9 294.6h0.8M208.2 306.7h0.8M201.3 300.7h0.8M206.1 299.6h0.8M204.4 311.0h0.8M201.8 308.0h0.8M209.7 318.3h0.8M207.9 302.2h0.8M197.8 302.1h0.8M211.8 307.2h0.8M207.6 309.3h0.8M212.7 308.5h0.8M203.0 302.0h0.8M205.0 308.0h0.8M204.5 308.9h0.8M204.9 303.7h0.8M203.6 303.9h0.8M205.1 306.4h0.8M211.5 309.2h0.8M199.9 302.9h0.8M197.0 302.0h0.8M205.4 303.6h0.8M209.2 308.0h0.8M200.7 308.2h0.8M206.6 305.7h0.8M205.4 301.7h0.8M208.4 299.5h0.8M202.4 299.2h0.8M203.4 296.8h0.8M204.6 305.4h0.8M198.2 304.9h0.8M196.5 300.0h0.8M203.7 303.4h0.8M206.1 299.6h0.8M196.7 309.3h0.8M197.7 310.9h0.8M206.0 310.0h0.8M202.9 300.5h0.8M203.2 305.1h0.8M201.2 298.7h0.8M205.9 302.7h0.8M206.7 308.0h0.8M209.7 311.7h0.8M194.1 303.5h0.8M204.0 316.8h0.8M202.7 303.4h0.8M202.4 304.1h0.8M200.8 312.6h0.8M205.2 308.3h0.8M208.9 300.7h0.8M210.2 306.1h0.8M205.2 303.1h0.8M200.9 302.0h0.8M205.4 308.0h0.8M204.5 310.8h0.8M202.0 298.2h0.8M199.6 302.0h0.8M208.0 310.4h0.8M207.2 309.3h0.8M200.6 301.6h0.8M195.2 302.7h0.8M200.5 305.1h0.8M204.7 302.5h0.8M212.0 306.6h0.8M199.6 309.6h0.8M200.6 312.5h0.8M206.9 300.1h0.8M202.7 309.6h0.8M206.1 310.3h0.8M206.5 308.7h0.8M202.2 303.3h0.8M205.0 309.2h0.8M206.7 302.6h0.8M201.5 315.5h0.8M206.5 304.8h0.8M198.6 304.0h0.8M205.4 304.4h0.8M199.0 310.3h0.8M202.5 306.5h0.8M205.2 303.4h0.8M206.7 303.1h0.8M200.8 312.8h0.8M204.1 306.9h0.8M200.3 307.5h0.8M205.4 306.2h0.8M206.6 308.2h0.8M198.8 303.0h0.8M201.1 299.4h0.8M205.9 295.4h0.8M205.1 304.4h0.8M209.2 311.1h0.8M206.6 308.4h0.8M196.2 300.1h0.8M199.1 304.0h0.8M204.8 303.7h0.8M200.7 304.4h0.8M202.0 302.2h0.8M212.8 306.2h0.8M200.7 304.0h0.8M203.4 309.1h0.8M211.6 302.3h0.8M211.0 309.6h0.8M201.3 300.3h0.8M209.4 300.3h0.8M200.4 310.3h0.8M194.2 298.1h0.8M208.8 307.5h0.8M202.0 307.9h0.8M157.2 304.8h0.8M179.0 307.8h0.8M156.6 323.5h0.8M173.0 315.0h0.8M178.1 311.1h0.8M168.3 310.6h0.8M155.8 306.1h0.8M182.5 309.6h0.8M169.9 311.4h0.8M178.0 315.4h0.8M172.7 307.3h0.8M164.0 308.3h0.8M160.1 312.0h0.8M169.1 313.7h0.8M172.0 307.5h0.8M167.3 313.6h0.8M166.0 310.7h0.8M187.2 317.9h0.8M174.6 312.4h0.8M178.8 313.8h0.8M171.0 306.7h0.8M159.8 317.9h0.8M184.6 319.6h0.8M173.5 315.8h0.8M183.4 314.7h0.8M187.1 312.3h0.8M167.9 321.0h0.8M163.4 314.9h0.8M170.9 316.6h0.8M167.0 310.0h0.8M167.5 316.8h0.8M168.5 303.8h0.8M165.2 310.3h0.8M173.4 305.0h0.8M188.8 300.7h0.8M171.2 307.2h0.8M169.1 310.0h0.8M161.5 305.8h0.8M169.3 305.1h0.8M178.0 305.5h0.8M185.5 303.8h0.8M188.7 309.1h0.8M192.8 312.1h0.8M174.9 314.4h0.8M167.3 303.2h0.8M180.1 326.3h0.8M175.3 307.0h0.8M180.6 309.4h0.8M179.9 319.7h0.8M175.0 314.6h0.8M170.9 305.2h0.8M178.2 310.9h0.8M170.7 307.7h0.8M167.0 313.0h0.8M173.2 303.0h0.8M171.7 317.5h0.8M182.7 309.9h0.8M176.6 308.8h0.8M192.6 314.3h0.8M171.1 316.7h0.8M170.2 308.8h0.8M160.8 306.2h0.8M167.5 307.3h0.8M165.4 311.2h0.8M166.5 319.8h0.8M170.1 304.0h0.8M179.3 310.8h0.8M173.8 308.8h0.8M186.9 307.0h0.8M183.0 311.3h0.8M181.3 311.5h0.8M192.2 308.5h0.8M177.0 309.7h0.8M175.1 305.9h0.8M169.5 305.2h0.8M166.5 313.4h0.8M178.0 312.6h0.8M173.6 306.4h0.8M176.2 305.9h0.8M162.1 316.9h0.8M176.4 310.8h0.8M190.0 310.2h0.8M187.0 306.0h0.8M161.7 304.5h0.8M181.1 314.5h0.8M172.8 302.7h0.8M167.4 314.6h0.8M177.3 306.0h0.8M175.0 323.9h0.8M172.1 303.2h0.8M173.2 313.6h0.8M187.8 312.0h0.8M163.6 309.9h0.8M184.3 307.6h0.8M184.2 304.1h0.8M174.2 310.9h0.8M165.0 311.9h0.8M181.9 309.3h0.8M169.7 313.6h0.8M183.0 317.1h0.8M172.0 308.6h0.8M182.8 316.0h0.8M191.2 311.6h0.8M177.8 310.4h0.8M169.4 327.3h0.8M177.7 308.8h0.8M174.8 311.7h0.8M167.1 302.7h0.8M166.7 307.5h0.8M176.8 313.1h0.8M164.6 319.7h0.8M178.3 308.3h0.8M170.9 309.9h0.8M159.5 316.7h0.8M179.9 312.0h0.8M174.2 309.4h0.8M169.9 303.2h0.8M179.5 305.2h0.8M173.7 308.7h0.8M170.1 313.4h0.8M172.3 305.3h0.8M179.9 318.3h0.8M175.6 312.7h0.8M171.9 319.9h0.8M177.9 306.4h0.8M183.9 321.6h0.8M177.0 305.5h0.8M158.2 305.5h0.8M194.4 306.4h0.8M162.5 310.3h0.8M180.2 309.6h0.8M171.0 312.4h0.8M185.6 313.6h0.8M169.7 308.7h0.8M176.1 305.1h0.8M176.1 318.8h0.8M172.1 308.9h0.8M177.8 306.3h0.8M186.5 316.9h0.8M181.8 312.1h0.8M176.2 313.8h0.8M164.0 308.0h0.8M171.2 317.1h0.8M191.9 310.7h0.8M176.3 312.3h0.8M169.2 308.1h0.8M175.1 317.7h0.8M162.6 315.8h0.8M163.8 315.5h0.8M172.4 305.0h0.8M161.1 309.5h0.8M182.0 307.2h0.8M175.1 306.0h0.8M165.3 308.3h0.8M164.0 311.8h0.8M159.4 319.2h0.8M168.7 307.0h0.8M182.8 308.7h0.8M183.5 305.9h0.8M166.3 306.5h0.8M188.5 301.3h0.8M174.9 320.8h0.8M168.1 317.0h0.8M180.1 314.3h0.8M174.9 309.2h0.8M166.9 311.8h0.8M179.8 309.5h0.8M183.0 315.1h0.8M176.9 309.2h0.8M179.2 312.0h0.8M192.3 312.4h0.8M179.8 304.0h0.8M175.0 319.8h0.8M177.9 316.1h0.8M171.4 308.3h0.8M176.2 304.9h0.8M171.2 323.1h0.8M173.3 307.8h0.8M186.4 313.3h0.8M169.7 311.2h0.8M172.8 307.7h0.8M175.5 311.6h0.8M169.7 309.3h0.8M186.5 319.9h0.8M175.7 298.3h0.8M174.2 303.2h0.8M169.5 302.5h0.8M190.0 310.7h0.8M186.6 299.2h0.8M189.2 312.1h0.8M182.5 309.8h0.8M170.4 299.3h0.8M171.1 299.4h0.8M169.9 302.9h0.8M170.5 322.4h0.8M179.1 313.1h0.8M177.3 309.6h0.8M166.1 315.3h0.8M175.8 304.2h0.8M185.5 319.7h0.8M172.1 315.6h0.8M172.2 315.0h0.8M167.9 306.4h0.8M182.6 318.5h0.8M177.9 315.2h0.8M183.4 313.9h0.8M203.5 318.1h0.8M172.3 310.2h0.8M174.8 313.2h0.8M166.8 312.2h0.8M167.7 308.8h0.8M186.3 313.5h0.8M173.3 316.4h0.8M180.2 318.4h0.8M182.3 305.4h0.8M175.9 303.1h0.8M187.5 311.9h0.8M170.5 311.4h0.8M165.0 312.0h0.8M188.1 308.6h0.8M176.1 310.5h0.8M180.2 317.5h0.8M155.4 310.6h0.8M164.4 306.2h0.8M181.0 319.4h0.8M168.5 316.0h0.8M162.0 312.2h0.8M177.1 305.8h0.8M180.8 315.4h0.8M170.8 307.7h0.8M181.5 315.4h0.8M178.7 317.9h0.8M176.3 312.6h0.8M170.3 313.2h0.8M176.7 321.3h0.8M184.5 308.7h0.8M163.9 305.1h0.8M173.6 306.3h0.8M166.2 307.2h0.8M173.3 304.1h0.8M162.8 314.1h0.8M172.0 311.3h0.8M188.0 306.4h0.8M173.9 322.4h0.8M189.2 318.1h0.8M160.1 307.5h0.8M175.2 304.7h0.8M164.8 318.8h0.8M157.3 306.0h0.8M167.6 325.1h0.8M173.0 307.2h0.8M165.3 307.7h0.8M185.9 309.7h0.8M178.8 306.5h0.8M185.4 322.1h0.8M175.8 308.3h0.8M162.4 314.4h0.8M162.2 337.9h0.8M158.1 316.8h0.8M180.7 337.6h0.8M171.7 325.4h0.8M164.9 325.2h0.8M178.5 321.0h0.8M166.4 329.4h0.8M167.5 316.5h0.8M163.8 325.3h0.8M159.5 329.3h0.8M180.3 325.2h0.8M176.8 330.5h0.8M161.9 337.2h0.8M180.8 327.6h0.8M172.9 328.1h0.8M184.6 324.7h0.8M188.6 335.1h0.8M158.4 333.7h0.8M164.1 325.9h0.8M176.7 330.9h0.8M188.5 316.8h0.8M178.5 316.1h0.8M179.3 317.3h0.8M166.4 317.9h0.8M182.7 320.0h0.8M182.6 328.3h0.8M174.1 324.6h0.8M173.8 336.4h0.8M169.2 321.0h0.8M159.5 336.6h0.8M171.2 319.2h0.8M164.4 318.0h0.8M184.9 322.3h0.8M171.4 334.1h0.8M176.7 329.8h0.8M163.0 335.6h0.8M158.4 327.2h0.8M161.4 322.7h0.8M167.3 317.8h0.8M187.4 331.4h0.8M205.4 295.7h0.8M210.0 298.2h0.8M202.1 296.0h0.8M202.3 296.7h0.8M209.3 291.9h0.8M206.6 284.2h0.8M206.2 285.0h0.8M207.1 297.2h0.8M208.3 300.8h0.8M208.9 297.4h0.8M207.0 299.8h0.8M205.8 304.6h0.8M207.2 298.7h0.8M207.7 300.5h0.8M205.0 298.1h0.8M204.7 304.2h0.8M205.6 295.1h0.8M202.8 292.6h0.8M203.1 288.6h0.8M211.8 290.2h0.8M203.9 297.3h0.8M217.7 284.0h0.8M210.9 296.0h0.8M210.9 295.0h0.8M210.4 301.4h0.8M205.6 285.5h0.8M202.2 294.9h0.8M209.3 299.0h0.8M203.8 295.3h0.8M206.3 297.5h0.8M208.6 291.6h0.8M211.9 290.3h0.8M215.3 295.5h0.8M210.1 294.7h0.8M211.8 291.2h0.8M202.1 299.5h0.8M198.5 287.5h0.8M211.2 297.8h0.8M211.0 289.9h0.8M194.5 286.3h0.8" stroke="#111" stroke-width="0.8" fill="none" opacity="1"/>
<rect x="156.30" y="280.70" width="34.80" height="18.50" fill="none" stroke="#666" stroke-width="0.9" />
<rect x="194.80" y="280.70" width="22.80" height="19.50" fill="none" stroke="#666" stroke-width="0.9" />
<rect x="156.80" y="303.00" width="34.30" height="45.00" fill="none" stroke="#666" stroke-width="0.9" />
<rect x="195.30" y="303.00" width="22.90" height="27.40" fill="none" stroke="#666" stroke-width="0.9" />
<rect x="153.80" y="269.20" width="81.60" height="87.80" fill="none" stroke="#444" stroke-width="0.9" />
<path d="M153.8 269.2V357H235.4" fill="none" stroke="#111" stroke-width="1.2" />
<path d="M152.3 272.2h1.5M152.3 274.4h1.5M152.3 276.6h1.5M152.3 278.8h1.5M152.3 281.0h1.5M152.3 283.2h1.5M152.3 285.4h1.5M152.3 287.6h1.5M152.3 289.8h1.5M152.3 292.0h1.5M152.3 294.2h1.5M152.3 296.4h1.5M152.3 298.6h1.5M152.3 300.8h1.5M152.3 303.0h1.5M152.3 305.2h1.5M152.3 307.4h1.5M152.3 309.6h1.5M152.3 311.8h1.5M152.3 314.0h1.5M152.3 316.2h1.5M152.3 318.4h1.5M152.3 320.6h1.5M152.3 322.8h1.5M152.3 325.0h1.5M152.3 327.2h1.5M152.3 329.4h1.5M152.3 331.6h1.5M152.3 333.8h1.5M152.3 336.0h1.5M152.3 338.2h1.5M152.3 340.4h1.5M152.3 342.6h1.5M152.3 344.8h1.5M152.3 347.0h1.5M152.3 349.2h1.5M152.3 351.4h1.5M152.3 353.6h1.5M152.3 355.8h1.5M155.8 357.0v1.8M158.0 357.0v1.8M160.2 357.0v1.8M162.4 357.0v1.8M164.6 357.0v1.8M166.8 357.0v1.8M169.0 357.0v1.8M171.2 357.0v1.8M173.4 357.0v1.8M175.6 357.0v1.8M177.8 357.0v1.8M180.0 357.0v1.8M182.2 357.0v1.8M184.4 357.0v1.8M186.6 357.0v1.8M188.8 357.0v1.8M191.0 357.0v1.8M193.2 357.0v1.8M195.4 357.0v1.8M197.6 357.0v1.8M199.8 357.0v1.8M202.0 357.0v1.8M204.2 357.0v1.8M206.4 357.0v1.8M208.6 357.0v1.8M210.8 357.0v1.8M213.0 357.0v1.8M215.2 357.0v1.8M217.4 357.0v1.8M219.6 357.0v1.8M221.8 357.0v1.8M224.0 357.0v1.8M226.2 357.0v1.8M228.4 357.0v1.8M230.6 357.0v1.8M232.8 357.0v1.8M150.8 277.6h3M150.8 297.8h3M150.8 319.5h3M150.8 340.8h3M171.0 357.0v3M187.0 357.0v3M208.0 357.0v3M227.0 357.0v3" fill="none" stroke="#333" stroke-width="0.7" />
<text x="151.0" y="279.1" font-size="4.6" text-anchor="end" fill="#222" >10<tspan font-size="3" dy="-1.5">5</tspan></text>
<text x="151.0" y="299.3" font-size="4.6" text-anchor="end" fill="#222" >10<tspan font-size="3" dy="-1.5">4</tspan></text>
<text x="151.0" y="321.0" font-size="4.6" text-anchor="end" fill="#222" >10<tspan font-size="3" dy="-1.5">3</tspan></text>
<text x="151.0" y="342.3" font-size="4.6" text-anchor="end" fill="#222" >0</text>
<text x="171" y="366" font-size="4.6" text-anchor="middle" fill="#222" >0</text>
<text x="187" y="366" font-size="4.6" text-anchor="middle" fill="#222" >10<tspan font-size="3" dy="-1.5">3</tspan></text>
<text x="208" y="366" font-size="4.6" text-anchor="middle" fill="#222" >10<tspan font-size="3" dy="-1.5">4</tspan></text>
<text x="227" y="366" font-size="4.6" text-anchor="middle" fill="#222" >10<tspan font-size="3" dy="-1.5">5</tspan></text>
<text x="142.1" y="358.6" font-size="14" font-weight="bold" textLength="90.5" lengthAdjust="spacingAndGlyphs" transform="rotate(-90 142.1 358.6)" >CD105-Qd655</text>
<text x="148.6" y="387" font-size="14" font-weight="bold" textLength="92.8" lengthAdjust="spacingAndGlyphs" >CD150-PECy7</text>
<path d="M184.3 283V264.6H317.5V255" fill="none" stroke="#2b2b2b" stroke-width="1.8" />
<path d="M317.4 250.4L313.4 258.9L317.4 255.8L321.4 258.9Z" fill="#2b2b2b" stroke="#2b2b2b" stroke-width="0.5" stroke-linejoin="miter"/>
<path d="M208.7 313.5H267" fill="none" stroke="#2b2b2b" stroke-width="1.8" />
<path d="M272.6 313.5L262.6 308.2L266.0 313.5L262.6 318.8Z" fill="#2b2b2b" stroke="#2b2b2b" stroke-width="0.5" stroke-linejoin="miter"/>
<path d="M275.0 316.3 L276.5 308.0 L277.9 299.5 L278.7 287.0 L279.5 276.0 L280.4 281.0 L281.2 286.1 L282.4 281.1 L283.5 295.0 L284.6 307.9 L285.4 304.0 L286.2 301.2 L287.9 291.1 L289.6 282.8 L290.5 286.0 L291.3 287.8 L292.9 286.1 L293.8 293.0 L294.6 299.5 L295.5 309.0 L296.3 318.0 L297.5 310.4 L298.8 321.3 L300.5 336.4 L302.2 347.3 L304.7 350.6 L308.0 354.8 L312.2 357.8 L312.2 357.8 L275.0 357.8 Z" fill="#bdbdbd" stroke="#777" stroke-width="0.6" />
<path d="M275.2 321.3 L276.0 314.0 L277.0 306.2 L277.7 310.0 L278.4 312.9 L279.0 292.0 L279.5 273.5 L280.4 279.0 L281.2 284.4 L282.6 280.2 L283.7 282.8 L285.4 279.4 L286.2 286.0 L287.1 292.8 L288.0 287.0 L288.8 281.1 L290.4 284.4 L291.6 279.0 L292.9 273.5 L293.8 278.0 L294.6 281.9 L296.3 286.1 L297.5 281.1 L298.3 277.0 L299.1 274.4 L299.7 282.0 L300.2 291.1 L300.8 323.0 L302.2 323.8 L303.3 316.3 L304.3 333.0 L305.5 348.1 L307.2 351.5 L310.5 356.5 L313.0 357.4 L356.0 357.5" fill="none" stroke="#111" stroke-width="0.7" stroke-linejoin="round"/>
<rect x="275.00" y="268.50" width="81.20" height="89.30" fill="none" stroke="#444" stroke-width="0.9" />
<path d="M275 268.5V357.8H356.2" fill="none" stroke="#111" stroke-width="1.2" />
<text x="271.5" y="359.3" font-size="4.6" text-anchor="end" fill="#222" >0</text>
<text x="271.5" y="342.24" font-size="4.6" text-anchor="end" fill="#222" >20</text>
<text x="271.5" y="325.18" font-size="4.6" text-anchor="end" fill="#222" >40</text>
<text x="271.5" y="308.12" font-size="4.6" text-anchor="end" fill="#222" >60</text>
<text x="271.5" y="291.06" font-size="4.6" text-anchor="end" fill="#222" >80</text>
<text x="271.5" y="274.0" font-size="4.6" text-anchor="end" fill="#222" >100</text>
<path d="M272.5 357.8h2.5M272.5 340.7h2.5M272.5 323.7h2.5M272.5 306.6h2.5M272.5 289.6h2.5M272.5 272.5h2.5M283.7 357.8v2.5M292.3 357.8v2.5M310.7 357.8v2.5M329.0 357.8v2.5M347.1 357.8v2.5M277.0 357.8v1.5M279.4 357.8v1.5M281.8 357.8v1.5M284.2 357.8v1.5M286.6 357.8v1.5M289.0 357.8v1.5M291.4 357.8v1.5M293.8 357.8v1.5M296.2 357.8v1.5M298.6 357.8v1.5M301.0 357.8v1.5M303.4 357.8v1.5M305.8 357.8v1.5M308.2 357.8v1.5M310.6 357.8v1.5M313.0 357.8v1.5M315.4 357.8v1.5M317.8 357.8v1.5M320.2 357.8v1.5M322.6 357.8v1.5M325.0 357.8v1.5M327.4 357.8v1.5M329.8 357.8v1.5M332.2 357.8v1.5M334.6 357.8v1.5M337.0 357.8v1.5M339.4 357.8v1.5M341.8 357.8v1.5M344.2 357.8v1.5M346.6 357.8v1.5M349.0 357.8v1.5M351.4 357.8v1.5M353.8 357.8v1.5" fill="none" stroke="#333" stroke-width="0.7" />
<text x="283.6884" y="365.8" font-size="4.6" text-anchor="middle" fill="#222" >0</text>
<text x="292.2956" y="365.8" font-size="4.6" text-anchor="middle" fill="#222" >10<tspan font-size="3" dy="-1.5">2</tspan></text>
<text x="310.728" y="365.8" font-size="4.6" text-anchor="middle" fill="#222" >10<tspan font-size="3" dy="-1.5">3</tspan></text>
<text x="328.998" y="365.8" font-size="4.6" text-anchor="middle" fill="#222" >10<tspan font-size="3" dy="-1.5">4</tspan></text>
<text x="347.1056" y="365.8" font-size="4.6" text-anchor="middle" fill="#222" >10<tspan font-size="3" dy="-1.5">5</tspan></text>
<text x="312.7" y="287.6" font-size="11.8" font-weight="bold" textLength="40.9" lengthAdjust="spacingAndGlyphs" >pMegE</text>
<text x="336.5" y="349" font-size="11.2" font-weight="bold" textLength="15.1" lengthAdjust="spacingAndGlyphs" >0%</text>
<text x="292.9" y="387.4" font-size="14" font-weight="bold" textLength="55.9" lengthAdjust="spacingAndGlyphs" >FLT3-PE</text>
<text x="-0.6" y="410.9" font-size="23" font-weight="bold" >B</text>
<line x1="40.6" y1="421.3" x2="40.6" y2="560.8" stroke="#000" stroke-width="1.7" />
<line x1="39.75" y1="559.9" x2="182.1" y2="559.9" stroke="#000" stroke-width="1.8" />
<line x1="35.6" y1="559.9" x2="40.6" y2="559.9" stroke="#000" stroke-width="1.6" />
<text x="34.0" y="563.0" font-size="8.9" font-weight="bold" text-anchor="end" textLength="3.9" lengthAdjust="spacingAndGlyphs" >0</text>
<line x1="35.6" y1="534.62" x2="40.6" y2="534.62" stroke="#000" stroke-width="1.6" />
<text x="34.0" y="537.72" font-size="8.9" font-weight="bold" text-anchor="end" textLength="8.3" lengthAdjust="spacingAndGlyphs" >20</text>
<line x1="35.6" y1="509.34" x2="40.6" y2="509.34" stroke="#000" stroke-width="1.6" />
<text x="34.0" y="512.4399999999999" font-size="8.9" font-weight="bold" text-anchor="end" textLength="8.3" lengthAdjust="spacingAndGlyphs" >40</text>
<line x1="35.6" y1="484.05999999999995" x2="40.6" y2="484.05999999999995" stroke="#000" stroke-width="1.6" />
<text x="34.0" y="487.15999999999997" font-size="8.9" font-weight="bold" text-anchor="end" textLength="8.3" lengthAdjust="spacingAndGlyphs" >60</text>
<line x1="35.6" y1="458.78" x2="40.6" y2="458.78" stroke="#000" stroke-width="1.6" />
<text x="34.0" y="461.88" font-size="8.9" font-weight="bold" text-anchor="end" textLength="8.3" lengthAdjust="spacingAndGlyphs" >80</text>
<line x1="35.6" y1="433.5" x2="40.6" y2="433.5" stroke="#000" stroke-width="1.6" />
<text x="34.0" y="436.6" font-size="8.9" font-weight="bold" text-anchor="end" textLength="12.4" lengthAdjust="spacingAndGlyphs" >100</text>
<rect x="46.80" y="475.10" width="21.20" height="84.80" fill="#000" stroke="none" stroke-width="1" />
<line x1="57.4" y1="465.5" x2="57.4" y2="475.1" stroke="#000" stroke-width="1.4" />
<line x1="51.699999999999996" y1="465.5" x2="63.1" y2="465.5" stroke="#000" stroke-width="1.4" />
<rect x="81.80" y="551.50" width="21.50" height="8.40" fill="#000" stroke="none" stroke-width="1" />
<line x1="92.55" y1="546" x2="92.55" y2="551.5" stroke="#000" stroke-width="1.4" />
<line x1="86.85" y1="546" x2="98.25" y2="546" stroke="#000" stroke-width="1.4" />
<line x1="128.15" y1="469.5" x2="128.15" y2="476.9" stroke="#000" stroke-width="1.4" />
<line x1="122.45" y1="469.5" x2="133.85" y2="469.5" stroke="#000" stroke-width="1.4" />
<rect x="118.10" y="477.70" width="20.10" height="82.20" fill="#fff" stroke="#000" stroke-width="1.6" />
<rect x="117.30" y="511.30" width="21.70" height="48.60" fill="#000" stroke="none" stroke-width="1" />
<line x1="128.15" y1="510.6" x2="128.15" y2="511.3" stroke="#000" stroke-width="1.4" />
<line x1="122.45" y1="510.6" x2="133.85" y2="510.6" stroke="#000" stroke-width="1.4" />
<rect x="153.80" y="475.50" width="19.70" height="84.40" fill="#fff" stroke="#000" stroke-width="1.6" />
<rect x="153.00" y="493.00" width="21.30" height="66.90" fill="#000" stroke="none" stroke-width="1" />
<line x1="163.65" y1="490.3" x2="163.65" y2="493" stroke="#000" stroke-width="1.4" />
<line x1="157.95000000000002" y1="490.3" x2="169.35" y2="490.3" stroke="#000" stroke-width="1.4" />
<text x="45" y="572.2" font-size="10.8" font-weight="bold" textLength="21" lengthAdjust="spacingAndGlyphs" font-style="italic" >Flt3</text>
<text x="76.9" y="572.2" font-size="10.8" font-weight="bold" textLength="28.299999999999997" lengthAdjust="spacingAndGlyphs" font-style="italic" >Csf1r</text>
<text x="111.3" y="571.3" font-size="10.8" font-weight="bold" textLength="28.299999999999997" lengthAdjust="spacingAndGlyphs" font-style="italic" >Csf2r</text>
<text x="148.6" y="571.3" font-size="10.8" font-weight="bold" textLength="27.599999999999994" lengthAdjust="spacingAndGlyphs" font-style="italic" >Csf3r</text>
<line x1="50.1" y1="578.9" x2="169.5" y2="578.9" stroke="#000" stroke-width="1.2" />
<text x="87.4" y="593.9" font-size="11.8" font-weight="bold" textLength="45.9" lengthAdjust="spacingAndGlyphs" >preGMP</text>
<rect x="52.55" y="427.95" width="16.80" height="5.50" fill="#fff" stroke="#000" stroke-width="1.5" />
<rect x="51.80" y="439.20" width="18.50" height="7.80" fill="#000" stroke="none" stroke-width="1" />
<text x="71.69999999999999" y="433.9" font-size="9.2" font-weight="bold" textLength="21.3" lengthAdjust="spacingAndGlyphs" >Total</text>
<text x="71.69999999999999" y="446.09999999999997" font-size="9.2" font-weight="bold" textLength="35.6" lengthAdjust="spacingAndGlyphs" ><tspan font-style="italic">Flt3</tspan> pos</text>
<text x="18.9" y="543.1" font-size="12.9" font-weight="bold" textLength="105.5" lengthAdjust="spacingAndGlyphs" transform="rotate(-90 18.9 543.1)" >% of <tspan font-style="italic">Kit</tspan> pos cells</text>
<line x1="215.5" y1="421.3" x2="215.5" y2="559.4" stroke="#000" stroke-width="1.7" />
<line x1="214.65" y1="558.5" x2="358" y2="558.5" stroke="#000" stroke-width="1.8" />
<line x1="210.5" y1="558.5" x2="215.5" y2="558.5" stroke="#000" stroke-width="1.6" />
<text x="208.9" y="561.6" font-size="8.9" font-weight="bold" text-anchor="end" textLength="3.9" lengthAdjust="spacingAndGlyphs" >0</text>
<line x1="210.5" y1="533.46" x2="215.5" y2="533.46" stroke="#000" stroke-width="1.6" />
<text x="208.9" y="536.5600000000001" font-size="8.9" font-weight="bold" text-anchor="end" textLength="8.3" lengthAdjust="spacingAndGlyphs" >20</text>
<line x1="210.5" y1="508.42" x2="215.5" y2="508.42" stroke="#000" stroke-width="1.6" />
<text x="208.9" y="511.52000000000004" font-size="8.9" font-weight="bold" text-anchor="end" textLength="8.3" lengthAdjust="spacingAndGlyphs" >40</text>
<line x1="210.5" y1="483.38" x2="215.5" y2="483.38" stroke="#000" stroke-width="1.6" />
<text x="208.9" y="486.48" font-size="8.9" font-weight="bold" text-anchor="end" textLength="8.3" lengthAdjust="spacingAndGlyphs" >60</text>
<line x1="210.5" y1="458.34000000000003" x2="215.5" y2="458.34000000000003" stroke="#000" stroke-width="1.6" />
<text x="208.9" y="461.44000000000005" font-size="8.9" font-weight="bold" text-anchor="end" textLength="8.3" lengthAdjust="spacingAndGlyphs" >80</text>
<line x1="210.5" y1="433.3" x2="215.5" y2="433.3" stroke="#000" stroke-width="1.6" />
<text x="208.9" y="436.40000000000003" font-size="8.9" font-weight="bold" text-anchor="end" textLength="12.4" lengthAdjust="spacingAndGlyphs" >100</text>
<rect x="221.80" y="530.00" width="21.20" height="28.50" fill="#000" stroke="none" stroke-width="1" />
<line x1="232.4" y1="519.9" x2="232.4" y2="530" stroke="#000" stroke-width="1.4" />
<line x1="226.70000000000002" y1="519.9" x2="238.1" y2="519.9" stroke="#000" stroke-width="1.4" />
<line x1="268.1" y1="506" x2="268.1" y2="510.5" stroke="#000" stroke-width="1.4" />
<line x1="262.40000000000003" y1="506" x2="273.8" y2="506" stroke="#000" stroke-width="1.4" />
<rect x="258.30" y="511.30" width="19.60" height="47.20" fill="#fff" stroke="#000" stroke-width="1.6" />
<rect x="257.50" y="535.50" width="21.20" height="23.00" fill="#000" stroke="none" stroke-width="1" />
<line x1="268.1" y1="519.4" x2="268.1" y2="535.5" stroke="#000" stroke-width="1.4" />
<line x1="262.40000000000003" y1="519.4" x2="273.8" y2="519.4" stroke="#000" stroke-width="1.4" />
<line x1="303.15" y1="429.6" x2="303.15" y2="436.8" stroke="#000" stroke-width="1.4" />
<line x1="297.45" y1="429.6" x2="308.84999999999997" y2="429.6" stroke="#000" stroke-width="1.4" />
<rect x="293.30" y="437.60" width="19.70" height="120.90" fill="#fff" stroke="#000" stroke-width="1.6" />
<rect x="292.50" y="535.80" width="21.30" height="22.70" fill="#000" stroke="none" stroke-width="1" />
<line x1="303.15" y1="533.3" x2="303.15" y2="535.8" stroke="#000" stroke-width="1.4" />
<line x1="297.45" y1="533.3" x2="308.84999999999997" y2="533.3" stroke="#000" stroke-width="1.4" />
<line x1="338.9" y1="427.8" x2="338.9" y2="436.1" stroke="#000" stroke-width="1.4" />
<line x1="333.2" y1="427.8" x2="344.59999999999997" y2="427.8" stroke="#000" stroke-width="1.4" />
<rect x="329.10" y="436.90" width="19.60" height="121.60" fill="#fff" stroke="#000" stroke-width="1.6" />
<rect x="328.30" y="534.00" width="21.20" height="24.50" fill="#000" stroke="none" stroke-width="1" />
<line x1="338.9" y1="529.5" x2="338.9" y2="534" stroke="#000" stroke-width="1.4" />
<line x1="333.2" y1="529.5" x2="344.59999999999997" y2="529.5" stroke="#000" stroke-width="1.4" />
<text x="220.1" y="571.8" font-size="10.8" font-weight="bold" textLength="20.30000000000001" lengthAdjust="spacingAndGlyphs" font-style="italic" >Flt3</text>
<text x="251.5" y="571.8" font-size="10.8" font-weight="bold" textLength="28.30000000000001" lengthAdjust="spacingAndGlyphs" font-style="italic" >Csf1r</text>
<text x="286.1" y="571.3" font-size="10.8" font-weight="bold" textLength="28.299999999999955" lengthAdjust="spacingAndGlyphs" font-style="italic" >Csf2r</text>
<text x="323.2" y="571.3" font-size="10.8" font-weight="bold" textLength="28.5" lengthAdjust="spacingAndGlyphs" font-style="italic" >Csf3r</text>
<line x1="224.2" y1="578.3" x2="344.8" y2="578.3" stroke="#000" stroke-width="1.2" />
<text x="270.8" y="593.9" font-size="11.8" font-weight="bold" textLength="26.4" lengthAdjust="spacingAndGlyphs" >GMP</text>
<rect x="227.55" y="426.15" width="16.80" height="5.50" fill="#fff" stroke="#000" stroke-width="1.5" />
<rect x="226.80" y="437.40" width="18.50" height="7.80" fill="#000" stroke="none" stroke-width="1" />
<text x="246.70000000000002" y="432.09999999999997" font-size="9.2" font-weight="bold" textLength="21.3" lengthAdjust="spacingAndGlyphs" >Total</text>
<text x="246.70000000000002" y="444.29999999999995" font-size="9.2" font-weight="bold" textLength="35.6" lengthAdjust="spacingAndGlyphs" ><tspan font-style="italic">Flt3</tspan> pos</text>
<text x="196.1" y="542.5" font-size="12.9" font-weight="bold" textLength="105.5" lengthAdjust="spacingAndGlyphs" transform="rotate(-90 196.1 542.5)" >% of <tspan font-style="italic">Kit</tspan> pos cells</text>
<text x="0.7" y="629.7" font-size="23" font-weight="bold" >C</text>
<line x1="50.8" y1="639.4" x2="50.8" y2="784.8" stroke="#000" stroke-width="2" />
<line x1="49.8" y1="783.8" x2="312.6" y2="783.8" stroke="#000" stroke-width="2.1" />
<line x1="45.599999999999994" y1="783.8" x2="50.8" y2="783.8" stroke="#000" stroke-width="1.8" />
<text x="43.5" y="788.0999999999999" font-size="11.2" font-weight="bold" text-anchor="end" >0</text>
<line x1="45.599999999999994" y1="756.76" x2="50.8" y2="756.76" stroke="#000" stroke-width="1.8" />
<text x="43.5" y="761.06" font-size="11.2" font-weight="bold" text-anchor="end" >20</text>
<line x1="45.599999999999994" y1="729.7199999999999" x2="50.8" y2="729.7199999999999" stroke="#000" stroke-width="1.8" />
<text x="43.5" y="734.0199999999999" font-size="11.2" font-weight="bold" text-anchor="end" >40</text>
<line x1="45.599999999999994" y1="702.68" x2="50.8" y2="702.68" stroke="#000" stroke-width="1.8" />
<text x="43.5" y="706.9799999999999" font-size="11.2" font-weight="bold" text-anchor="end" >60</text>
<line x1="45.599999999999994" y1="675.64" x2="50.8" y2="675.64" stroke="#000" stroke-width="1.8" />
<text x="43.5" y="679.9399999999999" font-size="11.2" font-weight="bold" text-anchor="end" >80</text>
<line x1="45.599999999999994" y1="648.5999999999999" x2="50.8" y2="648.5999999999999" stroke="#000" stroke-width="1.8" />
<text x="43.5" y="652.8999999999999" font-size="11.2" font-weight="bold" text-anchor="end" >100</text>
<line x1="99.2" y1="750.5" x2="99.2" y2="754.2" stroke="#000" stroke-width="1.7" />
<line x1="93.2" y1="750.5" x2="105.2" y2="750.5" stroke="#000" stroke-width="1.7" />
<rect x="88.70" y="755.20" width="21.00" height="28.60" fill="#fff" stroke="#000" stroke-width="2" />
<line x1="132.05" y1="753.2" x2="132.05" y2="759.8" stroke="#000" stroke-width="1.7" />
<line x1="126.05000000000001" y1="753.2" x2="138.05" y2="753.2" stroke="#000" stroke-width="1.7" />
<rect x="121.40" y="760.80" width="21.30" height="23.00" fill="#fff" stroke="#000" stroke-width="2" />
<rect x="120.40" y="774.60" width="23.30" height="9.20" fill="#000" stroke="none" stroke-width="1" />
<line x1="132.05" y1="766" x2="132.05" y2="774.6" stroke="#000" stroke-width="1.7" />
<line x1="126.35000000000001" y1="766" x2="137.75" y2="766" stroke="#000" stroke-width="1.7" />
<line x1="164.8" y1="713.4" x2="164.8" y2="718.3" stroke="#000" stroke-width="1.7" />
<line x1="158.8" y1="713.4" x2="170.8" y2="713.4" stroke="#000" stroke-width="1.7" />
<rect x="154.20" y="719.30" width="21.20" height="64.50" fill="#fff" stroke="#000" stroke-width="2" />
<rect x="153.20" y="747.20" width="23.20" height="36.60" fill="#000" stroke="none" stroke-width="1" />
<line x1="164.8" y1="742.9" x2="164.8" y2="747.2" stroke="#000" stroke-width="1.7" />
<line x1="159.10000000000002" y1="742.9" x2="170.5" y2="742.9" stroke="#000" stroke-width="1.7" />
<line x1="197.6" y1="750.3" x2="197.6" y2="757.8" stroke="#000" stroke-width="1.7" />
<line x1="191.6" y1="750.3" x2="203.6" y2="750.3" stroke="#000" stroke-width="1.7" />
<rect x="187.20" y="758.80" width="20.80" height="25.00" fill="#fff" stroke="#000" stroke-width="2" />
<rect x="186.20" y="781.60" width="22.80" height="2.20" fill="#000" stroke="none" stroke-width="1" />
<line x1="197.6" y1="778.8" x2="197.6" y2="781.6" stroke="#000" stroke-width="1.7" />
<line x1="191.9" y1="778.8" x2="203.29999999999998" y2="778.8" stroke="#000" stroke-width="1.7" />
<line x1="230.3" y1="680" x2="230.3" y2="690.8" stroke="#000" stroke-width="1.7" />
<line x1="224.3" y1="680" x2="236.3" y2="680" stroke="#000" stroke-width="1.7" />
<rect x="219.80" y="691.80" width="21.00" height="92.00" fill="#fff" stroke="#000" stroke-width="2" />
<rect x="218.80" y="762.40" width="23.00" height="21.40" fill="#000" stroke="none" stroke-width="1" />
<line x1="230.3" y1="750.7" x2="230.3" y2="762.4" stroke="#000" stroke-width="1.7" />
<line x1="224.60000000000002" y1="750.7" x2="236.0" y2="750.7" stroke="#000" stroke-width="1.7" />
<line x1="263.15" y1="746.4" x2="263.15" y2="752.2" stroke="#000" stroke-width="1.7" />
<line x1="257.15" y1="746.4" x2="269.15" y2="746.4" stroke="#000" stroke-width="1.7" />
<rect x="253.00" y="753.20" width="20.30" height="30.60" fill="#fff" stroke="#000" stroke-width="2" />
<rect x="252.00" y="775.00" width="22.30" height="8.80" fill="#000" stroke="none" stroke-width="1" />
<line x1="263.15" y1="768.3" x2="263.15" y2="775" stroke="#000" stroke-width="1.7" />
<line x1="257.45" y1="768.3" x2="268.84999999999997" y2="768.3" stroke="#000" stroke-width="1.7" />
<rect x="285.90" y="727.00" width="19.90" height="56.80" fill="#fff" stroke="#000" stroke-width="2" />
<rect x="284.90" y="753.40" width="21.90" height="30.40" fill="#000" stroke="none" stroke-width="1" />
<line x1="295.85" y1="750.7" x2="295.85" y2="753.4" stroke="#000" stroke-width="1.7" />
<line x1="290.15000000000003" y1="750.7" x2="301.55" y2="750.7" stroke="#000" stroke-width="1.7" />
<text x="155.4" y="663.7" font-size="14" font-weight="bold" textLength="57" lengthAdjust="spacingAndGlyphs" >preGMP</text>
<rect x="54.50" y="645.50" width="21.90" height="6.30" fill="#fff" stroke="#000" stroke-width="1.8" />
<rect x="54.70" y="658.20" width="24.30" height="8.80" fill="#000" stroke="none" stroke-width="1" />
<text x="79.7" y="652.2" font-size="11.4" font-weight="bold" textLength="27.3" lengthAdjust="spacingAndGlyphs" >Total</text>
<text x="80.9" y="666.5" font-size="11" font-weight="bold" textLength="45.1" lengthAdjust="spacingAndGlyphs" >&gt;50cells</text>
<text x="44" y="800.9" font-size="10.3" font-weight="bold" text-anchor="end" textLength="12" lengthAdjust="spacingAndGlyphs" >FL</text>
<text x="65.2" y="802.75" font-size="13" font-weight="bold" text-anchor="middle" stroke="#000" stroke-width="0.2">-</text>
<text x="97.8" y="801.03" font-size="10.3" font-weight="bold" text-anchor="middle" stroke="#000" stroke-width="0.25">+</text>
<text x="132" y="802.75" font-size="13" font-weight="bold" text-anchor="middle" stroke="#000" stroke-width="0.2">-</text>
<text x="165.3" y="801.03" font-size="10.3" font-weight="bold" text-anchor="middle" stroke="#000" stroke-width="0.25">+</text>
<text x="199.3" y="802.75" font-size="13" font-weight="bold" text-anchor="middle" stroke="#000" stroke-width="0.2">-</text>
<text x="233.2" y="801.03" font-size="10.3" font-weight="bold" text-anchor="middle" stroke="#000" stroke-width="0.25">+</text>
<text x="267.3" y="802.75" font-size="13" font-weight="bold" text-anchor="middle" stroke="#000" stroke-width="0.2">-</text>
<text x="300.5" y="801.03" font-size="10.3" font-weight="bold" text-anchor="middle" stroke="#000" stroke-width="0.25">+</text>
<text x="44" y="813.2" font-size="10.3" font-weight="bold" text-anchor="end" textLength="43.2" lengthAdjust="spacingAndGlyphs" >GM-CSF</text>
<text x="65.2" y="815.05" font-size="13" font-weight="bold" text-anchor="middle" stroke="#000" stroke-width="0.2">-</text>
<text x="97.8" y="815.05" font-size="13" font-weight="bold" text-anchor="middle" stroke="#000" stroke-width="0.2">-</text>
<text x="132" y="813.33" font-size="10.3" font-weight="bold" text-anchor="middle" stroke="#000" stroke-width="0.25">+</text>
<text x="165.3" y="813.33" font-size="10.3" font-weight="bold" text-anchor="middle" stroke="#000" stroke-width="0.25">+</text>
<text x="199.3" y="815.05" font-size="13" font-weight="bold" text-anchor="middle" stroke="#000" stroke-width="0.2">-</text>
<text x="233.2" y="815.05" font-size="13" font-weight="bold" text-anchor="middle" stroke="#000" stroke-width="0.2">-</text>
<text x="267.3" y="815.05" font-size="13" font-weight="bold" text-anchor="middle" stroke="#000" stroke-width="0.2">-</text>
<text x="300.5" y="815.05" font-size="13" font-weight="bold" text-anchor="middle" stroke="#000" stroke-width="0.2">-</text>
<text x="44" y="825.5" font-size="10.3" font-weight="bold" text-anchor="end" textLength="34.8" lengthAdjust="spacingAndGlyphs" >G-CSF</text>
<text x="65.2" y="827.35" font-size="13" font-weight="bold" text-anchor="middle" stroke="#000" stroke-width="0.2">-</text>
<text x="97.8" y="827.35" font-size="13" font-weight="bold" text-anchor="middle" stroke="#000" stroke-width="0.2">-</text>
<text x="132" y="827.35" font-size="13" font-weight="bold" text-anchor="middle" stroke="#000" stroke-width="0.2">-</text>
<text x="165.3" y="827.35" font-size="13" font-weight="bold" text-anchor="middle" stroke="#000" stroke-width="0.2">-</text>
<text x="199.3" y="825.63" font-size="10.3" font-weight="bold" text-anchor="middle" stroke="#000" stroke-width="0.25">+</text>
<text x="233.2" y="825.63" font-size="10.3" font-weight="bold" text-anchor="middle" stroke="#000" stroke-width="0.25">+</text>
<text x="267.3" y="827.35" font-size="13" font-weight="bold" text-anchor="middle" stroke="#000" stroke-width="0.2">-</text>
<text x="300.5" y="827.35" font-size="13" font-weight="bold" text-anchor="middle" stroke="#000" stroke-width="0.2">-</text>
<text x="44" y="837.8" font-size="10.3" font-weight="bold" text-anchor="end" textLength="35.6" lengthAdjust="spacingAndGlyphs" >M-CSF</text>
<text x="65.2" y="839.65" font-size="13" font-weight="bold" text-anchor="middle" stroke="#000" stroke-width="0.2">-</text>
<text x="97.8" y="839.65" font-size="13" font-weight="bold" text-anchor="middle" stroke="#000" stroke-width="0.2">-</text>
<text x="132" y="839.65" font-size="13" font-weight="bold" text-anchor="middle" stroke="#000" stroke-width="0.2">-</text>
<text x="165.3" y="839.65" font-size="13" font-weight="bold" text-anchor="middle" stroke="#000" stroke-width="0.2">-</text>
<text x="199.3" y="839.65" font-size="13" font-weight="bold" text-anchor="middle" stroke="#000" stroke-width="0.2">-</text>
<text x="233.2" y="839.65" font-size="13" font-weight="bold" text-anchor="middle" stroke="#000" stroke-width="0.2">-</text>
<text x="267.3" y="837.93" font-size="10.3" font-weight="bold" text-anchor="middle" stroke="#000" stroke-width="0.25">+</text>
<text x="300.5" y="837.93" font-size="10.3" font-weight="bold" text-anchor="middle" stroke="#000" stroke-width="0.25">+</text>
<text x="19.1" y="769.5" font-size="13.4" font-weight="bold" textLength="115" lengthAdjust="spacingAndGlyphs" transform="rotate(-90 19.1 769.5)" >Clones / 120 cells</text>
<text x="63.8" y="781.7" font-size="13" textLength="7.4" lengthAdjust="spacingAndGlyphs" >0</text>
<line x1="47.9" y1="854.5" x2="47.9" y2="998.9" stroke="#000" stroke-width="2" />
<line x1="46.9" y1="997.9" x2="318.7" y2="997.9" stroke="#000" stroke-width="2.1" />
<line x1="42.699999999999996" y1="997.9" x2="47.9" y2="997.9" stroke="#000" stroke-width="1.8" />
<text x="40.6" y="1002.1999999999999" font-size="11.2" font-weight="bold" text-anchor="end" >0</text>
<line x1="42.699999999999996" y1="971.0" x2="47.9" y2="971.0" stroke="#000" stroke-width="1.8" />
<text x="40.6" y="975.3" font-size="11.2" font-weight="bold" text-anchor="end" >20</text>
<line x1="42.699999999999996" y1="944.1" x2="47.9" y2="944.1" stroke="#000" stroke-width="1.8" />
<text x="40.6" y="948.4" font-size="11.2" font-weight="bold" text-anchor="end" >40</text>
<line x1="42.699999999999996" y1="917.1999999999999" x2="47.9" y2="917.1999999999999" stroke="#000" stroke-width="1.8" />
<text x="40.6" y="921.4999999999999" font-size="11.2" font-weight="bold" text-anchor="end" >60</text>
<line x1="42.699999999999996" y1="890.3" x2="47.9" y2="890.3" stroke="#000" stroke-width="1.8" />
<text x="40.6" y="894.5999999999999" font-size="11.2" font-weight="bold" text-anchor="end" >80</text>
<line x1="42.699999999999996" y1="863.4" x2="47.9" y2="863.4" stroke="#000" stroke-width="1.8" />
<text x="40.6" y="867.6999999999999" font-size="11.2" font-weight="bold" text-anchor="end" >100</text>
<line x1="64.7" y1="991.9" x2="64.7" y2="994.1" stroke="#000" stroke-width="1.7" />
<line x1="58.7" y1="991.9" x2="70.7" y2="991.9" stroke="#000" stroke-width="1.7" />
<rect x="53.40" y="995.10" width="22.60" height="2.80" fill="#fff" stroke="#000" stroke-width="2" />
<line x1="98.05" y1="974" x2="98.05" y2="979.2" stroke="#000" stroke-width="1.7" />
<line x1="92.05" y1="974" x2="104.05" y2="974" stroke="#000" stroke-width="1.7" />
<rect x="87.60" y="980.20" width="20.90" height="17.70" fill="#fff" stroke="#000" stroke-width="2" />
<line x1="132.25" y1="886" x2="132.25" y2="923.3" stroke="#000" stroke-width="1.7" />
<line x1="126.25" y1="886" x2="138.25" y2="886" stroke="#000" stroke-width="1.7" />
<rect x="121.70" y="924.30" width="21.10" height="73.60" fill="#fff" stroke="#000" stroke-width="2" />
<rect x="120.70" y="985.50" width="23.10" height="12.40" fill="#000" stroke="none" stroke-width="1" />
<line x1="132.25" y1="976" x2="132.25" y2="985.5" stroke="#000" stroke-width="1.7" />
<line x1="126.55" y1="976" x2="137.95" y2="976" stroke="#000" stroke-width="1.7" />
<line x1="166.10000000000002" y1="905.7" x2="166.10000000000002" y2="939.7" stroke="#000" stroke-width="1.7" />
<line x1="160.10000000000002" y1="905.7" x2="172.10000000000002" y2="905.7" stroke="#000" stroke-width="1.7" />
<rect x="155.80" y="940.70" width="20.60" height="57.20" fill="#fff" stroke="#000" stroke-width="2" />
<rect x="154.80" y="984.00" width="22.60" height="13.90" fill="#000" stroke="none" stroke-width="1" />
<line x1="166.10000000000002" y1="966" x2="166.10000000000002" y2="984" stroke="#000" stroke-width="1.7" />
<line x1="160.40000000000003" y1="966" x2="171.8" y2="966" stroke="#000" stroke-width="1.7" />
<line x1="200.35" y1="909.6" x2="200.35" y2="934.6" stroke="#000" stroke-width="1.7" />
<line x1="194.35" y1="909.6" x2="206.35" y2="909.6" stroke="#000" stroke-width="1.7" />
<rect x="190.20" y="935.60" width="20.30" height="62.30" fill="#fff" stroke="#000" stroke-width="2" />
<rect x="189.20" y="997.00" width="22.30" height="0.90" fill="#000" stroke="none" stroke-width="1" />
<line x1="234.45" y1="900.6" x2="234.45" y2="936.2" stroke="#000" stroke-width="1.7" />
<line x1="228.45" y1="900.6" x2="240.45" y2="900.6" stroke="#000" stroke-width="1.7" />
<rect x="223.90" y="937.20" width="21.10" height="60.70" fill="#fff" stroke="#000" stroke-width="2" />
<line x1="267.85" y1="913" x2="267.85" y2="916.3" stroke="#000" stroke-width="1.7" />
<line x1="261.85" y1="913" x2="273.85" y2="913" stroke="#000" stroke-width="1.7" />
<rect x="257.10" y="917.30" width="21.50" height="80.60" fill="#fff" stroke="#000" stroke-width="2" />
<rect x="256.10" y="996.50" width="23.50" height="1.40" fill="#000" stroke="none" stroke-width="1" />
<line x1="267.85" y1="993.3" x2="267.85" y2="996.5" stroke="#000" stroke-width="1.7" />
<line x1="262.15000000000003" y1="993.3" x2="273.55" y2="993.3" stroke="#000" stroke-width="1.7" />
<line x1="301.9" y1="909.6" x2="301.9" y2="913" stroke="#000" stroke-width="1.7" />
<line x1="295.9" y1="909.6" x2="307.9" y2="909.6" stroke="#000" stroke-width="1.7" />
<rect x="291.20" y="914.00" width="21.40" height="83.90" fill="#fff" stroke="#000" stroke-width="2" />
<rect x="290.20" y="997.30" width="23.40" height="0.60" fill="#000" stroke="none" stroke-width="1" />
<text x="168.1" y="874.2" font-size="14.5" font-weight="bold" textLength="32.8" lengthAdjust="spacingAndGlyphs" >GMP</text>
<rect x="55.50" y="857.60" width="21.30" height="7.10" fill="#fff" stroke="#000" stroke-width="1.8" />
<rect x="55.30" y="870.60" width="23.90" height="8.90" fill="#000" stroke="none" stroke-width="1" />
<text x="80.9" y="864.5" font-size="11.4" font-weight="bold" textLength="28.5" lengthAdjust="spacingAndGlyphs" >Total</text>
<text x="80.9" y="878.2" font-size="11" font-weight="bold" textLength="46.9" lengthAdjust="spacingAndGlyphs" >&gt;50cells</text>
<text x="44.6" y="1014.7" font-size="10.3" font-weight="bold" text-anchor="end" textLength="12" lengthAdjust="spacingAndGlyphs" >FL</text>
<text x="65.8" y="1016.55" font-size="13" font-weight="bold" text-anchor="middle" stroke="#000" stroke-width="0.2">-</text>
<text x="98.4" y="1014.83" font-size="10.3" font-weight="bold" text-anchor="middle" stroke="#000" stroke-width="0.25">+</text>
<text x="132.2" y="1016.55" font-size="13" font-weight="bold" text-anchor="middle" stroke="#000" stroke-width="0.2">-</text>
<text x="166.2" y="1014.83" font-size="10.3" font-weight="bold" text-anchor="middle" stroke="#000" stroke-width="0.25">+</text>
<text x="200.3" y="1016.55" font-size="13" font-weight="bold" text-anchor="middle" stroke="#000" stroke-width="0.2">-</text>
<text x="234.2" y="1014.83" font-size="10.3" font-weight="bold" text-anchor="middle" stroke="#000" stroke-width="0.25">+</text>
<text x="267.9" y="1016.55" font-size="13" font-weight="bold" text-anchor="middle" stroke="#000" stroke-width="0.2">-</text>
<text x="301" y="1014.83" font-size="10.3" font-weight="bold" text-anchor="middle" stroke="#000" stroke-width="0.25">+</text>
<text x="44.6" y="1026.7" font-size="10.3" font-weight="bold" text-anchor="end" textLength="43.2" lengthAdjust="spacingAndGlyphs" >GM-CSF</text>
<text x="65.8" y="1028.55" font-size="13" font-weight="bold" text-anchor="middle" stroke="#000" stroke-width="0.2">-</text>
<text x="98.4" y="1028.55" font-size="13" font-weight="bold" text-anchor="middle" stroke="#000" stroke-width="0.2">-</text>
<text x="132.2" y="1026.83" font-size="10.3" font-weight="bold" text-anchor="middle" stroke="#000" stroke-width="0.25">+</text>
<text x="166.2" y="1026.83" font-size="10.3" font-weight="bold" text-anchor="middle" stroke="#000" stroke-width="0.25">+</text>
<text x="200.3" y="1028.55" font-size="13" font-weight="bold" text-anchor="middle" stroke="#000" stroke-width="0.2">-</text>
<text x="234.2" y="1028.55" font-size="13" font-weight="bold" text-anchor="middle" stroke="#000" stroke-width="0.2">-</text>
<text x="267.9" y="1028.55" font-size="13" font-weight="bold" text-anchor="middle" stroke="#000" stroke-width="0.2">-</text>
<text x="301" y="1028.55" font-size="13" font-weight="bold" text-anchor="middle" stroke="#000" stroke-width="0.2">-</text>
<text x="44.6" y="1039" font-size="10.3" font-weight="bold" text-anchor="end" textLength="34.8" lengthAdjust="spacingAndGlyphs" >G-CSF</text>
<text x="65.8" y="1040.85" font-size="13" font-weight="bold" text-anchor="middle" stroke="#000" stroke-width="0.2">-</text>
<text x="98.4" y="1040.85" font-size="13" font-weight="bold" text-anchor="middle" stroke="#000" stroke-width="0.2">-</text>
<text x="132.2" y="1040.85" font-size="13" font-weight="bold" text-anchor="middle" stroke="#000" stroke-width="0.2">-</text>
<text x="166.2" y="1040.85" font-size="13" font-weight="bold" text-anchor="middle" stroke="#000" stroke-width="0.2">-</text>
<text x="200.3" y="1039.13" font-size="10.3" font-weight="bold" text-anchor="middle" stroke="#000" stroke-width="0.25">+</text>
<text x="234.2" y="1039.13" font-size="10.3" font-weight="bold" text-anchor="middle" stroke="#000" stroke-width="0.25">+</text>
<text x="267.9" y="1040.85" font-size="13" font-weight="bold" text-anchor="middle" stroke="#000" stroke-width="0.2">-</text>
<text x="301" y="1040.85" font-size="13" font-weight="bold" text-anchor="middle" stroke="#000" stroke-width="0.2">-</text>
<text x="44.6" y="1051.3" font-size="10.3" font-weight="bold" text-anchor="end" textLength="35.6" lengthAdjust="spacingAndGlyphs" >M-CSF</text>
<text x="65.8" y="1053.15" font-size="13" font-weight="bold" text-anchor="middle" stroke="#000" stroke-width="0.2">-</text>
<text x="98.4" y="1053.15" font-size="13" font-weight="bold" text-anchor="middle" stroke="#000" stroke-width="0.2">-</text>
<text x="132.2" y="1053.15" font-size="13" font-weight="bold" text-anchor="middle" stroke="#000" stroke-width="0.2">-</text>
<text x="166.2" y="1053.15" font-size="13" font-weight="bold" text-anchor="middle" stroke="#000" stroke-width="0.2">-</text>
<text x="200.3" y="1053.15" font-size="13" font-weight="bold" text-anchor="middle" stroke="#000" stroke-width="0.2">-</text>
<text x="234.2" y="1053.15" font-size="13" font-weight="bold" text-anchor="middle" stroke="#000" stroke-width="0.2">-</text>
<text x="267.9" y="1051.43" font-size="10.3" font-weight="bold" text-anchor="middle" stroke="#000" stroke-width="0.25">+</text>
<text x="301" y="1051.43" font-size="10.3" font-weight="bold" text-anchor="middle" stroke="#000" stroke-width="0.25">+</text>
<text x="18.9" y="983.2" font-size="13.4" font-weight="bold" textLength="114.4" lengthAdjust="spacingAndGlyphs" transform="rotate(-90 18.9 983.2)" >Clones / 120 cells</text>
<text x="0.5" y="1093.8" font-size="23" font-weight="bold" >D</text>
<line x1="52.1" y1="1091.5" x2="52.1" y2="1235.4" stroke="#000" stroke-width="2" />
<line x1="51.1" y1="1234.4" x2="141" y2="1234.4" stroke="#000" stroke-width="2.1" />
<line x1="46.9" y1="1234.4" x2="52.1" y2="1234.4" stroke="#000" stroke-width="1.8" />
<text x="45.1" y="1238.7" font-size="11.2" font-weight="bold" text-anchor="end" >0</text>
<line x1="46.9" y1="1216.13" x2="52.1" y2="1216.13" stroke="#000" stroke-width="1.8" />
<text x="45.1" y="1220.43" font-size="11.2" font-weight="bold" text-anchor="end" >20</text>
<line x1="46.9" y1="1197.8600000000001" x2="52.1" y2="1197.8600000000001" stroke="#000" stroke-width="1.8" />
<text x="45.1" y="1202.16" font-size="11.2" font-weight="bold" text-anchor="end" >40</text>
<line x1="46.9" y1="1179.5900000000001" x2="52.1" y2="1179.5900000000001" stroke="#000" stroke-width="1.8" />
<text x="45.1" y="1183.89" font-size="11.2" font-weight="bold" text-anchor="end" >60</text>
<line x1="46.9" y1="1161.3200000000002" x2="52.1" y2="1161.3200000000002" stroke="#000" stroke-width="1.8" />
<text x="45.1" y="1165.6200000000001" font-size="11.2" font-weight="bold" text-anchor="end" >80</text>
<line x1="46.9" y1="1143.0500000000002" x2="52.1" y2="1143.0500000000002" stroke="#000" stroke-width="1.8" />
<text x="45.1" y="1147.3500000000001" font-size="11.2" font-weight="bold" text-anchor="end" >100</text>
<line x1="46.9" y1="1124.7800000000002" x2="52.1" y2="1124.7800000000002" stroke="#000" stroke-width="1.8" />
<text x="45.1" y="1129.0800000000002" font-size="11.2" font-weight="bold" text-anchor="end" >120</text>
<line x1="46.9" y1="1106.51" x2="52.1" y2="1106.51" stroke="#000" stroke-width="1.8" />
<text x="45.1" y="1110.81" font-size="11.2" font-weight="bold" text-anchor="end" >140</text>
<rect x="64.40" y="1143.30" width="22.90" height="91.10" fill="#fff" stroke="#000" stroke-width="2" />
<rect x="63.40" y="1212.00" width="24.90" height="22.40" fill="#000" stroke="none" stroke-width="1" />
<line x1="75.85" y1="1205" x2="75.85" y2="1212" stroke="#000" stroke-width="1.6" />
<line x1="69.35" y1="1205" x2="82.35" y2="1205" stroke="#000" stroke-width="1.6" />
<line x1="123.05" y1="1118" x2="123.05" y2="1125.5" stroke="#000" stroke-width="1.6" />
<line x1="116.55" y1="1118" x2="129.55" y2="1118" stroke="#000" stroke-width="1.6" />
<rect x="111.90" y="1126.50" width="22.30" height="107.90" fill="#fff" stroke="#000" stroke-width="2" />
<rect x="110.90" y="1157.20" width="24.30" height="77.20" fill="#000" stroke="none" stroke-width="1" />
<line x1="123.05" y1="1149.8" x2="123.05" y2="1157.2" stroke="#000" stroke-width="1.6" />
<line x1="116.55" y1="1149.8" x2="129.55" y2="1149.8" stroke="#000" stroke-width="1.6" />
<rect x="58.70" y="1094.30" width="21.10" height="6.60" fill="#fff" stroke="#000" stroke-width="1.8" />
<rect x="59.20" y="1106.00" width="22.10" height="8.30" fill="#000" stroke="none" stroke-width="1" />
<text x="83.5" y="1101.2" font-size="11" font-weight="bold" textLength="26.5" lengthAdjust="spacingAndGlyphs" >Total</text>
<text x="84" y="1114.3" font-size="11" font-weight="bold" textLength="30.8" lengthAdjust="spacingAndGlyphs" >&gt;50%</text>
<text x="57.4" y="1251.9" font-size="11.3" font-weight="bold" textLength="29.8" lengthAdjust="spacingAndGlyphs" >FLT3</text>
<text x="90.9" y="1247.5" font-size="10" font-weight="bold" text-anchor="middle" >-</text>
<text x="103.1" y="1251.9" font-size="11.3" font-weight="bold" textLength="28.6" lengthAdjust="spacingAndGlyphs" >FLT3</text>
<text x="135.45" y="1247.5" font-size="10" font-weight="bold" text-anchor="middle" >+</text>
<line x1="55.8" y1="1258.6" x2="136.3" y2="1258.6" stroke="#000" stroke-width="1.3" />
<text x="69.9" y="1275.3" font-size="14.5" font-weight="bold" textLength="55.7" lengthAdjust="spacingAndGlyphs" >preGMP</text>
<text x="20.9" y="1219.9" font-size="13.2" font-weight="bold" textLength="114" lengthAdjust="spacingAndGlyphs" transform="rotate(-90 20.9 1219.9)" >Clones / 120 cells</text>
</g>
</svg>
</body></html>
